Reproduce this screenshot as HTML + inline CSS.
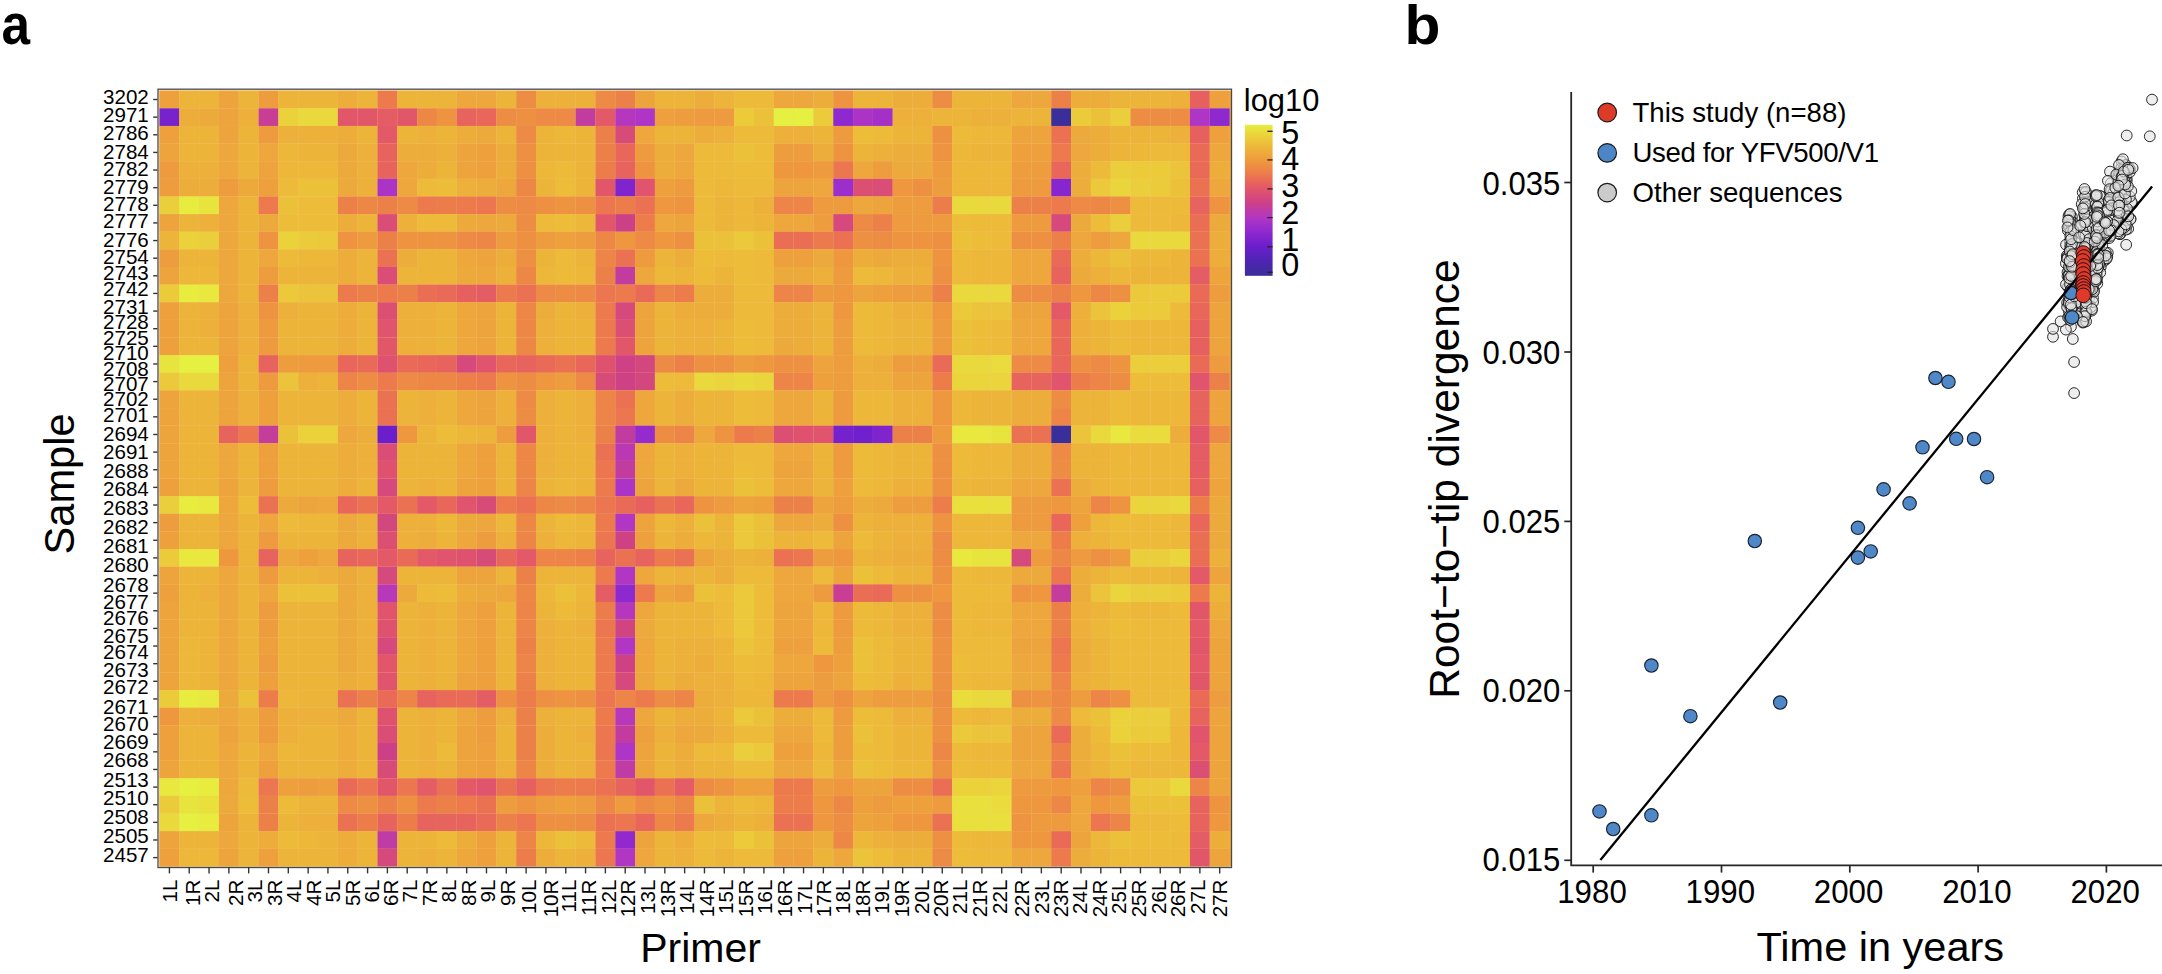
<!DOCTYPE html>
<html lang="en"><head><meta charset="utf-8"><title>Figure</title>
<style>html,body{margin:0;padding:0;background:#fff}svg{display:block}text{font-family:"Liberation Sans", sans-serif;fill:#000}</style></head><body>
<svg width="2162" height="974" viewBox="0 0 2162 974">
<rect width="2162" height="974" fill="#fff"/>
<rect x="159.50" y="90.70" width="1071.72" height="775.72" fill="#eda63c"/>
<rect x="159.50" y="90.70" width="1069.82" height="775.72" fill="#f3d088"/>
<g id="heat">
<rect x="159.50" y="90.70" width="19.82" height="17.63" fill="#eea03d"/>
<rect x="179.32" y="90.70" width="19.82" height="17.63" fill="#edb43a"/>
<rect x="199.13" y="90.70" width="19.82" height="17.63" fill="#edb43a"/>
<rect x="218.95" y="90.70" width="19.82" height="17.63" fill="#eea43c"/>
<rect x="238.77" y="90.70" width="19.82" height="17.63" fill="#edb43a"/>
<rect x="258.59" y="90.70" width="19.82" height="17.63" fill="#ee9d3e"/>
<rect x="278.40" y="90.70" width="19.82" height="17.63" fill="#edb43a"/>
<rect x="298.22" y="90.70" width="19.82" height="17.63" fill="#edb43a"/>
<rect x="318.04" y="90.70" width="19.82" height="17.63" fill="#edb43a"/>
<rect x="337.85" y="90.70" width="19.82" height="17.63" fill="#edad3b"/>
<rect x="357.67" y="90.70" width="19.82" height="17.63" fill="#edb43a"/>
<rect x="377.49" y="90.70" width="19.82" height="17.63" fill="#ec7a4c"/>
<rect x="397.30" y="90.70" width="19.82" height="17.63" fill="#edb43a"/>
<rect x="417.12" y="90.70" width="19.82" height="17.63" fill="#edb43a"/>
<rect x="436.94" y="90.70" width="19.82" height="17.63" fill="#edb43a"/>
<rect x="456.75" y="90.70" width="19.82" height="17.63" fill="#eea73c"/>
<rect x="476.57" y="90.70" width="19.82" height="17.63" fill="#eea73c"/>
<rect x="496.39" y="90.70" width="19.82" height="17.63" fill="#edb43a"/>
<rect x="516.21" y="90.70" width="19.82" height="17.63" fill="#ed8d44"/>
<rect x="536.02" y="90.70" width="19.82" height="17.63" fill="#edb13b"/>
<rect x="555.84" y="90.70" width="19.82" height="17.63" fill="#edb13b"/>
<rect x="575.66" y="90.70" width="19.82" height="17.63" fill="#edb13b"/>
<rect x="595.47" y="90.70" width="19.82" height="17.63" fill="#ed8a45"/>
<rect x="615.29" y="90.70" width="19.82" height="17.63" fill="#ec8049"/>
<rect x="635.11" y="90.70" width="19.82" height="17.63" fill="#eea43c"/>
<rect x="654.92" y="90.70" width="19.82" height="17.63" fill="#edb43a"/>
<rect x="674.74" y="90.70" width="19.82" height="17.63" fill="#edb43a"/>
<rect x="694.56" y="90.70" width="19.82" height="17.63" fill="#edad3b"/>
<rect x="714.38" y="90.70" width="19.82" height="17.63" fill="#edb43a"/>
<rect x="734.19" y="90.70" width="19.82" height="17.63" fill="#edba3a"/>
<rect x="754.01" y="90.70" width="19.82" height="17.63" fill="#edba3a"/>
<rect x="773.83" y="90.70" width="19.82" height="17.63" fill="#eea73c"/>
<rect x="793.64" y="90.70" width="19.82" height="17.63" fill="#eea73c"/>
<rect x="813.46" y="90.70" width="19.82" height="17.63" fill="#edad3b"/>
<rect x="833.28" y="90.70" width="19.82" height="17.63" fill="#ee9441"/>
<rect x="853.10" y="90.70" width="19.82" height="17.63" fill="#edb43a"/>
<rect x="872.91" y="90.70" width="19.82" height="17.63" fill="#edb43a"/>
<rect x="892.73" y="90.70" width="19.82" height="17.63" fill="#edad3b"/>
<rect x="912.55" y="90.70" width="19.82" height="17.63" fill="#edad3b"/>
<rect x="932.36" y="90.70" width="19.82" height="17.63" fill="#ed8d44"/>
<rect x="952.18" y="90.70" width="19.82" height="17.63" fill="#edb43a"/>
<rect x="972.00" y="90.70" width="19.82" height="17.63" fill="#edb43a"/>
<rect x="991.81" y="90.70" width="19.82" height="17.63" fill="#edb43a"/>
<rect x="1011.63" y="90.70" width="19.82" height="17.63" fill="#eea73c"/>
<rect x="1031.45" y="90.70" width="19.82" height="17.63" fill="#eea73c"/>
<rect x="1051.26" y="90.70" width="19.82" height="17.63" fill="#ec8049"/>
<rect x="1071.08" y="90.70" width="19.82" height="17.63" fill="#edad3b"/>
<rect x="1090.90" y="90.70" width="19.82" height="17.63" fill="#edad3b"/>
<rect x="1110.72" y="90.70" width="19.82" height="17.63" fill="#edb43a"/>
<rect x="1130.53" y="90.70" width="19.82" height="17.63" fill="#edb43a"/>
<rect x="1150.35" y="90.70" width="19.82" height="17.63" fill="#edb43a"/>
<rect x="1170.17" y="90.70" width="19.82" height="17.63" fill="#edb13b"/>
<rect x="1189.98" y="90.70" width="19.82" height="17.63" fill="#e66060"/>
<rect x="1209.80" y="90.70" width="19.82" height="17.63" fill="#eea03d"/>
<rect x="159.50" y="108.33" width="19.82" height="17.63" fill="#7822cd"/>
<rect x="179.32" y="108.33" width="19.82" height="17.63" fill="#edad3b"/>
<rect x="199.13" y="108.33" width="19.82" height="17.63" fill="#edaa3c"/>
<rect x="218.95" y="108.33" width="19.82" height="17.63" fill="#eea43c"/>
<rect x="238.77" y="108.33" width="19.82" height="17.63" fill="#edb13b"/>
<rect x="258.59" y="108.33" width="19.82" height="17.63" fill="#c73e94"/>
<rect x="278.40" y="108.33" width="19.82" height="17.63" fill="#ebd23b"/>
<rect x="298.22" y="108.33" width="19.82" height="17.63" fill="#ead93c"/>
<rect x="318.04" y="108.33" width="19.82" height="17.63" fill="#ead93c"/>
<rect x="337.85" y="108.33" width="19.82" height="17.63" fill="#e2566a"/>
<rect x="357.67" y="108.33" width="19.82" height="17.63" fill="#e2566a"/>
<rect x="377.49" y="108.33" width="19.82" height="17.63" fill="#e45c64"/>
<rect x="397.30" y="108.33" width="19.82" height="17.63" fill="#e2566a"/>
<rect x="417.12" y="108.33" width="19.82" height="17.63" fill="#ed8746"/>
<rect x="436.94" y="108.33" width="19.82" height="17.63" fill="#ee9441"/>
<rect x="456.75" y="108.33" width="19.82" height="17.63" fill="#e7635d"/>
<rect x="476.57" y="108.33" width="19.82" height="17.63" fill="#e8665a"/>
<rect x="496.39" y="108.33" width="19.82" height="17.63" fill="#ed8d44"/>
<rect x="516.21" y="108.33" width="19.82" height="17.63" fill="#ed9042"/>
<rect x="536.02" y="108.33" width="19.82" height="17.63" fill="#ed8a45"/>
<rect x="555.84" y="108.33" width="19.82" height="17.63" fill="#ed8a45"/>
<rect x="575.66" y="108.33" width="19.82" height="17.63" fill="#c23ca0"/>
<rect x="595.47" y="108.33" width="19.82" height="17.63" fill="#e35967"/>
<rect x="615.29" y="108.33" width="19.82" height="17.63" fill="#b537be"/>
<rect x="635.11" y="108.33" width="19.82" height="17.63" fill="#ae35c5"/>
<rect x="654.92" y="108.33" width="19.82" height="17.63" fill="#eea03d"/>
<rect x="674.74" y="108.33" width="19.82" height="17.63" fill="#ee9d3e"/>
<rect x="694.56" y="108.33" width="19.82" height="17.63" fill="#ee9a3e"/>
<rect x="714.38" y="108.33" width="19.82" height="17.63" fill="#ee9a3e"/>
<rect x="734.19" y="108.33" width="19.82" height="17.63" fill="#eccb3b"/>
<rect x="754.01" y="108.33" width="19.82" height="17.63" fill="#ecc13a"/>
<rect x="773.83" y="108.33" width="19.82" height="17.63" fill="#e6f040"/>
<rect x="793.64" y="108.33" width="19.82" height="17.63" fill="#e6f040"/>
<rect x="813.46" y="108.33" width="19.82" height="17.63" fill="#eccb3b"/>
<rect x="833.28" y="108.33" width="19.82" height="17.63" fill="#8e28cf"/>
<rect x="853.10" y="108.33" width="19.82" height="17.63" fill="#ab33c6"/>
<rect x="872.91" y="108.33" width="19.82" height="17.63" fill="#a430c8"/>
<rect x="892.73" y="108.33" width="19.82" height="17.63" fill="#edb13b"/>
<rect x="912.55" y="108.33" width="19.82" height="17.63" fill="#edb13b"/>
<rect x="932.36" y="108.33" width="19.82" height="17.63" fill="#edb43a"/>
<rect x="952.18" y="108.33" width="19.82" height="17.63" fill="#edb43a"/>
<rect x="972.00" y="108.33" width="19.82" height="17.63" fill="#edb13b"/>
<rect x="991.81" y="108.33" width="19.82" height="17.63" fill="#edb13b"/>
<rect x="1011.63" y="108.33" width="19.82" height="17.63" fill="#edb43a"/>
<rect x="1031.45" y="108.33" width="19.82" height="17.63" fill="#edb43a"/>
<rect x="1051.26" y="108.33" width="19.82" height="17.63" fill="#3a2e9a"/>
<rect x="1071.08" y="108.33" width="19.82" height="17.63" fill="#eccb3b"/>
<rect x="1090.90" y="108.33" width="19.82" height="17.63" fill="#ecc13a"/>
<rect x="1110.72" y="108.33" width="19.82" height="17.63" fill="#ebce3b"/>
<rect x="1130.53" y="108.33" width="19.82" height="17.63" fill="#ed8d44"/>
<rect x="1150.35" y="108.33" width="19.82" height="17.63" fill="#ed8d44"/>
<rect x="1170.17" y="108.33" width="19.82" height="17.63" fill="#ed8d44"/>
<rect x="1189.98" y="108.33" width="19.82" height="17.63" fill="#ae35c5"/>
<rect x="1209.80" y="108.33" width="19.82" height="17.63" fill="#8e28cf"/>
<rect x="159.50" y="125.96" width="19.82" height="17.63" fill="#eea03d"/>
<rect x="179.32" y="125.96" width="19.82" height="17.63" fill="#edb43a"/>
<rect x="199.13" y="125.96" width="19.82" height="17.63" fill="#edb43a"/>
<rect x="218.95" y="125.96" width="19.82" height="17.63" fill="#eea43c"/>
<rect x="238.77" y="125.96" width="19.82" height="17.63" fill="#edb43a"/>
<rect x="258.59" y="125.96" width="19.82" height="17.63" fill="#ee9a3e"/>
<rect x="278.40" y="125.96" width="19.82" height="17.63" fill="#edb13b"/>
<rect x="298.22" y="125.96" width="19.82" height="17.63" fill="#edb13b"/>
<rect x="318.04" y="125.96" width="19.82" height="17.63" fill="#edb13b"/>
<rect x="337.85" y="125.96" width="19.82" height="17.63" fill="#edad3b"/>
<rect x="357.67" y="125.96" width="19.82" height="17.63" fill="#edb43a"/>
<rect x="377.49" y="125.96" width="19.82" height="17.63" fill="#e35967"/>
<rect x="397.30" y="125.96" width="19.82" height="17.63" fill="#edb43a"/>
<rect x="417.12" y="125.96" width="19.82" height="17.63" fill="#edb13b"/>
<rect x="436.94" y="125.96" width="19.82" height="17.63" fill="#edb43a"/>
<rect x="456.75" y="125.96" width="19.82" height="17.63" fill="#edad3b"/>
<rect x="476.57" y="125.96" width="19.82" height="17.63" fill="#edaa3c"/>
<rect x="496.39" y="125.96" width="19.82" height="17.63" fill="#edb43a"/>
<rect x="516.21" y="125.96" width="19.82" height="17.63" fill="#ed8a45"/>
<rect x="536.02" y="125.96" width="19.82" height="17.63" fill="#edb43a"/>
<rect x="555.84" y="125.96" width="19.82" height="17.63" fill="#edb73a"/>
<rect x="575.66" y="125.96" width="19.82" height="17.63" fill="#edb43a"/>
<rect x="595.47" y="125.96" width="19.82" height="17.63" fill="#ec8049"/>
<rect x="615.29" y="125.96" width="19.82" height="17.63" fill="#d74b79"/>
<rect x="635.11" y="125.96" width="19.82" height="17.63" fill="#eea73c"/>
<rect x="654.92" y="125.96" width="19.82" height="17.63" fill="#edb43a"/>
<rect x="674.74" y="125.96" width="19.82" height="17.63" fill="#edb43a"/>
<rect x="694.56" y="125.96" width="19.82" height="17.63" fill="#edad3b"/>
<rect x="714.38" y="125.96" width="19.82" height="17.63" fill="#edb13b"/>
<rect x="734.19" y="125.96" width="19.82" height="17.63" fill="#edba3a"/>
<rect x="754.01" y="125.96" width="19.82" height="17.63" fill="#edba3a"/>
<rect x="773.83" y="125.96" width="19.82" height="17.63" fill="#edb13b"/>
<rect x="793.64" y="125.96" width="19.82" height="17.63" fill="#edb13b"/>
<rect x="813.46" y="125.96" width="19.82" height="17.63" fill="#edb43a"/>
<rect x="833.28" y="125.96" width="19.82" height="17.63" fill="#ee9a3e"/>
<rect x="853.10" y="125.96" width="19.82" height="17.63" fill="#edbd3a"/>
<rect x="872.91" y="125.96" width="19.82" height="17.63" fill="#edba3a"/>
<rect x="892.73" y="125.96" width="19.82" height="17.63" fill="#edb43a"/>
<rect x="912.55" y="125.96" width="19.82" height="17.63" fill="#edb43a"/>
<rect x="932.36" y="125.96" width="19.82" height="17.63" fill="#ed9042"/>
<rect x="952.18" y="125.96" width="19.82" height="17.63" fill="#edba3a"/>
<rect x="972.00" y="125.96" width="19.82" height="17.63" fill="#edb73a"/>
<rect x="991.81" y="125.96" width="19.82" height="17.63" fill="#edb73a"/>
<rect x="1011.63" y="125.96" width="19.82" height="17.63" fill="#eea43c"/>
<rect x="1031.45" y="125.96" width="19.82" height="17.63" fill="#eea43c"/>
<rect x="1051.26" y="125.96" width="19.82" height="17.63" fill="#ea7252"/>
<rect x="1071.08" y="125.96" width="19.82" height="17.63" fill="#edaa3c"/>
<rect x="1090.90" y="125.96" width="19.82" height="17.63" fill="#edad3b"/>
<rect x="1110.72" y="125.96" width="19.82" height="17.63" fill="#edb43a"/>
<rect x="1130.53" y="125.96" width="19.82" height="17.63" fill="#edb43a"/>
<rect x="1150.35" y="125.96" width="19.82" height="17.63" fill="#edb43a"/>
<rect x="1170.17" y="125.96" width="19.82" height="17.63" fill="#edb13b"/>
<rect x="1189.98" y="125.96" width="19.82" height="17.63" fill="#e66060"/>
<rect x="1209.80" y="125.96" width="19.82" height="17.63" fill="#eea03d"/>
<rect x="159.50" y="143.59" width="19.82" height="17.63" fill="#eea43c"/>
<rect x="179.32" y="143.59" width="19.82" height="17.63" fill="#edb43a"/>
<rect x="199.13" y="143.59" width="19.82" height="17.63" fill="#edb43a"/>
<rect x="218.95" y="143.59" width="19.82" height="17.63" fill="#eea73c"/>
<rect x="238.77" y="143.59" width="19.82" height="17.63" fill="#edb43a"/>
<rect x="258.59" y="143.59" width="19.82" height="17.63" fill="#eea73c"/>
<rect x="278.40" y="143.59" width="19.82" height="17.63" fill="#edb73a"/>
<rect x="298.22" y="143.59" width="19.82" height="17.63" fill="#edb43a"/>
<rect x="318.04" y="143.59" width="19.82" height="17.63" fill="#edb43a"/>
<rect x="337.85" y="143.59" width="19.82" height="17.63" fill="#edaa3c"/>
<rect x="357.67" y="143.59" width="19.82" height="17.63" fill="#edb13b"/>
<rect x="377.49" y="143.59" width="19.82" height="17.63" fill="#e7635d"/>
<rect x="397.30" y="143.59" width="19.82" height="17.63" fill="#edad3b"/>
<rect x="417.12" y="143.59" width="19.82" height="17.63" fill="#edad3b"/>
<rect x="436.94" y="143.59" width="19.82" height="17.63" fill="#edb13b"/>
<rect x="456.75" y="143.59" width="19.82" height="17.63" fill="#eea43c"/>
<rect x="476.57" y="143.59" width="19.82" height="17.63" fill="#eea03d"/>
<rect x="496.39" y="143.59" width="19.82" height="17.63" fill="#edad3b"/>
<rect x="516.21" y="143.59" width="19.82" height="17.63" fill="#ed9042"/>
<rect x="536.02" y="143.59" width="19.82" height="17.63" fill="#edb43a"/>
<rect x="555.84" y="143.59" width="19.82" height="17.63" fill="#edb43a"/>
<rect x="575.66" y="143.59" width="19.82" height="17.63" fill="#edb43a"/>
<rect x="595.47" y="143.59" width="19.82" height="17.63" fill="#ec8049"/>
<rect x="615.29" y="143.59" width="19.82" height="17.63" fill="#e8665a"/>
<rect x="635.11" y="143.59" width="19.82" height="17.63" fill="#ee9a3e"/>
<rect x="654.92" y="143.59" width="19.82" height="17.63" fill="#edad3b"/>
<rect x="674.74" y="143.59" width="19.82" height="17.63" fill="#eea73c"/>
<rect x="694.56" y="143.59" width="19.82" height="17.63" fill="#edba3a"/>
<rect x="714.38" y="143.59" width="19.82" height="17.63" fill="#edba3a"/>
<rect x="734.19" y="143.59" width="19.82" height="17.63" fill="#ecc13a"/>
<rect x="754.01" y="143.59" width="19.82" height="17.63" fill="#edbd3a"/>
<rect x="773.83" y="143.59" width="19.82" height="17.63" fill="#ee9d3e"/>
<rect x="793.64" y="143.59" width="19.82" height="17.63" fill="#ee9d3e"/>
<rect x="813.46" y="143.59" width="19.82" height="17.63" fill="#edad3b"/>
<rect x="833.28" y="143.59" width="19.82" height="17.63" fill="#ee9441"/>
<rect x="853.10" y="143.59" width="19.82" height="17.63" fill="#edb43a"/>
<rect x="872.91" y="143.59" width="19.82" height="17.63" fill="#edb13b"/>
<rect x="892.73" y="143.59" width="19.82" height="17.63" fill="#edad3b"/>
<rect x="912.55" y="143.59" width="19.82" height="17.63" fill="#edad3b"/>
<rect x="932.36" y="143.59" width="19.82" height="17.63" fill="#ee9441"/>
<rect x="952.18" y="143.59" width="19.82" height="17.63" fill="#edb73a"/>
<rect x="972.00" y="143.59" width="19.82" height="17.63" fill="#edb43a"/>
<rect x="991.81" y="143.59" width="19.82" height="17.63" fill="#edb43a"/>
<rect x="1011.63" y="143.59" width="19.82" height="17.63" fill="#eea03d"/>
<rect x="1031.45" y="143.59" width="19.82" height="17.63" fill="#eea03d"/>
<rect x="1051.26" y="143.59" width="19.82" height="17.63" fill="#ec7a4c"/>
<rect x="1071.08" y="143.59" width="19.82" height="17.63" fill="#eea73c"/>
<rect x="1090.90" y="143.59" width="19.82" height="17.63" fill="#edad3b"/>
<rect x="1110.72" y="143.59" width="19.82" height="17.63" fill="#edb43a"/>
<rect x="1130.53" y="143.59" width="19.82" height="17.63" fill="#edb73a"/>
<rect x="1150.35" y="143.59" width="19.82" height="17.63" fill="#edba3a"/>
<rect x="1170.17" y="143.59" width="19.82" height="17.63" fill="#edba3a"/>
<rect x="1189.98" y="143.59" width="19.82" height="17.63" fill="#e96a57"/>
<rect x="1209.80" y="143.59" width="19.82" height="17.63" fill="#eea73c"/>
<rect x="159.50" y="161.22" width="19.82" height="17.63" fill="#ee9a3e"/>
<rect x="179.32" y="161.22" width="19.82" height="17.63" fill="#edb13b"/>
<rect x="199.13" y="161.22" width="19.82" height="17.63" fill="#edb13b"/>
<rect x="218.95" y="161.22" width="19.82" height="17.63" fill="#eea73c"/>
<rect x="238.77" y="161.22" width="19.82" height="17.63" fill="#edb43a"/>
<rect x="258.59" y="161.22" width="19.82" height="17.63" fill="#eea43c"/>
<rect x="278.40" y="161.22" width="19.82" height="17.63" fill="#edb73a"/>
<rect x="298.22" y="161.22" width="19.82" height="17.63" fill="#edb73a"/>
<rect x="318.04" y="161.22" width="19.82" height="17.63" fill="#edb73a"/>
<rect x="337.85" y="161.22" width="19.82" height="17.63" fill="#edaa3c"/>
<rect x="357.67" y="161.22" width="19.82" height="17.63" fill="#edb13b"/>
<rect x="377.49" y="161.22" width="19.82" height="17.63" fill="#e7635d"/>
<rect x="397.30" y="161.22" width="19.82" height="17.63" fill="#eea73c"/>
<rect x="417.12" y="161.22" width="19.82" height="17.63" fill="#edad3b"/>
<rect x="436.94" y="161.22" width="19.82" height="17.63" fill="#edb43a"/>
<rect x="456.75" y="161.22" width="19.82" height="17.63" fill="#eea43c"/>
<rect x="476.57" y="161.22" width="19.82" height="17.63" fill="#eea03d"/>
<rect x="496.39" y="161.22" width="19.82" height="17.63" fill="#edad3b"/>
<rect x="516.21" y="161.22" width="19.82" height="17.63" fill="#ed9042"/>
<rect x="536.02" y="161.22" width="19.82" height="17.63" fill="#edb73a"/>
<rect x="555.84" y="161.22" width="19.82" height="17.63" fill="#edba3a"/>
<rect x="575.66" y="161.22" width="19.82" height="17.63" fill="#edb43a"/>
<rect x="595.47" y="161.22" width="19.82" height="17.63" fill="#ec7d4b"/>
<rect x="615.29" y="161.22" width="19.82" height="17.63" fill="#e7635d"/>
<rect x="635.11" y="161.22" width="19.82" height="17.63" fill="#ee9441"/>
<rect x="654.92" y="161.22" width="19.82" height="17.63" fill="#edad3b"/>
<rect x="674.74" y="161.22" width="19.82" height="17.63" fill="#eea73c"/>
<rect x="694.56" y="161.22" width="19.82" height="17.63" fill="#edba3a"/>
<rect x="714.38" y="161.22" width="19.82" height="17.63" fill="#edba3a"/>
<rect x="734.19" y="161.22" width="19.82" height="17.63" fill="#edbd3a"/>
<rect x="754.01" y="161.22" width="19.82" height="17.63" fill="#edbd3a"/>
<rect x="773.83" y="161.22" width="19.82" height="17.63" fill="#ee973f"/>
<rect x="793.64" y="161.22" width="19.82" height="17.63" fill="#ee973f"/>
<rect x="813.46" y="161.22" width="19.82" height="17.63" fill="#ee9a3e"/>
<rect x="833.28" y="161.22" width="19.82" height="17.63" fill="#eb764f"/>
<rect x="853.10" y="161.22" width="19.82" height="17.63" fill="#eea73c"/>
<rect x="872.91" y="161.22" width="19.82" height="17.63" fill="#ee9d3e"/>
<rect x="892.73" y="161.22" width="19.82" height="17.63" fill="#edaa3c"/>
<rect x="912.55" y="161.22" width="19.82" height="17.63" fill="#edaa3c"/>
<rect x="932.36" y="161.22" width="19.82" height="17.63" fill="#ee9a3e"/>
<rect x="952.18" y="161.22" width="19.82" height="17.63" fill="#edb73a"/>
<rect x="972.00" y="161.22" width="19.82" height="17.63" fill="#edb73a"/>
<rect x="991.81" y="161.22" width="19.82" height="17.63" fill="#edb73a"/>
<rect x="1011.63" y="161.22" width="19.82" height="17.63" fill="#ee9d3e"/>
<rect x="1031.45" y="161.22" width="19.82" height="17.63" fill="#ee9d3e"/>
<rect x="1051.26" y="161.22" width="19.82" height="17.63" fill="#e8665a"/>
<rect x="1071.08" y="161.22" width="19.82" height="17.63" fill="#edad3b"/>
<rect x="1090.90" y="161.22" width="19.82" height="17.63" fill="#edba3a"/>
<rect x="1110.72" y="161.22" width="19.82" height="17.63" fill="#ebce3b"/>
<rect x="1130.53" y="161.22" width="19.82" height="17.63" fill="#eccb3b"/>
<rect x="1150.35" y="161.22" width="19.82" height="17.63" fill="#eccb3b"/>
<rect x="1170.17" y="161.22" width="19.82" height="17.63" fill="#ecc43b"/>
<rect x="1189.98" y="161.22" width="19.82" height="17.63" fill="#e96a57"/>
<rect x="1209.80" y="161.22" width="19.82" height="17.63" fill="#edad3b"/>
<rect x="159.50" y="178.85" width="19.82" height="17.63" fill="#ee9d3e"/>
<rect x="179.32" y="178.85" width="19.82" height="17.63" fill="#edad3b"/>
<rect x="199.13" y="178.85" width="19.82" height="17.63" fill="#edad3b"/>
<rect x="218.95" y="178.85" width="19.82" height="17.63" fill="#ee9d3e"/>
<rect x="238.77" y="178.85" width="19.82" height="17.63" fill="#edaa3c"/>
<rect x="258.59" y="178.85" width="19.82" height="17.63" fill="#eea03d"/>
<rect x="278.40" y="178.85" width="19.82" height="17.63" fill="#edba3a"/>
<rect x="298.22" y="178.85" width="19.82" height="17.63" fill="#ecc13a"/>
<rect x="318.04" y="178.85" width="19.82" height="17.63" fill="#ecc13a"/>
<rect x="337.85" y="178.85" width="19.82" height="17.63" fill="#edaa3c"/>
<rect x="357.67" y="178.85" width="19.82" height="17.63" fill="#edb13b"/>
<rect x="377.49" y="178.85" width="19.82" height="17.63" fill="#ab33c6"/>
<rect x="397.30" y="178.85" width="19.82" height="17.63" fill="#eea73c"/>
<rect x="417.12" y="178.85" width="19.82" height="17.63" fill="#edba3a"/>
<rect x="436.94" y="178.85" width="19.82" height="17.63" fill="#edbd3a"/>
<rect x="456.75" y="178.85" width="19.82" height="17.63" fill="#edb13b"/>
<rect x="476.57" y="178.85" width="19.82" height="17.63" fill="#edad3b"/>
<rect x="496.39" y="178.85" width="19.82" height="17.63" fill="#eea73c"/>
<rect x="516.21" y="178.85" width="19.82" height="17.63" fill="#ed8746"/>
<rect x="536.02" y="178.85" width="19.82" height="17.63" fill="#edb43a"/>
<rect x="555.84" y="178.85" width="19.82" height="17.63" fill="#edbd3a"/>
<rect x="575.66" y="178.85" width="19.82" height="17.63" fill="#edb43a"/>
<rect x="595.47" y="178.85" width="19.82" height="17.63" fill="#e2566a"/>
<rect x="615.29" y="178.85" width="19.82" height="17.63" fill="#8024ce"/>
<rect x="635.11" y="178.85" width="19.82" height="17.63" fill="#e0546d"/>
<rect x="654.92" y="178.85" width="19.82" height="17.63" fill="#eea03d"/>
<rect x="674.74" y="178.85" width="19.82" height="17.63" fill="#ee9a3e"/>
<rect x="694.56" y="178.85" width="19.82" height="17.63" fill="#edba3a"/>
<rect x="714.38" y="178.85" width="19.82" height="17.63" fill="#edb73a"/>
<rect x="734.19" y="178.85" width="19.82" height="17.63" fill="#edba3a"/>
<rect x="754.01" y="178.85" width="19.82" height="17.63" fill="#edba3a"/>
<rect x="773.83" y="178.85" width="19.82" height="17.63" fill="#eea43c"/>
<rect x="793.64" y="178.85" width="19.82" height="17.63" fill="#eea43c"/>
<rect x="813.46" y="178.85" width="19.82" height="17.63" fill="#eea73c"/>
<rect x="833.28" y="178.85" width="19.82" height="17.63" fill="#9c2ecb"/>
<rect x="853.10" y="178.85" width="19.82" height="17.63" fill="#db4f73"/>
<rect x="872.91" y="178.85" width="19.82" height="17.63" fill="#d94d76"/>
<rect x="892.73" y="178.85" width="19.82" height="17.63" fill="#ee973f"/>
<rect x="912.55" y="178.85" width="19.82" height="17.63" fill="#ed9042"/>
<rect x="932.36" y="178.85" width="19.82" height="17.63" fill="#ee9d3e"/>
<rect x="952.18" y="178.85" width="19.82" height="17.63" fill="#edb73a"/>
<rect x="972.00" y="178.85" width="19.82" height="17.63" fill="#edb73a"/>
<rect x="991.81" y="178.85" width="19.82" height="17.63" fill="#edb73a"/>
<rect x="1011.63" y="178.85" width="19.82" height="17.63" fill="#ee9a3e"/>
<rect x="1031.45" y="178.85" width="19.82" height="17.63" fill="#ee9a3e"/>
<rect x="1051.26" y="178.85" width="19.82" height="17.63" fill="#8726ce"/>
<rect x="1071.08" y="178.85" width="19.82" height="17.63" fill="#edad3b"/>
<rect x="1090.90" y="178.85" width="19.82" height="17.63" fill="#ecc83b"/>
<rect x="1110.72" y="178.85" width="19.82" height="17.63" fill="#ebd53c"/>
<rect x="1130.53" y="178.85" width="19.82" height="17.63" fill="#ebce3b"/>
<rect x="1150.35" y="178.85" width="19.82" height="17.63" fill="#eccb3b"/>
<rect x="1170.17" y="178.85" width="19.82" height="17.63" fill="#ecc13a"/>
<rect x="1189.98" y="178.85" width="19.82" height="17.63" fill="#ea7252"/>
<rect x="1209.80" y="178.85" width="19.82" height="17.63" fill="#eea73c"/>
<rect x="159.50" y="196.48" width="19.82" height="17.63" fill="#ebce3b"/>
<rect x="179.32" y="196.48" width="19.82" height="17.63" fill="#e7ec3f"/>
<rect x="199.13" y="196.48" width="19.82" height="17.63" fill="#e8e43e"/>
<rect x="218.95" y="196.48" width="19.82" height="17.63" fill="#eea73c"/>
<rect x="238.77" y="196.48" width="19.82" height="17.63" fill="#edb43a"/>
<rect x="258.59" y="196.48" width="19.82" height="17.63" fill="#ec7a4c"/>
<rect x="278.40" y="196.48" width="19.82" height="17.63" fill="#ecc13a"/>
<rect x="298.22" y="196.48" width="19.82" height="17.63" fill="#edbd3a"/>
<rect x="318.04" y="196.48" width="19.82" height="17.63" fill="#edbd3a"/>
<rect x="337.85" y="196.48" width="19.82" height="17.63" fill="#ec8049"/>
<rect x="357.67" y="196.48" width="19.82" height="17.63" fill="#ed8746"/>
<rect x="377.49" y="196.48" width="19.82" height="17.63" fill="#ec8049"/>
<rect x="397.30" y="196.48" width="19.82" height="17.63" fill="#ed8a45"/>
<rect x="417.12" y="196.48" width="19.82" height="17.63" fill="#ec7a4c"/>
<rect x="436.94" y="196.48" width="19.82" height="17.63" fill="#ec7d4b"/>
<rect x="456.75" y="196.48" width="19.82" height="17.63" fill="#ec7a4c"/>
<rect x="476.57" y="196.48" width="19.82" height="17.63" fill="#eb764f"/>
<rect x="496.39" y="196.48" width="19.82" height="17.63" fill="#ed8d44"/>
<rect x="516.21" y="196.48" width="19.82" height="17.63" fill="#ed8a45"/>
<rect x="536.02" y="196.48" width="19.82" height="17.63" fill="#ed9042"/>
<rect x="555.84" y="196.48" width="19.82" height="17.63" fill="#ee9441"/>
<rect x="575.66" y="196.48" width="19.82" height="17.63" fill="#ed9042"/>
<rect x="595.47" y="196.48" width="19.82" height="17.63" fill="#eb764f"/>
<rect x="615.29" y="196.48" width="19.82" height="17.63" fill="#ec7d4b"/>
<rect x="635.11" y="196.48" width="19.82" height="17.63" fill="#ea7252"/>
<rect x="654.92" y="196.48" width="19.82" height="17.63" fill="#ee973f"/>
<rect x="674.74" y="196.48" width="19.82" height="17.63" fill="#ee9441"/>
<rect x="694.56" y="196.48" width="19.82" height="17.63" fill="#edba3a"/>
<rect x="714.38" y="196.48" width="19.82" height="17.63" fill="#edb43a"/>
<rect x="734.19" y="196.48" width="19.82" height="17.63" fill="#edb73a"/>
<rect x="754.01" y="196.48" width="19.82" height="17.63" fill="#edb13b"/>
<rect x="773.83" y="196.48" width="19.82" height="17.63" fill="#ed8448"/>
<rect x="793.64" y="196.48" width="19.82" height="17.63" fill="#ed8448"/>
<rect x="813.46" y="196.48" width="19.82" height="17.63" fill="#ee9a3e"/>
<rect x="833.28" y="196.48" width="19.82" height="17.63" fill="#ee9a3e"/>
<rect x="853.10" y="196.48" width="19.82" height="17.63" fill="#eea73c"/>
<rect x="872.91" y="196.48" width="19.82" height="17.63" fill="#eea43c"/>
<rect x="892.73" y="196.48" width="19.82" height="17.63" fill="#ee9d3e"/>
<rect x="912.55" y="196.48" width="19.82" height="17.63" fill="#ee9d3e"/>
<rect x="932.36" y="196.48" width="19.82" height="17.63" fill="#ec7d4b"/>
<rect x="952.18" y="196.48" width="19.82" height="17.63" fill="#ead93c"/>
<rect x="972.00" y="196.48" width="19.82" height="17.63" fill="#ead93c"/>
<rect x="991.81" y="196.48" width="19.82" height="17.63" fill="#ead93c"/>
<rect x="1011.63" y="196.48" width="19.82" height="17.63" fill="#ec8049"/>
<rect x="1031.45" y="196.48" width="19.82" height="17.63" fill="#ec8049"/>
<rect x="1051.26" y="196.48" width="19.82" height="17.63" fill="#ec7a4c"/>
<rect x="1071.08" y="196.48" width="19.82" height="17.63" fill="#ed8a45"/>
<rect x="1090.90" y="196.48" width="19.82" height="17.63" fill="#ed8746"/>
<rect x="1110.72" y="196.48" width="19.82" height="17.63" fill="#ed9042"/>
<rect x="1130.53" y="196.48" width="19.82" height="17.63" fill="#edba3a"/>
<rect x="1150.35" y="196.48" width="19.82" height="17.63" fill="#edba3a"/>
<rect x="1170.17" y="196.48" width="19.82" height="17.63" fill="#edba3a"/>
<rect x="1189.98" y="196.48" width="19.82" height="17.63" fill="#e7635d"/>
<rect x="1209.80" y="196.48" width="19.82" height="17.63" fill="#ee9441"/>
<rect x="159.50" y="214.11" width="19.82" height="17.63" fill="#eea43c"/>
<rect x="179.32" y="214.11" width="19.82" height="17.63" fill="#edb43a"/>
<rect x="199.13" y="214.11" width="19.82" height="17.63" fill="#edb13b"/>
<rect x="218.95" y="214.11" width="19.82" height="17.63" fill="#eea73c"/>
<rect x="238.77" y="214.11" width="19.82" height="17.63" fill="#edb43a"/>
<rect x="258.59" y="214.11" width="19.82" height="17.63" fill="#edaa3c"/>
<rect x="278.40" y="214.11" width="19.82" height="17.63" fill="#edbd3a"/>
<rect x="298.22" y="214.11" width="19.82" height="17.63" fill="#edbd3a"/>
<rect x="318.04" y="214.11" width="19.82" height="17.63" fill="#edbd3a"/>
<rect x="337.85" y="214.11" width="19.82" height="17.63" fill="#edad3b"/>
<rect x="357.67" y="214.11" width="19.82" height="17.63" fill="#edb43a"/>
<rect x="377.49" y="214.11" width="19.82" height="17.63" fill="#d94d76"/>
<rect x="397.30" y="214.11" width="19.82" height="17.63" fill="#edb13b"/>
<rect x="417.12" y="214.11" width="19.82" height="17.63" fill="#edba3a"/>
<rect x="436.94" y="214.11" width="19.82" height="17.63" fill="#edba3a"/>
<rect x="456.75" y="214.11" width="19.82" height="17.63" fill="#edaa3c"/>
<rect x="476.57" y="214.11" width="19.82" height="17.63" fill="#eea73c"/>
<rect x="496.39" y="214.11" width="19.82" height="17.63" fill="#edaa3c"/>
<rect x="516.21" y="214.11" width="19.82" height="17.63" fill="#ed8d44"/>
<rect x="536.02" y="214.11" width="19.82" height="17.63" fill="#edba3a"/>
<rect x="555.84" y="214.11" width="19.82" height="17.63" fill="#edbd3a"/>
<rect x="575.66" y="214.11" width="19.82" height="17.63" fill="#edb73a"/>
<rect x="595.47" y="214.11" width="19.82" height="17.63" fill="#e2566a"/>
<rect x="615.29" y="214.11" width="19.82" height="17.63" fill="#cc4088"/>
<rect x="635.11" y="214.11" width="19.82" height="17.63" fill="#ec7d4b"/>
<rect x="654.92" y="214.11" width="19.82" height="17.63" fill="#eea73c"/>
<rect x="674.74" y="214.11" width="19.82" height="17.63" fill="#eea43c"/>
<rect x="694.56" y="214.11" width="19.82" height="17.63" fill="#edba3a"/>
<rect x="714.38" y="214.11" width="19.82" height="17.63" fill="#edb43a"/>
<rect x="734.19" y="214.11" width="19.82" height="17.63" fill="#edb73a"/>
<rect x="754.01" y="214.11" width="19.82" height="17.63" fill="#edb43a"/>
<rect x="773.83" y="214.11" width="19.82" height="17.63" fill="#eea73c"/>
<rect x="793.64" y="214.11" width="19.82" height="17.63" fill="#eea73c"/>
<rect x="813.46" y="214.11" width="19.82" height="17.63" fill="#ee9d3e"/>
<rect x="833.28" y="214.11" width="19.82" height="17.63" fill="#d5497c"/>
<rect x="853.10" y="214.11" width="19.82" height="17.63" fill="#ed8a45"/>
<rect x="872.91" y="214.11" width="19.82" height="17.63" fill="#ec8049"/>
<rect x="892.73" y="214.11" width="19.82" height="17.63" fill="#ee9a3e"/>
<rect x="912.55" y="214.11" width="19.82" height="17.63" fill="#ee9a3e"/>
<rect x="932.36" y="214.11" width="19.82" height="17.63" fill="#ee9a3e"/>
<rect x="952.18" y="214.11" width="19.82" height="17.63" fill="#edbd3a"/>
<rect x="972.00" y="214.11" width="19.82" height="17.63" fill="#edba3a"/>
<rect x="991.81" y="214.11" width="19.82" height="17.63" fill="#edba3a"/>
<rect x="1011.63" y="214.11" width="19.82" height="17.63" fill="#ee9a3e"/>
<rect x="1031.45" y="214.11" width="19.82" height="17.63" fill="#ee9a3e"/>
<rect x="1051.26" y="214.11" width="19.82" height="17.63" fill="#d5497c"/>
<rect x="1071.08" y="214.11" width="19.82" height="17.63" fill="#edaa3c"/>
<rect x="1090.90" y="214.11" width="19.82" height="17.63" fill="#edbd3a"/>
<rect x="1110.72" y="214.11" width="19.82" height="17.63" fill="#ebce3b"/>
<rect x="1130.53" y="214.11" width="19.82" height="17.63" fill="#edba3a"/>
<rect x="1150.35" y="214.11" width="19.82" height="17.63" fill="#edba3a"/>
<rect x="1170.17" y="214.11" width="19.82" height="17.63" fill="#edb73a"/>
<rect x="1189.98" y="214.11" width="19.82" height="17.63" fill="#ea6e54"/>
<rect x="1209.80" y="214.11" width="19.82" height="17.63" fill="#edaa3c"/>
<rect x="159.50" y="231.74" width="19.82" height="17.63" fill="#edb43a"/>
<rect x="179.32" y="231.74" width="19.82" height="17.63" fill="#ebd23b"/>
<rect x="199.13" y="231.74" width="19.82" height="17.63" fill="#ebce3b"/>
<rect x="218.95" y="231.74" width="19.82" height="17.63" fill="#eea73c"/>
<rect x="238.77" y="231.74" width="19.82" height="17.63" fill="#edb43a"/>
<rect x="258.59" y="231.74" width="19.82" height="17.63" fill="#ee9441"/>
<rect x="278.40" y="231.74" width="19.82" height="17.63" fill="#ebd23b"/>
<rect x="298.22" y="231.74" width="19.82" height="17.63" fill="#eccb3b"/>
<rect x="318.04" y="231.74" width="19.82" height="17.63" fill="#ecc83b"/>
<rect x="337.85" y="231.74" width="19.82" height="17.63" fill="#ee9441"/>
<rect x="357.67" y="231.74" width="19.82" height="17.63" fill="#ee9a3e"/>
<rect x="377.49" y="231.74" width="19.82" height="17.63" fill="#ec8049"/>
<rect x="397.30" y="231.74" width="19.82" height="17.63" fill="#ee9441"/>
<rect x="417.12" y="231.74" width="19.82" height="17.63" fill="#ee9441"/>
<rect x="436.94" y="231.74" width="19.82" height="17.63" fill="#ee9441"/>
<rect x="456.75" y="231.74" width="19.82" height="17.63" fill="#ed8a45"/>
<rect x="476.57" y="231.74" width="19.82" height="17.63" fill="#ed8746"/>
<rect x="496.39" y="231.74" width="19.82" height="17.63" fill="#ee9a3e"/>
<rect x="516.21" y="231.74" width="19.82" height="17.63" fill="#ed9042"/>
<rect x="536.02" y="231.74" width="19.82" height="17.63" fill="#ee9d3e"/>
<rect x="555.84" y="231.74" width="19.82" height="17.63" fill="#eea03d"/>
<rect x="575.66" y="231.74" width="19.82" height="17.63" fill="#ee9d3e"/>
<rect x="595.47" y="231.74" width="19.82" height="17.63" fill="#ed8746"/>
<rect x="615.29" y="231.74" width="19.82" height="17.63" fill="#ee973f"/>
<rect x="635.11" y="231.74" width="19.82" height="17.63" fill="#ed8a45"/>
<rect x="654.92" y="231.74" width="19.82" height="17.63" fill="#ee973f"/>
<rect x="674.74" y="231.74" width="19.82" height="17.63" fill="#ed9042"/>
<rect x="694.56" y="231.74" width="19.82" height="17.63" fill="#ecc13a"/>
<rect x="714.38" y="231.74" width="19.82" height="17.63" fill="#ecc13a"/>
<rect x="734.19" y="231.74" width="19.82" height="17.63" fill="#ecc83b"/>
<rect x="754.01" y="231.74" width="19.82" height="17.63" fill="#ecc13a"/>
<rect x="773.83" y="231.74" width="19.82" height="17.63" fill="#ea6e54"/>
<rect x="793.64" y="231.74" width="19.82" height="17.63" fill="#ea6e54"/>
<rect x="813.46" y="231.74" width="19.82" height="17.63" fill="#ec7a4c"/>
<rect x="833.28" y="231.74" width="19.82" height="17.63" fill="#ea7252"/>
<rect x="853.10" y="231.74" width="19.82" height="17.63" fill="#ed9042"/>
<rect x="872.91" y="231.74" width="19.82" height="17.63" fill="#ed8d44"/>
<rect x="892.73" y="231.74" width="19.82" height="17.63" fill="#ee9441"/>
<rect x="912.55" y="231.74" width="19.82" height="17.63" fill="#ee9441"/>
<rect x="932.36" y="231.74" width="19.82" height="17.63" fill="#ed9042"/>
<rect x="952.18" y="231.74" width="19.82" height="17.63" fill="#ecc13a"/>
<rect x="972.00" y="231.74" width="19.82" height="17.63" fill="#edbd3a"/>
<rect x="991.81" y="231.74" width="19.82" height="17.63" fill="#edba3a"/>
<rect x="1011.63" y="231.74" width="19.82" height="17.63" fill="#ed9042"/>
<rect x="1031.45" y="231.74" width="19.82" height="17.63" fill="#ed9042"/>
<rect x="1051.26" y="231.74" width="19.82" height="17.63" fill="#ec8049"/>
<rect x="1071.08" y="231.74" width="19.82" height="17.63" fill="#eea73c"/>
<rect x="1090.90" y="231.74" width="19.82" height="17.63" fill="#ee9d3e"/>
<rect x="1110.72" y="231.74" width="19.82" height="17.63" fill="#eea73c"/>
<rect x="1130.53" y="231.74" width="19.82" height="17.63" fill="#ead93c"/>
<rect x="1150.35" y="231.74" width="19.82" height="17.63" fill="#ead93c"/>
<rect x="1170.17" y="231.74" width="19.82" height="17.63" fill="#ead93c"/>
<rect x="1189.98" y="231.74" width="19.82" height="17.63" fill="#ea7252"/>
<rect x="1209.80" y="231.74" width="19.82" height="17.63" fill="#edad3b"/>
<rect x="159.50" y="249.37" width="19.82" height="17.63" fill="#ee9d3e"/>
<rect x="179.32" y="249.37" width="19.82" height="17.63" fill="#edb43a"/>
<rect x="199.13" y="249.37" width="19.82" height="17.63" fill="#edb43a"/>
<rect x="218.95" y="249.37" width="19.82" height="17.63" fill="#eea73c"/>
<rect x="238.77" y="249.37" width="19.82" height="17.63" fill="#edb43a"/>
<rect x="258.59" y="249.37" width="19.82" height="17.63" fill="#eea73c"/>
<rect x="278.40" y="249.37" width="19.82" height="17.63" fill="#edba3a"/>
<rect x="298.22" y="249.37" width="19.82" height="17.63" fill="#edb73a"/>
<rect x="318.04" y="249.37" width="19.82" height="17.63" fill="#edb73a"/>
<rect x="337.85" y="249.37" width="19.82" height="17.63" fill="#edad3b"/>
<rect x="357.67" y="249.37" width="19.82" height="17.63" fill="#edb43a"/>
<rect x="377.49" y="249.37" width="19.82" height="17.63" fill="#ea7252"/>
<rect x="397.30" y="249.37" width="19.82" height="17.63" fill="#edad3b"/>
<rect x="417.12" y="249.37" width="19.82" height="17.63" fill="#edb43a"/>
<rect x="436.94" y="249.37" width="19.82" height="17.63" fill="#edb43a"/>
<rect x="456.75" y="249.37" width="19.82" height="17.63" fill="#eea73c"/>
<rect x="476.57" y="249.37" width="19.82" height="17.63" fill="#eea43c"/>
<rect x="496.39" y="249.37" width="19.82" height="17.63" fill="#edad3b"/>
<rect x="516.21" y="249.37" width="19.82" height="17.63" fill="#ed9042"/>
<rect x="536.02" y="249.37" width="19.82" height="17.63" fill="#edb43a"/>
<rect x="555.84" y="249.37" width="19.82" height="17.63" fill="#edba3a"/>
<rect x="575.66" y="249.37" width="19.82" height="17.63" fill="#edb43a"/>
<rect x="595.47" y="249.37" width="19.82" height="17.63" fill="#ed8448"/>
<rect x="615.29" y="249.37" width="19.82" height="17.63" fill="#ea7252"/>
<rect x="635.11" y="249.37" width="19.82" height="17.63" fill="#ee9a3e"/>
<rect x="654.92" y="249.37" width="19.82" height="17.63" fill="#edb43a"/>
<rect x="674.74" y="249.37" width="19.82" height="17.63" fill="#edad3b"/>
<rect x="694.56" y="249.37" width="19.82" height="17.63" fill="#edbd3a"/>
<rect x="714.38" y="249.37" width="19.82" height="17.63" fill="#edba3a"/>
<rect x="734.19" y="249.37" width="19.82" height="17.63" fill="#edbd3a"/>
<rect x="754.01" y="249.37" width="19.82" height="17.63" fill="#edba3a"/>
<rect x="773.83" y="249.37" width="19.82" height="17.63" fill="#eea03d"/>
<rect x="793.64" y="249.37" width="19.82" height="17.63" fill="#eea03d"/>
<rect x="813.46" y="249.37" width="19.82" height="17.63" fill="#edaa3c"/>
<rect x="833.28" y="249.37" width="19.82" height="17.63" fill="#ee973f"/>
<rect x="853.10" y="249.37" width="19.82" height="17.63" fill="#edad3b"/>
<rect x="872.91" y="249.37" width="19.82" height="17.63" fill="#edaa3c"/>
<rect x="892.73" y="249.37" width="19.82" height="17.63" fill="#edad3b"/>
<rect x="912.55" y="249.37" width="19.82" height="17.63" fill="#edad3b"/>
<rect x="932.36" y="249.37" width="19.82" height="17.63" fill="#ee9441"/>
<rect x="952.18" y="249.37" width="19.82" height="17.63" fill="#edba3a"/>
<rect x="972.00" y="249.37" width="19.82" height="17.63" fill="#edb73a"/>
<rect x="991.81" y="249.37" width="19.82" height="17.63" fill="#edb73a"/>
<rect x="1011.63" y="249.37" width="19.82" height="17.63" fill="#eea73c"/>
<rect x="1031.45" y="249.37" width="19.82" height="17.63" fill="#eea73c"/>
<rect x="1051.26" y="249.37" width="19.82" height="17.63" fill="#e96a57"/>
<rect x="1071.08" y="249.37" width="19.82" height="17.63" fill="#edad3b"/>
<rect x="1090.90" y="249.37" width="19.82" height="17.63" fill="#edb73a"/>
<rect x="1110.72" y="249.37" width="19.82" height="17.63" fill="#ecc13a"/>
<rect x="1130.53" y="249.37" width="19.82" height="17.63" fill="#edb73a"/>
<rect x="1150.35" y="249.37" width="19.82" height="17.63" fill="#edb73a"/>
<rect x="1170.17" y="249.37" width="19.82" height="17.63" fill="#edb43a"/>
<rect x="1189.98" y="249.37" width="19.82" height="17.63" fill="#ea7252"/>
<rect x="1209.80" y="249.37" width="19.82" height="17.63" fill="#edad3b"/>
<rect x="159.50" y="267.00" width="19.82" height="17.63" fill="#eea43c"/>
<rect x="179.32" y="267.00" width="19.82" height="17.63" fill="#edb73a"/>
<rect x="199.13" y="267.00" width="19.82" height="17.63" fill="#edb73a"/>
<rect x="218.95" y="267.00" width="19.82" height="17.63" fill="#eea73c"/>
<rect x="238.77" y="267.00" width="19.82" height="17.63" fill="#edb43a"/>
<rect x="258.59" y="267.00" width="19.82" height="17.63" fill="#ee9d3e"/>
<rect x="278.40" y="267.00" width="19.82" height="17.63" fill="#edb43a"/>
<rect x="298.22" y="267.00" width="19.82" height="17.63" fill="#edb43a"/>
<rect x="318.04" y="267.00" width="19.82" height="17.63" fill="#edb43a"/>
<rect x="337.85" y="267.00" width="19.82" height="17.63" fill="#edad3b"/>
<rect x="357.67" y="267.00" width="19.82" height="17.63" fill="#edb43a"/>
<rect x="377.49" y="267.00" width="19.82" height="17.63" fill="#d94d76"/>
<rect x="397.30" y="267.00" width="19.82" height="17.63" fill="#edb43a"/>
<rect x="417.12" y="267.00" width="19.82" height="17.63" fill="#edb43a"/>
<rect x="436.94" y="267.00" width="19.82" height="17.63" fill="#edb43a"/>
<rect x="456.75" y="267.00" width="19.82" height="17.63" fill="#edaa3c"/>
<rect x="476.57" y="267.00" width="19.82" height="17.63" fill="#eea73c"/>
<rect x="496.39" y="267.00" width="19.82" height="17.63" fill="#edb13b"/>
<rect x="516.21" y="267.00" width="19.82" height="17.63" fill="#ed8746"/>
<rect x="536.02" y="267.00" width="19.82" height="17.63" fill="#edb73a"/>
<rect x="555.84" y="267.00" width="19.82" height="17.63" fill="#edba3a"/>
<rect x="575.66" y="267.00" width="19.82" height="17.63" fill="#edb73a"/>
<rect x="595.47" y="267.00" width="19.82" height="17.63" fill="#ec8049"/>
<rect x="615.29" y="267.00" width="19.82" height="17.63" fill="#c23ca0"/>
<rect x="635.11" y="267.00" width="19.82" height="17.63" fill="#eea73c"/>
<rect x="654.92" y="267.00" width="19.82" height="17.63" fill="#edb73a"/>
<rect x="674.74" y="267.00" width="19.82" height="17.63" fill="#edb43a"/>
<rect x="694.56" y="267.00" width="19.82" height="17.63" fill="#edba3a"/>
<rect x="714.38" y="267.00" width="19.82" height="17.63" fill="#edb43a"/>
<rect x="734.19" y="267.00" width="19.82" height="17.63" fill="#edbd3a"/>
<rect x="754.01" y="267.00" width="19.82" height="17.63" fill="#edba3a"/>
<rect x="773.83" y="267.00" width="19.82" height="17.63" fill="#edaa3c"/>
<rect x="793.64" y="267.00" width="19.82" height="17.63" fill="#edaa3c"/>
<rect x="813.46" y="267.00" width="19.82" height="17.63" fill="#edb13b"/>
<rect x="833.28" y="267.00" width="19.82" height="17.63" fill="#ee9a3e"/>
<rect x="853.10" y="267.00" width="19.82" height="17.63" fill="#edba3a"/>
<rect x="872.91" y="267.00" width="19.82" height="17.63" fill="#edb73a"/>
<rect x="892.73" y="267.00" width="19.82" height="17.63" fill="#edb13b"/>
<rect x="912.55" y="267.00" width="19.82" height="17.63" fill="#edb13b"/>
<rect x="932.36" y="267.00" width="19.82" height="17.63" fill="#ed9042"/>
<rect x="952.18" y="267.00" width="19.82" height="17.63" fill="#edba3a"/>
<rect x="972.00" y="267.00" width="19.82" height="17.63" fill="#edb73a"/>
<rect x="991.81" y="267.00" width="19.82" height="17.63" fill="#edb73a"/>
<rect x="1011.63" y="267.00" width="19.82" height="17.63" fill="#eea73c"/>
<rect x="1031.45" y="267.00" width="19.82" height="17.63" fill="#eea73c"/>
<rect x="1051.26" y="267.00" width="19.82" height="17.63" fill="#e7635d"/>
<rect x="1071.08" y="267.00" width="19.82" height="17.63" fill="#edaa3c"/>
<rect x="1090.90" y="267.00" width="19.82" height="17.63" fill="#edb13b"/>
<rect x="1110.72" y="267.00" width="19.82" height="17.63" fill="#edb73a"/>
<rect x="1130.53" y="267.00" width="19.82" height="17.63" fill="#edb43a"/>
<rect x="1150.35" y="267.00" width="19.82" height="17.63" fill="#edb43a"/>
<rect x="1170.17" y="267.00" width="19.82" height="17.63" fill="#edb43a"/>
<rect x="1189.98" y="267.00" width="19.82" height="17.63" fill="#e45c64"/>
<rect x="1209.80" y="267.00" width="19.82" height="17.63" fill="#eea43c"/>
<rect x="159.50" y="284.63" width="19.82" height="17.63" fill="#eccb3b"/>
<rect x="179.32" y="284.63" width="19.82" height="17.63" fill="#e7ec3f"/>
<rect x="199.13" y="284.63" width="19.82" height="17.63" fill="#e8e83e"/>
<rect x="218.95" y="284.63" width="19.82" height="17.63" fill="#eea73c"/>
<rect x="238.77" y="284.63" width="19.82" height="17.63" fill="#edb43a"/>
<rect x="258.59" y="284.63" width="19.82" height="17.63" fill="#ec8049"/>
<rect x="278.40" y="284.63" width="19.82" height="17.63" fill="#ecc83b"/>
<rect x="298.22" y="284.63" width="19.82" height="17.63" fill="#ecc43b"/>
<rect x="318.04" y="284.63" width="19.82" height="17.63" fill="#ecc43b"/>
<rect x="337.85" y="284.63" width="19.82" height="17.63" fill="#ec7a4c"/>
<rect x="357.67" y="284.63" width="19.82" height="17.63" fill="#ec8049"/>
<rect x="377.49" y="284.63" width="19.82" height="17.63" fill="#ec7a4c"/>
<rect x="397.30" y="284.63" width="19.82" height="17.63" fill="#ec8049"/>
<rect x="417.12" y="284.63" width="19.82" height="17.63" fill="#ea6e54"/>
<rect x="436.94" y="284.63" width="19.82" height="17.63" fill="#e96a57"/>
<rect x="456.75" y="284.63" width="19.82" height="17.63" fill="#e66060"/>
<rect x="476.57" y="284.63" width="19.82" height="17.63" fill="#e45c64"/>
<rect x="496.39" y="284.63" width="19.82" height="17.63" fill="#ec7a4c"/>
<rect x="516.21" y="284.63" width="19.82" height="17.63" fill="#ea7252"/>
<rect x="536.02" y="284.63" width="19.82" height="17.63" fill="#ed8a45"/>
<rect x="555.84" y="284.63" width="19.82" height="17.63" fill="#ed8d44"/>
<rect x="575.66" y="284.63" width="19.82" height="17.63" fill="#ed8a45"/>
<rect x="595.47" y="284.63" width="19.82" height="17.63" fill="#eb764f"/>
<rect x="615.29" y="284.63" width="19.82" height="17.63" fill="#ec7a4c"/>
<rect x="635.11" y="284.63" width="19.82" height="17.63" fill="#e96a57"/>
<rect x="654.92" y="284.63" width="19.82" height="17.63" fill="#ed8448"/>
<rect x="674.74" y="284.63" width="19.82" height="17.63" fill="#ec7d4b"/>
<rect x="694.56" y="284.63" width="19.82" height="17.63" fill="#edad3b"/>
<rect x="714.38" y="284.63" width="19.82" height="17.63" fill="#edad3b"/>
<rect x="734.19" y="284.63" width="19.82" height="17.63" fill="#edba3a"/>
<rect x="754.01" y="284.63" width="19.82" height="17.63" fill="#edba3a"/>
<rect x="773.83" y="284.63" width="19.82" height="17.63" fill="#ed8448"/>
<rect x="793.64" y="284.63" width="19.82" height="17.63" fill="#ed8448"/>
<rect x="813.46" y="284.63" width="19.82" height="17.63" fill="#ee9a3e"/>
<rect x="833.28" y="284.63" width="19.82" height="17.63" fill="#ee973f"/>
<rect x="853.10" y="284.63" width="19.82" height="17.63" fill="#eea43c"/>
<rect x="872.91" y="284.63" width="19.82" height="17.63" fill="#eea03d"/>
<rect x="892.73" y="284.63" width="19.82" height="17.63" fill="#ee9d3e"/>
<rect x="912.55" y="284.63" width="19.82" height="17.63" fill="#ee9d3e"/>
<rect x="932.36" y="284.63" width="19.82" height="17.63" fill="#ec8049"/>
<rect x="952.18" y="284.63" width="19.82" height="17.63" fill="#ead93c"/>
<rect x="972.00" y="284.63" width="19.82" height="17.63" fill="#ead93c"/>
<rect x="991.81" y="284.63" width="19.82" height="17.63" fill="#ead93c"/>
<rect x="1011.63" y="284.63" width="19.82" height="17.63" fill="#ed8d44"/>
<rect x="1031.45" y="284.63" width="19.82" height="17.63" fill="#ed8d44"/>
<rect x="1051.26" y="284.63" width="19.82" height="17.63" fill="#ec8049"/>
<rect x="1071.08" y="284.63" width="19.82" height="17.63" fill="#ee973f"/>
<rect x="1090.90" y="284.63" width="19.82" height="17.63" fill="#ed8746"/>
<rect x="1110.72" y="284.63" width="19.82" height="17.63" fill="#ed9042"/>
<rect x="1130.53" y="284.63" width="19.82" height="17.63" fill="#ecc83b"/>
<rect x="1150.35" y="284.63" width="19.82" height="17.63" fill="#eccb3b"/>
<rect x="1170.17" y="284.63" width="19.82" height="17.63" fill="#eccb3b"/>
<rect x="1189.98" y="284.63" width="19.82" height="17.63" fill="#e96a57"/>
<rect x="1209.80" y="284.63" width="19.82" height="17.63" fill="#ee9d3e"/>
<rect x="159.50" y="302.26" width="19.82" height="17.63" fill="#eea03d"/>
<rect x="179.32" y="302.26" width="19.82" height="17.63" fill="#edb43a"/>
<rect x="199.13" y="302.26" width="19.82" height="17.63" fill="#edb13b"/>
<rect x="218.95" y="302.26" width="19.82" height="17.63" fill="#eea43c"/>
<rect x="238.77" y="302.26" width="19.82" height="17.63" fill="#edb13b"/>
<rect x="258.59" y="302.26" width="19.82" height="17.63" fill="#ee9441"/>
<rect x="278.40" y="302.26" width="19.82" height="17.63" fill="#edb13b"/>
<rect x="298.22" y="302.26" width="19.82" height="17.63" fill="#edb43a"/>
<rect x="318.04" y="302.26" width="19.82" height="17.63" fill="#edb43a"/>
<rect x="337.85" y="302.26" width="19.82" height="17.63" fill="#edad3b"/>
<rect x="357.67" y="302.26" width="19.82" height="17.63" fill="#edb43a"/>
<rect x="377.49" y="302.26" width="19.82" height="17.63" fill="#db4f73"/>
<rect x="397.30" y="302.26" width="19.82" height="17.63" fill="#edb13b"/>
<rect x="417.12" y="302.26" width="19.82" height="17.63" fill="#edb13b"/>
<rect x="436.94" y="302.26" width="19.82" height="17.63" fill="#edb43a"/>
<rect x="456.75" y="302.26" width="19.82" height="17.63" fill="#eea73c"/>
<rect x="476.57" y="302.26" width="19.82" height="17.63" fill="#eea43c"/>
<rect x="496.39" y="302.26" width="19.82" height="17.63" fill="#edb43a"/>
<rect x="516.21" y="302.26" width="19.82" height="17.63" fill="#ed8746"/>
<rect x="536.02" y="302.26" width="19.82" height="17.63" fill="#edad3b"/>
<rect x="555.84" y="302.26" width="19.82" height="17.63" fill="#edb43a"/>
<rect x="575.66" y="302.26" width="19.82" height="17.63" fill="#edb13b"/>
<rect x="595.47" y="302.26" width="19.82" height="17.63" fill="#ec7a4c"/>
<rect x="615.29" y="302.26" width="19.82" height="17.63" fill="#d5497c"/>
<rect x="635.11" y="302.26" width="19.82" height="17.63" fill="#eea43c"/>
<rect x="654.92" y="302.26" width="19.82" height="17.63" fill="#edb43a"/>
<rect x="674.74" y="302.26" width="19.82" height="17.63" fill="#edad3b"/>
<rect x="694.56" y="302.26" width="19.82" height="17.63" fill="#edad3b"/>
<rect x="714.38" y="302.26" width="19.82" height="17.63" fill="#edad3b"/>
<rect x="734.19" y="302.26" width="19.82" height="17.63" fill="#edba3a"/>
<rect x="754.01" y="302.26" width="19.82" height="17.63" fill="#edba3a"/>
<rect x="773.83" y="302.26" width="19.82" height="17.63" fill="#edad3b"/>
<rect x="793.64" y="302.26" width="19.82" height="17.63" fill="#edad3b"/>
<rect x="813.46" y="302.26" width="19.82" height="17.63" fill="#edb43a"/>
<rect x="833.28" y="302.26" width="19.82" height="17.63" fill="#ee973f"/>
<rect x="853.10" y="302.26" width="19.82" height="17.63" fill="#edba3a"/>
<rect x="872.91" y="302.26" width="19.82" height="17.63" fill="#edb73a"/>
<rect x="892.73" y="302.26" width="19.82" height="17.63" fill="#edb13b"/>
<rect x="912.55" y="302.26" width="19.82" height="17.63" fill="#edb13b"/>
<rect x="932.36" y="302.26" width="19.82" height="17.63" fill="#ee973f"/>
<rect x="952.18" y="302.26" width="19.82" height="17.63" fill="#ecc83b"/>
<rect x="972.00" y="302.26" width="19.82" height="17.63" fill="#ecc43b"/>
<rect x="991.81" y="302.26" width="19.82" height="17.63" fill="#ecc43b"/>
<rect x="1011.63" y="302.26" width="19.82" height="17.63" fill="#eea43c"/>
<rect x="1031.45" y="302.26" width="19.82" height="17.63" fill="#eea43c"/>
<rect x="1051.26" y="302.26" width="19.82" height="17.63" fill="#e35967"/>
<rect x="1071.08" y="302.26" width="19.82" height="17.63" fill="#edb13b"/>
<rect x="1090.90" y="302.26" width="19.82" height="17.63" fill="#ecc43b"/>
<rect x="1110.72" y="302.26" width="19.82" height="17.63" fill="#ebd23b"/>
<rect x="1130.53" y="302.26" width="19.82" height="17.63" fill="#eccb3b"/>
<rect x="1150.35" y="302.26" width="19.82" height="17.63" fill="#eccb3b"/>
<rect x="1170.17" y="302.26" width="19.82" height="17.63" fill="#edba3a"/>
<rect x="1189.98" y="302.26" width="19.82" height="17.63" fill="#e8665a"/>
<rect x="1209.80" y="302.26" width="19.82" height="17.63" fill="#eea43c"/>
<rect x="159.50" y="319.89" width="19.82" height="17.63" fill="#eea03d"/>
<rect x="179.32" y="319.89" width="19.82" height="17.63" fill="#edb43a"/>
<rect x="199.13" y="319.89" width="19.82" height="17.63" fill="#edb13b"/>
<rect x="218.95" y="319.89" width="19.82" height="17.63" fill="#eea43c"/>
<rect x="238.77" y="319.89" width="19.82" height="17.63" fill="#edb13b"/>
<rect x="258.59" y="319.89" width="19.82" height="17.63" fill="#ee9a3e"/>
<rect x="278.40" y="319.89" width="19.82" height="17.63" fill="#edb43a"/>
<rect x="298.22" y="319.89" width="19.82" height="17.63" fill="#edb43a"/>
<rect x="318.04" y="319.89" width="19.82" height="17.63" fill="#edb43a"/>
<rect x="337.85" y="319.89" width="19.82" height="17.63" fill="#edad3b"/>
<rect x="357.67" y="319.89" width="19.82" height="17.63" fill="#edb43a"/>
<rect x="377.49" y="319.89" width="19.82" height="17.63" fill="#e0546d"/>
<rect x="397.30" y="319.89" width="19.82" height="17.63" fill="#edb13b"/>
<rect x="417.12" y="319.89" width="19.82" height="17.63" fill="#edb13b"/>
<rect x="436.94" y="319.89" width="19.82" height="17.63" fill="#edb43a"/>
<rect x="456.75" y="319.89" width="19.82" height="17.63" fill="#eea73c"/>
<rect x="476.57" y="319.89" width="19.82" height="17.63" fill="#eea43c"/>
<rect x="496.39" y="319.89" width="19.82" height="17.63" fill="#edb43a"/>
<rect x="516.21" y="319.89" width="19.82" height="17.63" fill="#ed8746"/>
<rect x="536.02" y="319.89" width="19.82" height="17.63" fill="#edb13b"/>
<rect x="555.84" y="319.89" width="19.82" height="17.63" fill="#edb43a"/>
<rect x="575.66" y="319.89" width="19.82" height="17.63" fill="#edb43a"/>
<rect x="595.47" y="319.89" width="19.82" height="17.63" fill="#ec7a4c"/>
<rect x="615.29" y="319.89" width="19.82" height="17.63" fill="#db4f73"/>
<rect x="635.11" y="319.89" width="19.82" height="17.63" fill="#eea43c"/>
<rect x="654.92" y="319.89" width="19.82" height="17.63" fill="#edb43a"/>
<rect x="674.74" y="319.89" width="19.82" height="17.63" fill="#edb13b"/>
<rect x="694.56" y="319.89" width="19.82" height="17.63" fill="#edb13b"/>
<rect x="714.38" y="319.89" width="19.82" height="17.63" fill="#edb43a"/>
<rect x="734.19" y="319.89" width="19.82" height="17.63" fill="#edbd3a"/>
<rect x="754.01" y="319.89" width="19.82" height="17.63" fill="#edba3a"/>
<rect x="773.83" y="319.89" width="19.82" height="17.63" fill="#edad3b"/>
<rect x="793.64" y="319.89" width="19.82" height="17.63" fill="#edad3b"/>
<rect x="813.46" y="319.89" width="19.82" height="17.63" fill="#edb43a"/>
<rect x="833.28" y="319.89" width="19.82" height="17.63" fill="#ee9d3e"/>
<rect x="853.10" y="319.89" width="19.82" height="17.63" fill="#edba3a"/>
<rect x="872.91" y="319.89" width="19.82" height="17.63" fill="#edb73a"/>
<rect x="892.73" y="319.89" width="19.82" height="17.63" fill="#edb43a"/>
<rect x="912.55" y="319.89" width="19.82" height="17.63" fill="#edb43a"/>
<rect x="932.36" y="319.89" width="19.82" height="17.63" fill="#ee9a3e"/>
<rect x="952.18" y="319.89" width="19.82" height="17.63" fill="#ecc13a"/>
<rect x="972.00" y="319.89" width="19.82" height="17.63" fill="#edbd3a"/>
<rect x="991.81" y="319.89" width="19.82" height="17.63" fill="#edba3a"/>
<rect x="1011.63" y="319.89" width="19.82" height="17.63" fill="#eea73c"/>
<rect x="1031.45" y="319.89" width="19.82" height="17.63" fill="#eea73c"/>
<rect x="1051.26" y="319.89" width="19.82" height="17.63" fill="#e8665a"/>
<rect x="1071.08" y="319.89" width="19.82" height="17.63" fill="#edb13b"/>
<rect x="1090.90" y="319.89" width="19.82" height="17.63" fill="#edb43a"/>
<rect x="1110.72" y="319.89" width="19.82" height="17.63" fill="#edba3a"/>
<rect x="1130.53" y="319.89" width="19.82" height="17.63" fill="#edb73a"/>
<rect x="1150.35" y="319.89" width="19.82" height="17.63" fill="#edb73a"/>
<rect x="1170.17" y="319.89" width="19.82" height="17.63" fill="#edb73a"/>
<rect x="1189.98" y="319.89" width="19.82" height="17.63" fill="#e66060"/>
<rect x="1209.80" y="319.89" width="19.82" height="17.63" fill="#eea43c"/>
<rect x="159.50" y="337.52" width="19.82" height="17.63" fill="#eea03d"/>
<rect x="179.32" y="337.52" width="19.82" height="17.63" fill="#edb43a"/>
<rect x="199.13" y="337.52" width="19.82" height="17.63" fill="#edb43a"/>
<rect x="218.95" y="337.52" width="19.82" height="17.63" fill="#eea43c"/>
<rect x="238.77" y="337.52" width="19.82" height="17.63" fill="#edb13b"/>
<rect x="258.59" y="337.52" width="19.82" height="17.63" fill="#ee9a3e"/>
<rect x="278.40" y="337.52" width="19.82" height="17.63" fill="#edb43a"/>
<rect x="298.22" y="337.52" width="19.82" height="17.63" fill="#edb43a"/>
<rect x="318.04" y="337.52" width="19.82" height="17.63" fill="#edb43a"/>
<rect x="337.85" y="337.52" width="19.82" height="17.63" fill="#edad3b"/>
<rect x="357.67" y="337.52" width="19.82" height="17.63" fill="#edb43a"/>
<rect x="377.49" y="337.52" width="19.82" height="17.63" fill="#e2566a"/>
<rect x="397.30" y="337.52" width="19.82" height="17.63" fill="#edb13b"/>
<rect x="417.12" y="337.52" width="19.82" height="17.63" fill="#edb13b"/>
<rect x="436.94" y="337.52" width="19.82" height="17.63" fill="#edb43a"/>
<rect x="456.75" y="337.52" width="19.82" height="17.63" fill="#eea73c"/>
<rect x="476.57" y="337.52" width="19.82" height="17.63" fill="#eea43c"/>
<rect x="496.39" y="337.52" width="19.82" height="17.63" fill="#edb43a"/>
<rect x="516.21" y="337.52" width="19.82" height="17.63" fill="#ed8746"/>
<rect x="536.02" y="337.52" width="19.82" height="17.63" fill="#edb13b"/>
<rect x="555.84" y="337.52" width="19.82" height="17.63" fill="#edb43a"/>
<rect x="575.66" y="337.52" width="19.82" height="17.63" fill="#edb43a"/>
<rect x="595.47" y="337.52" width="19.82" height="17.63" fill="#ec7a4c"/>
<rect x="615.29" y="337.52" width="19.82" height="17.63" fill="#e2566a"/>
<rect x="635.11" y="337.52" width="19.82" height="17.63" fill="#eea43c"/>
<rect x="654.92" y="337.52" width="19.82" height="17.63" fill="#edb43a"/>
<rect x="674.74" y="337.52" width="19.82" height="17.63" fill="#edb13b"/>
<rect x="694.56" y="337.52" width="19.82" height="17.63" fill="#edb13b"/>
<rect x="714.38" y="337.52" width="19.82" height="17.63" fill="#edb43a"/>
<rect x="734.19" y="337.52" width="19.82" height="17.63" fill="#edbd3a"/>
<rect x="754.01" y="337.52" width="19.82" height="17.63" fill="#edba3a"/>
<rect x="773.83" y="337.52" width="19.82" height="17.63" fill="#edaa3c"/>
<rect x="793.64" y="337.52" width="19.82" height="17.63" fill="#edad3b"/>
<rect x="813.46" y="337.52" width="19.82" height="17.63" fill="#edb43a"/>
<rect x="833.28" y="337.52" width="19.82" height="17.63" fill="#ee9d3e"/>
<rect x="853.10" y="337.52" width="19.82" height="17.63" fill="#edba3a"/>
<rect x="872.91" y="337.52" width="19.82" height="17.63" fill="#edb73a"/>
<rect x="892.73" y="337.52" width="19.82" height="17.63" fill="#edb43a"/>
<rect x="912.55" y="337.52" width="19.82" height="17.63" fill="#edb43a"/>
<rect x="932.36" y="337.52" width="19.82" height="17.63" fill="#ee9a3e"/>
<rect x="952.18" y="337.52" width="19.82" height="17.63" fill="#ecc13a"/>
<rect x="972.00" y="337.52" width="19.82" height="17.63" fill="#edbd3a"/>
<rect x="991.81" y="337.52" width="19.82" height="17.63" fill="#edba3a"/>
<rect x="1011.63" y="337.52" width="19.82" height="17.63" fill="#eea73c"/>
<rect x="1031.45" y="337.52" width="19.82" height="17.63" fill="#eea73c"/>
<rect x="1051.26" y="337.52" width="19.82" height="17.63" fill="#e8665a"/>
<rect x="1071.08" y="337.52" width="19.82" height="17.63" fill="#edb13b"/>
<rect x="1090.90" y="337.52" width="19.82" height="17.63" fill="#edb43a"/>
<rect x="1110.72" y="337.52" width="19.82" height="17.63" fill="#edba3a"/>
<rect x="1130.53" y="337.52" width="19.82" height="17.63" fill="#edb73a"/>
<rect x="1150.35" y="337.52" width="19.82" height="17.63" fill="#edb73a"/>
<rect x="1170.17" y="337.52" width="19.82" height="17.63" fill="#edb73a"/>
<rect x="1189.98" y="337.52" width="19.82" height="17.63" fill="#e66060"/>
<rect x="1209.80" y="337.52" width="19.82" height="17.63" fill="#eea43c"/>
<rect x="159.50" y="355.15" width="19.82" height="17.63" fill="#e8e43e"/>
<rect x="179.32" y="355.15" width="19.82" height="17.63" fill="#e6f040"/>
<rect x="199.13" y="355.15" width="19.82" height="17.63" fill="#e6f040"/>
<rect x="218.95" y="355.15" width="19.82" height="17.63" fill="#eea03d"/>
<rect x="238.77" y="355.15" width="19.82" height="17.63" fill="#edb43a"/>
<rect x="258.59" y="355.15" width="19.82" height="17.63" fill="#e7635d"/>
<rect x="278.40" y="355.15" width="19.82" height="17.63" fill="#ee9d3e"/>
<rect x="298.22" y="355.15" width="19.82" height="17.63" fill="#ee9a3e"/>
<rect x="318.04" y="355.15" width="19.82" height="17.63" fill="#ee9a3e"/>
<rect x="337.85" y="355.15" width="19.82" height="17.63" fill="#e8665a"/>
<rect x="357.67" y="355.15" width="19.82" height="17.63" fill="#e96a57"/>
<rect x="377.49" y="355.15" width="19.82" height="17.63" fill="#de5270"/>
<rect x="397.30" y="355.15" width="19.82" height="17.63" fill="#e96a57"/>
<rect x="417.12" y="355.15" width="19.82" height="17.63" fill="#e8665a"/>
<rect x="436.94" y="355.15" width="19.82" height="17.63" fill="#e7635d"/>
<rect x="456.75" y="355.15" width="19.82" height="17.63" fill="#d5497c"/>
<rect x="476.57" y="355.15" width="19.82" height="17.63" fill="#e0546d"/>
<rect x="496.39" y="355.15" width="19.82" height="17.63" fill="#e8665a"/>
<rect x="516.21" y="355.15" width="19.82" height="17.63" fill="#e7635d"/>
<rect x="536.02" y="355.15" width="19.82" height="17.63" fill="#e96a57"/>
<rect x="555.84" y="355.15" width="19.82" height="17.63" fill="#ea7252"/>
<rect x="575.66" y="355.15" width="19.82" height="17.63" fill="#e8665a"/>
<rect x="595.47" y="355.15" width="19.82" height="17.63" fill="#de5270"/>
<rect x="615.29" y="355.15" width="19.82" height="17.63" fill="#ce4285"/>
<rect x="635.11" y="355.15" width="19.82" height="17.63" fill="#d3477f"/>
<rect x="654.92" y="355.15" width="19.82" height="17.63" fill="#ed8a45"/>
<rect x="674.74" y="355.15" width="19.82" height="17.63" fill="#ec8049"/>
<rect x="694.56" y="355.15" width="19.82" height="17.63" fill="#ed9042"/>
<rect x="714.38" y="355.15" width="19.82" height="17.63" fill="#ed9042"/>
<rect x="734.19" y="355.15" width="19.82" height="17.63" fill="#ee9d3e"/>
<rect x="754.01" y="355.15" width="19.82" height="17.63" fill="#ee973f"/>
<rect x="773.83" y="355.15" width="19.82" height="17.63" fill="#ed9042"/>
<rect x="793.64" y="355.15" width="19.82" height="17.63" fill="#ed9042"/>
<rect x="813.46" y="355.15" width="19.82" height="17.63" fill="#eea43c"/>
<rect x="833.28" y="355.15" width="19.82" height="17.63" fill="#ee9d3e"/>
<rect x="853.10" y="355.15" width="19.82" height="17.63" fill="#edb13b"/>
<rect x="872.91" y="355.15" width="19.82" height="17.63" fill="#edad3b"/>
<rect x="892.73" y="355.15" width="19.82" height="17.63" fill="#ee9d3e"/>
<rect x="912.55" y="355.15" width="19.82" height="17.63" fill="#ee9d3e"/>
<rect x="932.36" y="355.15" width="19.82" height="17.63" fill="#e96a57"/>
<rect x="952.18" y="355.15" width="19.82" height="17.63" fill="#ead93c"/>
<rect x="972.00" y="355.15" width="19.82" height="17.63" fill="#ead93c"/>
<rect x="991.81" y="355.15" width="19.82" height="17.63" fill="#eadc3c"/>
<rect x="1011.63" y="355.15" width="19.82" height="17.63" fill="#ed8a45"/>
<rect x="1031.45" y="355.15" width="19.82" height="17.63" fill="#ed8a45"/>
<rect x="1051.26" y="355.15" width="19.82" height="17.63" fill="#e8665a"/>
<rect x="1071.08" y="355.15" width="19.82" height="17.63" fill="#ed9042"/>
<rect x="1090.90" y="355.15" width="19.82" height="17.63" fill="#ed8a45"/>
<rect x="1110.72" y="355.15" width="19.82" height="17.63" fill="#ee9441"/>
<rect x="1130.53" y="355.15" width="19.82" height="17.63" fill="#ebce3b"/>
<rect x="1150.35" y="355.15" width="19.82" height="17.63" fill="#ebce3b"/>
<rect x="1170.17" y="355.15" width="19.82" height="17.63" fill="#ebce3b"/>
<rect x="1189.98" y="355.15" width="19.82" height="17.63" fill="#e96a57"/>
<rect x="1209.80" y="355.15" width="19.82" height="17.63" fill="#ee9a3e"/>
<rect x="159.50" y="372.78" width="19.82" height="17.63" fill="#ecc83b"/>
<rect x="179.32" y="372.78" width="19.82" height="17.63" fill="#ead93c"/>
<rect x="199.13" y="372.78" width="19.82" height="17.63" fill="#ead93c"/>
<rect x="218.95" y="372.78" width="19.82" height="17.63" fill="#eea43c"/>
<rect x="238.77" y="372.78" width="19.82" height="17.63" fill="#edb43a"/>
<rect x="258.59" y="372.78" width="19.82" height="17.63" fill="#ee9a3e"/>
<rect x="278.40" y="372.78" width="19.82" height="17.63" fill="#ecc43b"/>
<rect x="298.22" y="372.78" width="19.82" height="17.63" fill="#edb13b"/>
<rect x="318.04" y="372.78" width="19.82" height="17.63" fill="#edb43a"/>
<rect x="337.85" y="372.78" width="19.82" height="17.63" fill="#ed8448"/>
<rect x="357.67" y="372.78" width="19.82" height="17.63" fill="#ed8d44"/>
<rect x="377.49" y="372.78" width="19.82" height="17.63" fill="#ec7a4c"/>
<rect x="397.30" y="372.78" width="19.82" height="17.63" fill="#ed8a45"/>
<rect x="417.12" y="372.78" width="19.82" height="17.63" fill="#ed8746"/>
<rect x="436.94" y="372.78" width="19.82" height="17.63" fill="#ed8746"/>
<rect x="456.75" y="372.78" width="19.82" height="17.63" fill="#ec8049"/>
<rect x="476.57" y="372.78" width="19.82" height="17.63" fill="#ec7a4c"/>
<rect x="496.39" y="372.78" width="19.82" height="17.63" fill="#ee9441"/>
<rect x="516.21" y="372.78" width="19.82" height="17.63" fill="#ed8d44"/>
<rect x="536.02" y="372.78" width="19.82" height="17.63" fill="#ee973f"/>
<rect x="555.84" y="372.78" width="19.82" height="17.63" fill="#ee9d3e"/>
<rect x="575.66" y="372.78" width="19.82" height="17.63" fill="#ed8a45"/>
<rect x="595.47" y="372.78" width="19.82" height="17.63" fill="#d74b79"/>
<rect x="615.29" y="372.78" width="19.82" height="17.63" fill="#ce4285"/>
<rect x="635.11" y="372.78" width="19.82" height="17.63" fill="#d3477f"/>
<rect x="654.92" y="372.78" width="19.82" height="17.63" fill="#edbd3a"/>
<rect x="674.74" y="372.78" width="19.82" height="17.63" fill="#edba3a"/>
<rect x="694.56" y="372.78" width="19.82" height="17.63" fill="#ead93c"/>
<rect x="714.38" y="372.78" width="19.82" height="17.63" fill="#ebd53c"/>
<rect x="734.19" y="372.78" width="19.82" height="17.63" fill="#ead93c"/>
<rect x="754.01" y="372.78" width="19.82" height="17.63" fill="#ebd53c"/>
<rect x="773.83" y="372.78" width="19.82" height="17.63" fill="#ed8448"/>
<rect x="793.64" y="372.78" width="19.82" height="17.63" fill="#ed8448"/>
<rect x="813.46" y="372.78" width="19.82" height="17.63" fill="#eea03d"/>
<rect x="833.28" y="372.78" width="19.82" height="17.63" fill="#ee9d3e"/>
<rect x="853.10" y="372.78" width="19.82" height="17.63" fill="#edb13b"/>
<rect x="872.91" y="372.78" width="19.82" height="17.63" fill="#edb13b"/>
<rect x="892.73" y="372.78" width="19.82" height="17.63" fill="#eea43c"/>
<rect x="912.55" y="372.78" width="19.82" height="17.63" fill="#eea43c"/>
<rect x="932.36" y="372.78" width="19.82" height="17.63" fill="#ec7d4b"/>
<rect x="952.18" y="372.78" width="19.82" height="17.63" fill="#ebd53c"/>
<rect x="972.00" y="372.78" width="19.82" height="17.63" fill="#ebd53c"/>
<rect x="991.81" y="372.78" width="19.82" height="17.63" fill="#ebd53c"/>
<rect x="1011.63" y="372.78" width="19.82" height="17.63" fill="#e7635d"/>
<rect x="1031.45" y="372.78" width="19.82" height="17.63" fill="#e7635d"/>
<rect x="1051.26" y="372.78" width="19.82" height="17.63" fill="#e0546d"/>
<rect x="1071.08" y="372.78" width="19.82" height="17.63" fill="#ec7d4b"/>
<rect x="1090.90" y="372.78" width="19.82" height="17.63" fill="#ed8448"/>
<rect x="1110.72" y="372.78" width="19.82" height="17.63" fill="#ed8d44"/>
<rect x="1130.53" y="372.78" width="19.82" height="17.63" fill="#edbd3a"/>
<rect x="1150.35" y="372.78" width="19.82" height="17.63" fill="#edbd3a"/>
<rect x="1170.17" y="372.78" width="19.82" height="17.63" fill="#edbd3a"/>
<rect x="1189.98" y="372.78" width="19.82" height="17.63" fill="#e0546d"/>
<rect x="1209.80" y="372.78" width="19.82" height="17.63" fill="#ec8049"/>
<rect x="159.50" y="390.41" width="19.82" height="17.63" fill="#eea43c"/>
<rect x="179.32" y="390.41" width="19.82" height="17.63" fill="#edb43a"/>
<rect x="199.13" y="390.41" width="19.82" height="17.63" fill="#edb43a"/>
<rect x="218.95" y="390.41" width="19.82" height="17.63" fill="#eea43c"/>
<rect x="238.77" y="390.41" width="19.82" height="17.63" fill="#edb13b"/>
<rect x="258.59" y="390.41" width="19.82" height="17.63" fill="#eea03d"/>
<rect x="278.40" y="390.41" width="19.82" height="17.63" fill="#edb43a"/>
<rect x="298.22" y="390.41" width="19.82" height="17.63" fill="#edb43a"/>
<rect x="318.04" y="390.41" width="19.82" height="17.63" fill="#edb43a"/>
<rect x="337.85" y="390.41" width="19.82" height="17.63" fill="#edad3b"/>
<rect x="357.67" y="390.41" width="19.82" height="17.63" fill="#edb43a"/>
<rect x="377.49" y="390.41" width="19.82" height="17.63" fill="#ea7252"/>
<rect x="397.30" y="390.41" width="19.82" height="17.63" fill="#edb43a"/>
<rect x="417.12" y="390.41" width="19.82" height="17.63" fill="#edb13b"/>
<rect x="436.94" y="390.41" width="19.82" height="17.63" fill="#edb43a"/>
<rect x="456.75" y="390.41" width="19.82" height="17.63" fill="#eea73c"/>
<rect x="476.57" y="390.41" width="19.82" height="17.63" fill="#eea43c"/>
<rect x="496.39" y="390.41" width="19.82" height="17.63" fill="#edb13b"/>
<rect x="516.21" y="390.41" width="19.82" height="17.63" fill="#ed8a45"/>
<rect x="536.02" y="390.41" width="19.82" height="17.63" fill="#edb13b"/>
<rect x="555.84" y="390.41" width="19.82" height="17.63" fill="#edb43a"/>
<rect x="575.66" y="390.41" width="19.82" height="17.63" fill="#edb13b"/>
<rect x="595.47" y="390.41" width="19.82" height="17.63" fill="#ed8448"/>
<rect x="615.29" y="390.41" width="19.82" height="17.63" fill="#ea7252"/>
<rect x="635.11" y="390.41" width="19.82" height="17.63" fill="#eea73c"/>
<rect x="654.92" y="390.41" width="19.82" height="17.63" fill="#edb43a"/>
<rect x="674.74" y="390.41" width="19.82" height="17.63" fill="#edad3b"/>
<rect x="694.56" y="390.41" width="19.82" height="17.63" fill="#edb43a"/>
<rect x="714.38" y="390.41" width="19.82" height="17.63" fill="#edb43a"/>
<rect x="734.19" y="390.41" width="19.82" height="17.63" fill="#edbd3a"/>
<rect x="754.01" y="390.41" width="19.82" height="17.63" fill="#edba3a"/>
<rect x="773.83" y="390.41" width="19.82" height="17.63" fill="#eea73c"/>
<rect x="793.64" y="390.41" width="19.82" height="17.63" fill="#eea73c"/>
<rect x="813.46" y="390.41" width="19.82" height="17.63" fill="#edb43a"/>
<rect x="833.28" y="390.41" width="19.82" height="17.63" fill="#ee9a3e"/>
<rect x="853.10" y="390.41" width="19.82" height="17.63" fill="#edb73a"/>
<rect x="872.91" y="390.41" width="19.82" height="17.63" fill="#edb73a"/>
<rect x="892.73" y="390.41" width="19.82" height="17.63" fill="#edb13b"/>
<rect x="912.55" y="390.41" width="19.82" height="17.63" fill="#edb13b"/>
<rect x="932.36" y="390.41" width="19.82" height="17.63" fill="#ee973f"/>
<rect x="952.18" y="390.41" width="19.82" height="17.63" fill="#edb73a"/>
<rect x="972.00" y="390.41" width="19.82" height="17.63" fill="#edb43a"/>
<rect x="991.81" y="390.41" width="19.82" height="17.63" fill="#edb43a"/>
<rect x="1011.63" y="390.41" width="19.82" height="17.63" fill="#edad3b"/>
<rect x="1031.45" y="390.41" width="19.82" height="17.63" fill="#edad3b"/>
<rect x="1051.26" y="390.41" width="19.82" height="17.63" fill="#ed8d44"/>
<rect x="1071.08" y="390.41" width="19.82" height="17.63" fill="#edb43a"/>
<rect x="1090.90" y="390.41" width="19.82" height="17.63" fill="#edb43a"/>
<rect x="1110.72" y="390.41" width="19.82" height="17.63" fill="#edba3a"/>
<rect x="1130.53" y="390.41" width="19.82" height="17.63" fill="#edb73a"/>
<rect x="1150.35" y="390.41" width="19.82" height="17.63" fill="#edb73a"/>
<rect x="1170.17" y="390.41" width="19.82" height="17.63" fill="#edb73a"/>
<rect x="1189.98" y="390.41" width="19.82" height="17.63" fill="#e7635d"/>
<rect x="1209.80" y="390.41" width="19.82" height="17.63" fill="#eea43c"/>
<rect x="159.50" y="408.04" width="19.82" height="17.63" fill="#eea43c"/>
<rect x="179.32" y="408.04" width="19.82" height="17.63" fill="#edb43a"/>
<rect x="199.13" y="408.04" width="19.82" height="17.63" fill="#edb43a"/>
<rect x="218.95" y="408.04" width="19.82" height="17.63" fill="#eea43c"/>
<rect x="238.77" y="408.04" width="19.82" height="17.63" fill="#edb13b"/>
<rect x="258.59" y="408.04" width="19.82" height="17.63" fill="#eea03d"/>
<rect x="278.40" y="408.04" width="19.82" height="17.63" fill="#edb43a"/>
<rect x="298.22" y="408.04" width="19.82" height="17.63" fill="#edb43a"/>
<rect x="318.04" y="408.04" width="19.82" height="17.63" fill="#edb43a"/>
<rect x="337.85" y="408.04" width="19.82" height="17.63" fill="#edad3b"/>
<rect x="357.67" y="408.04" width="19.82" height="17.63" fill="#edb43a"/>
<rect x="377.49" y="408.04" width="19.82" height="17.63" fill="#ea7252"/>
<rect x="397.30" y="408.04" width="19.82" height="17.63" fill="#edb43a"/>
<rect x="417.12" y="408.04" width="19.82" height="17.63" fill="#edb13b"/>
<rect x="436.94" y="408.04" width="19.82" height="17.63" fill="#edb43a"/>
<rect x="456.75" y="408.04" width="19.82" height="17.63" fill="#eea73c"/>
<rect x="476.57" y="408.04" width="19.82" height="17.63" fill="#eea43c"/>
<rect x="496.39" y="408.04" width="19.82" height="17.63" fill="#edb13b"/>
<rect x="516.21" y="408.04" width="19.82" height="17.63" fill="#ed8d44"/>
<rect x="536.02" y="408.04" width="19.82" height="17.63" fill="#edb13b"/>
<rect x="555.84" y="408.04" width="19.82" height="17.63" fill="#edb43a"/>
<rect x="575.66" y="408.04" width="19.82" height="17.63" fill="#edb13b"/>
<rect x="595.47" y="408.04" width="19.82" height="17.63" fill="#ed8448"/>
<rect x="615.29" y="408.04" width="19.82" height="17.63" fill="#eb764f"/>
<rect x="635.11" y="408.04" width="19.82" height="17.63" fill="#eea73c"/>
<rect x="654.92" y="408.04" width="19.82" height="17.63" fill="#edb43a"/>
<rect x="674.74" y="408.04" width="19.82" height="17.63" fill="#edad3b"/>
<rect x="694.56" y="408.04" width="19.82" height="17.63" fill="#edb43a"/>
<rect x="714.38" y="408.04" width="19.82" height="17.63" fill="#edb43a"/>
<rect x="734.19" y="408.04" width="19.82" height="17.63" fill="#edbd3a"/>
<rect x="754.01" y="408.04" width="19.82" height="17.63" fill="#edba3a"/>
<rect x="773.83" y="408.04" width="19.82" height="17.63" fill="#eea73c"/>
<rect x="793.64" y="408.04" width="19.82" height="17.63" fill="#eea73c"/>
<rect x="813.46" y="408.04" width="19.82" height="17.63" fill="#edb43a"/>
<rect x="833.28" y="408.04" width="19.82" height="17.63" fill="#ee9a3e"/>
<rect x="853.10" y="408.04" width="19.82" height="17.63" fill="#edb73a"/>
<rect x="872.91" y="408.04" width="19.82" height="17.63" fill="#edb73a"/>
<rect x="892.73" y="408.04" width="19.82" height="17.63" fill="#edb13b"/>
<rect x="912.55" y="408.04" width="19.82" height="17.63" fill="#edb13b"/>
<rect x="932.36" y="408.04" width="19.82" height="17.63" fill="#ee973f"/>
<rect x="952.18" y="408.04" width="19.82" height="17.63" fill="#edb73a"/>
<rect x="972.00" y="408.04" width="19.82" height="17.63" fill="#edb43a"/>
<rect x="991.81" y="408.04" width="19.82" height="17.63" fill="#edb43a"/>
<rect x="1011.63" y="408.04" width="19.82" height="17.63" fill="#edad3b"/>
<rect x="1031.45" y="408.04" width="19.82" height="17.63" fill="#edad3b"/>
<rect x="1051.26" y="408.04" width="19.82" height="17.63" fill="#ed8448"/>
<rect x="1071.08" y="408.04" width="19.82" height="17.63" fill="#edb43a"/>
<rect x="1090.90" y="408.04" width="19.82" height="17.63" fill="#edb43a"/>
<rect x="1110.72" y="408.04" width="19.82" height="17.63" fill="#edba3a"/>
<rect x="1130.53" y="408.04" width="19.82" height="17.63" fill="#edb73a"/>
<rect x="1150.35" y="408.04" width="19.82" height="17.63" fill="#edb73a"/>
<rect x="1170.17" y="408.04" width="19.82" height="17.63" fill="#edb73a"/>
<rect x="1189.98" y="408.04" width="19.82" height="17.63" fill="#e7635d"/>
<rect x="1209.80" y="408.04" width="19.82" height="17.63" fill="#eea43c"/>
<rect x="159.50" y="425.67" width="19.82" height="17.63" fill="#eea43c"/>
<rect x="179.32" y="425.67" width="19.82" height="17.63" fill="#edb43a"/>
<rect x="199.13" y="425.67" width="19.82" height="17.63" fill="#edb43a"/>
<rect x="218.95" y="425.67" width="19.82" height="17.63" fill="#e7635d"/>
<rect x="238.77" y="425.67" width="19.82" height="17.63" fill="#eb764f"/>
<rect x="258.59" y="425.67" width="19.82" height="17.63" fill="#c43d9a"/>
<rect x="278.40" y="425.67" width="19.82" height="17.63" fill="#ecc13a"/>
<rect x="298.22" y="425.67" width="19.82" height="17.63" fill="#ebd23b"/>
<rect x="318.04" y="425.67" width="19.82" height="17.63" fill="#ebd23b"/>
<rect x="337.85" y="425.67" width="19.82" height="17.63" fill="#eea73c"/>
<rect x="357.67" y="425.67" width="19.82" height="17.63" fill="#edad3b"/>
<rect x="377.49" y="425.67" width="19.82" height="17.63" fill="#6a1ecc"/>
<rect x="397.30" y="425.67" width="19.82" height="17.63" fill="#ee973f"/>
<rect x="417.12" y="425.67" width="19.82" height="17.63" fill="#edb43a"/>
<rect x="436.94" y="425.67" width="19.82" height="17.63" fill="#edbd3a"/>
<rect x="456.75" y="425.67" width="19.82" height="17.63" fill="#edb73a"/>
<rect x="476.57" y="425.67" width="19.82" height="17.63" fill="#edb43a"/>
<rect x="496.39" y="425.67" width="19.82" height="17.63" fill="#ee9d3e"/>
<rect x="516.21" y="425.67" width="19.82" height="17.63" fill="#e2566a"/>
<rect x="536.02" y="425.67" width="19.82" height="17.63" fill="#edb13b"/>
<rect x="555.84" y="425.67" width="19.82" height="17.63" fill="#edb43a"/>
<rect x="575.66" y="425.67" width="19.82" height="17.63" fill="#edb13b"/>
<rect x="595.47" y="425.67" width="19.82" height="17.63" fill="#ec8049"/>
<rect x="615.29" y="425.67" width="19.82" height="17.63" fill="#c23ca0"/>
<rect x="635.11" y="425.67" width="19.82" height="17.63" fill="#952bcd"/>
<rect x="654.92" y="425.67" width="19.82" height="17.63" fill="#ed8d44"/>
<rect x="674.74" y="425.67" width="19.82" height="17.63" fill="#ed8448"/>
<rect x="694.56" y="425.67" width="19.82" height="17.63" fill="#eea73c"/>
<rect x="714.38" y="425.67" width="19.82" height="17.63" fill="#ee9441"/>
<rect x="734.19" y="425.67" width="19.82" height="17.63" fill="#ec7a4c"/>
<rect x="754.01" y="425.67" width="19.82" height="17.63" fill="#ec8049"/>
<rect x="773.83" y="425.67" width="19.82" height="17.63" fill="#db4f73"/>
<rect x="793.64" y="425.67" width="19.82" height="17.63" fill="#de5270"/>
<rect x="813.46" y="425.67" width="19.82" height="17.63" fill="#e0546d"/>
<rect x="833.28" y="425.67" width="19.82" height="17.63" fill="#7521cd"/>
<rect x="853.10" y="425.67" width="19.82" height="17.63" fill="#7120cd"/>
<rect x="872.91" y="425.67" width="19.82" height="17.63" fill="#8024ce"/>
<rect x="892.73" y="425.67" width="19.82" height="17.63" fill="#ec8049"/>
<rect x="912.55" y="425.67" width="19.82" height="17.63" fill="#ec8049"/>
<rect x="932.36" y="425.67" width="19.82" height="17.63" fill="#ee9a3e"/>
<rect x="952.18" y="425.67" width="19.82" height="17.63" fill="#e8e83e"/>
<rect x="972.00" y="425.67" width="19.82" height="17.63" fill="#e8e83e"/>
<rect x="991.81" y="425.67" width="19.82" height="17.63" fill="#e8e43e"/>
<rect x="1011.63" y="425.67" width="19.82" height="17.63" fill="#ea7252"/>
<rect x="1031.45" y="425.67" width="19.82" height="17.63" fill="#ea7252"/>
<rect x="1051.26" y="425.67" width="19.82" height="17.63" fill="#3a2e9a"/>
<rect x="1071.08" y="425.67" width="19.82" height="17.63" fill="#ecc43b"/>
<rect x="1090.90" y="425.67" width="19.82" height="17.63" fill="#ead93c"/>
<rect x="1110.72" y="425.67" width="19.82" height="17.63" fill="#e8e83e"/>
<rect x="1130.53" y="425.67" width="19.82" height="17.63" fill="#eadc3c"/>
<rect x="1150.35" y="425.67" width="19.82" height="17.63" fill="#eadc3c"/>
<rect x="1170.17" y="425.67" width="19.82" height="17.63" fill="#edad3b"/>
<rect x="1189.98" y="425.67" width="19.82" height="17.63" fill="#e2566a"/>
<rect x="1209.80" y="425.67" width="19.82" height="17.63" fill="#ed8a45"/>
<rect x="159.50" y="443.30" width="19.82" height="17.63" fill="#eea43c"/>
<rect x="179.32" y="443.30" width="19.82" height="17.63" fill="#edb43a"/>
<rect x="199.13" y="443.30" width="19.82" height="17.63" fill="#edb43a"/>
<rect x="218.95" y="443.30" width="19.82" height="17.63" fill="#eea73c"/>
<rect x="238.77" y="443.30" width="19.82" height="17.63" fill="#edb43a"/>
<rect x="258.59" y="443.30" width="19.82" height="17.63" fill="#eea03d"/>
<rect x="278.40" y="443.30" width="19.82" height="17.63" fill="#edb43a"/>
<rect x="298.22" y="443.30" width="19.82" height="17.63" fill="#edb43a"/>
<rect x="318.04" y="443.30" width="19.82" height="17.63" fill="#edb43a"/>
<rect x="337.85" y="443.30" width="19.82" height="17.63" fill="#edad3b"/>
<rect x="357.67" y="443.30" width="19.82" height="17.63" fill="#edb13b"/>
<rect x="377.49" y="443.30" width="19.82" height="17.63" fill="#d94d76"/>
<rect x="397.30" y="443.30" width="19.82" height="17.63" fill="#edb43a"/>
<rect x="417.12" y="443.30" width="19.82" height="17.63" fill="#edb43a"/>
<rect x="436.94" y="443.30" width="19.82" height="17.63" fill="#edb43a"/>
<rect x="456.75" y="443.30" width="19.82" height="17.63" fill="#eea73c"/>
<rect x="476.57" y="443.30" width="19.82" height="17.63" fill="#eea03d"/>
<rect x="496.39" y="443.30" width="19.82" height="17.63" fill="#edb43a"/>
<rect x="516.21" y="443.30" width="19.82" height="17.63" fill="#ed8746"/>
<rect x="536.02" y="443.30" width="19.82" height="17.63" fill="#edb13b"/>
<rect x="555.84" y="443.30" width="19.82" height="17.63" fill="#edb43a"/>
<rect x="575.66" y="443.30" width="19.82" height="17.63" fill="#edb43a"/>
<rect x="595.47" y="443.30" width="19.82" height="17.63" fill="#ea7252"/>
<rect x="615.29" y="443.30" width="19.82" height="17.63" fill="#ba39b2"/>
<rect x="635.11" y="443.30" width="19.82" height="17.63" fill="#eea73c"/>
<rect x="654.92" y="443.30" width="19.82" height="17.63" fill="#edb43a"/>
<rect x="674.74" y="443.30" width="19.82" height="17.63" fill="#edb13b"/>
<rect x="694.56" y="443.30" width="19.82" height="17.63" fill="#edb43a"/>
<rect x="714.38" y="443.30" width="19.82" height="17.63" fill="#edb43a"/>
<rect x="734.19" y="443.30" width="19.82" height="17.63" fill="#edba3a"/>
<rect x="754.01" y="443.30" width="19.82" height="17.63" fill="#edba3a"/>
<rect x="773.83" y="443.30" width="19.82" height="17.63" fill="#eea73c"/>
<rect x="793.64" y="443.30" width="19.82" height="17.63" fill="#eea73c"/>
<rect x="813.46" y="443.30" width="19.82" height="17.63" fill="#edb43a"/>
<rect x="833.28" y="443.30" width="19.82" height="17.63" fill="#ee9a3e"/>
<rect x="853.10" y="443.30" width="19.82" height="17.63" fill="#edba3a"/>
<rect x="872.91" y="443.30" width="19.82" height="17.63" fill="#edb73a"/>
<rect x="892.73" y="443.30" width="19.82" height="17.63" fill="#edb43a"/>
<rect x="912.55" y="443.30" width="19.82" height="17.63" fill="#edb43a"/>
<rect x="932.36" y="443.30" width="19.82" height="17.63" fill="#ed9042"/>
<rect x="952.18" y="443.30" width="19.82" height="17.63" fill="#edba3a"/>
<rect x="972.00" y="443.30" width="19.82" height="17.63" fill="#edb73a"/>
<rect x="991.81" y="443.30" width="19.82" height="17.63" fill="#edb73a"/>
<rect x="1011.63" y="443.30" width="19.82" height="17.63" fill="#edad3b"/>
<rect x="1031.45" y="443.30" width="19.82" height="17.63" fill="#edad3b"/>
<rect x="1051.26" y="443.30" width="19.82" height="17.63" fill="#ed8a45"/>
<rect x="1071.08" y="443.30" width="19.82" height="17.63" fill="#edb43a"/>
<rect x="1090.90" y="443.30" width="19.82" height="17.63" fill="#edb43a"/>
<rect x="1110.72" y="443.30" width="19.82" height="17.63" fill="#edb73a"/>
<rect x="1130.53" y="443.30" width="19.82" height="17.63" fill="#edb73a"/>
<rect x="1150.35" y="443.30" width="19.82" height="17.63" fill="#edb73a"/>
<rect x="1170.17" y="443.30" width="19.82" height="17.63" fill="#edb73a"/>
<rect x="1189.98" y="443.30" width="19.82" height="17.63" fill="#e45c64"/>
<rect x="1209.80" y="443.30" width="19.82" height="17.63" fill="#eea73c"/>
<rect x="159.50" y="460.93" width="19.82" height="17.63" fill="#eea43c"/>
<rect x="179.32" y="460.93" width="19.82" height="17.63" fill="#edb43a"/>
<rect x="199.13" y="460.93" width="19.82" height="17.63" fill="#edb43a"/>
<rect x="218.95" y="460.93" width="19.82" height="17.63" fill="#eea73c"/>
<rect x="238.77" y="460.93" width="19.82" height="17.63" fill="#edb43a"/>
<rect x="258.59" y="460.93" width="19.82" height="17.63" fill="#eea03d"/>
<rect x="278.40" y="460.93" width="19.82" height="17.63" fill="#edb43a"/>
<rect x="298.22" y="460.93" width="19.82" height="17.63" fill="#edb43a"/>
<rect x="318.04" y="460.93" width="19.82" height="17.63" fill="#edb43a"/>
<rect x="337.85" y="460.93" width="19.82" height="17.63" fill="#edad3b"/>
<rect x="357.67" y="460.93" width="19.82" height="17.63" fill="#edb13b"/>
<rect x="377.49" y="460.93" width="19.82" height="17.63" fill="#de5270"/>
<rect x="397.30" y="460.93" width="19.82" height="17.63" fill="#edb43a"/>
<rect x="417.12" y="460.93" width="19.82" height="17.63" fill="#edb43a"/>
<rect x="436.94" y="460.93" width="19.82" height="17.63" fill="#edb43a"/>
<rect x="456.75" y="460.93" width="19.82" height="17.63" fill="#eea73c"/>
<rect x="476.57" y="460.93" width="19.82" height="17.63" fill="#eea03d"/>
<rect x="496.39" y="460.93" width="19.82" height="17.63" fill="#edb43a"/>
<rect x="516.21" y="460.93" width="19.82" height="17.63" fill="#ed8746"/>
<rect x="536.02" y="460.93" width="19.82" height="17.63" fill="#edb13b"/>
<rect x="555.84" y="460.93" width="19.82" height="17.63" fill="#edb43a"/>
<rect x="575.66" y="460.93" width="19.82" height="17.63" fill="#edb43a"/>
<rect x="595.47" y="460.93" width="19.82" height="17.63" fill="#eb764f"/>
<rect x="615.29" y="460.93" width="19.82" height="17.63" fill="#c23ca0"/>
<rect x="635.11" y="460.93" width="19.82" height="17.63" fill="#eea73c"/>
<rect x="654.92" y="460.93" width="19.82" height="17.63" fill="#edb43a"/>
<rect x="674.74" y="460.93" width="19.82" height="17.63" fill="#edb13b"/>
<rect x="694.56" y="460.93" width="19.82" height="17.63" fill="#edb43a"/>
<rect x="714.38" y="460.93" width="19.82" height="17.63" fill="#edb43a"/>
<rect x="734.19" y="460.93" width="19.82" height="17.63" fill="#edbd3a"/>
<rect x="754.01" y="460.93" width="19.82" height="17.63" fill="#edba3a"/>
<rect x="773.83" y="460.93" width="19.82" height="17.63" fill="#eea43c"/>
<rect x="793.64" y="460.93" width="19.82" height="17.63" fill="#eea43c"/>
<rect x="813.46" y="460.93" width="19.82" height="17.63" fill="#edb43a"/>
<rect x="833.28" y="460.93" width="19.82" height="17.63" fill="#ee9a3e"/>
<rect x="853.10" y="460.93" width="19.82" height="17.63" fill="#edba3a"/>
<rect x="872.91" y="460.93" width="19.82" height="17.63" fill="#edb73a"/>
<rect x="892.73" y="460.93" width="19.82" height="17.63" fill="#edb43a"/>
<rect x="912.55" y="460.93" width="19.82" height="17.63" fill="#edb43a"/>
<rect x="932.36" y="460.93" width="19.82" height="17.63" fill="#ed9042"/>
<rect x="952.18" y="460.93" width="19.82" height="17.63" fill="#edba3a"/>
<rect x="972.00" y="460.93" width="19.82" height="17.63" fill="#edb73a"/>
<rect x="991.81" y="460.93" width="19.82" height="17.63" fill="#edb73a"/>
<rect x="1011.63" y="460.93" width="19.82" height="17.63" fill="#edad3b"/>
<rect x="1031.45" y="460.93" width="19.82" height="17.63" fill="#edad3b"/>
<rect x="1051.26" y="460.93" width="19.82" height="17.63" fill="#ed8d44"/>
<rect x="1071.08" y="460.93" width="19.82" height="17.63" fill="#edb43a"/>
<rect x="1090.90" y="460.93" width="19.82" height="17.63" fill="#edb43a"/>
<rect x="1110.72" y="460.93" width="19.82" height="17.63" fill="#edb73a"/>
<rect x="1130.53" y="460.93" width="19.82" height="17.63" fill="#edb73a"/>
<rect x="1150.35" y="460.93" width="19.82" height="17.63" fill="#edb73a"/>
<rect x="1170.17" y="460.93" width="19.82" height="17.63" fill="#edb73a"/>
<rect x="1189.98" y="460.93" width="19.82" height="17.63" fill="#e45c64"/>
<rect x="1209.80" y="460.93" width="19.82" height="17.63" fill="#eea73c"/>
<rect x="159.50" y="478.56" width="19.82" height="17.63" fill="#eea03d"/>
<rect x="179.32" y="478.56" width="19.82" height="17.63" fill="#edb43a"/>
<rect x="199.13" y="478.56" width="19.82" height="17.63" fill="#edb43a"/>
<rect x="218.95" y="478.56" width="19.82" height="17.63" fill="#eea43c"/>
<rect x="238.77" y="478.56" width="19.82" height="17.63" fill="#edb43a"/>
<rect x="258.59" y="478.56" width="19.82" height="17.63" fill="#ee9d3e"/>
<rect x="278.40" y="478.56" width="19.82" height="17.63" fill="#edb43a"/>
<rect x="298.22" y="478.56" width="19.82" height="17.63" fill="#edb43a"/>
<rect x="318.04" y="478.56" width="19.82" height="17.63" fill="#edb43a"/>
<rect x="337.85" y="478.56" width="19.82" height="17.63" fill="#edad3b"/>
<rect x="357.67" y="478.56" width="19.82" height="17.63" fill="#edb43a"/>
<rect x="377.49" y="478.56" width="19.82" height="17.63" fill="#d5497c"/>
<rect x="397.30" y="478.56" width="19.82" height="17.63" fill="#edb43a"/>
<rect x="417.12" y="478.56" width="19.82" height="17.63" fill="#edb13b"/>
<rect x="436.94" y="478.56" width="19.82" height="17.63" fill="#edb43a"/>
<rect x="456.75" y="478.56" width="19.82" height="17.63" fill="#eea43c"/>
<rect x="476.57" y="478.56" width="19.82" height="17.63" fill="#eea03d"/>
<rect x="496.39" y="478.56" width="19.82" height="17.63" fill="#edb43a"/>
<rect x="516.21" y="478.56" width="19.82" height="17.63" fill="#ed8448"/>
<rect x="536.02" y="478.56" width="19.82" height="17.63" fill="#edb43a"/>
<rect x="555.84" y="478.56" width="19.82" height="17.63" fill="#edb73a"/>
<rect x="575.66" y="478.56" width="19.82" height="17.63" fill="#edb43a"/>
<rect x="595.47" y="478.56" width="19.82" height="17.63" fill="#ec7a4c"/>
<rect x="615.29" y="478.56" width="19.82" height="17.63" fill="#ab33c6"/>
<rect x="635.11" y="478.56" width="19.82" height="17.63" fill="#eea43c"/>
<rect x="654.92" y="478.56" width="19.82" height="17.63" fill="#edb43a"/>
<rect x="674.74" y="478.56" width="19.82" height="17.63" fill="#edaa3c"/>
<rect x="694.56" y="478.56" width="19.82" height="17.63" fill="#edb43a"/>
<rect x="714.38" y="478.56" width="19.82" height="17.63" fill="#edb43a"/>
<rect x="734.19" y="478.56" width="19.82" height="17.63" fill="#ecc13a"/>
<rect x="754.01" y="478.56" width="19.82" height="17.63" fill="#edbd3a"/>
<rect x="773.83" y="478.56" width="19.82" height="17.63" fill="#eea73c"/>
<rect x="793.64" y="478.56" width="19.82" height="17.63" fill="#eea73c"/>
<rect x="813.46" y="478.56" width="19.82" height="17.63" fill="#edb43a"/>
<rect x="833.28" y="478.56" width="19.82" height="17.63" fill="#eea03d"/>
<rect x="853.10" y="478.56" width="19.82" height="17.63" fill="#edba3a"/>
<rect x="872.91" y="478.56" width="19.82" height="17.63" fill="#edb73a"/>
<rect x="892.73" y="478.56" width="19.82" height="17.63" fill="#edb13b"/>
<rect x="912.55" y="478.56" width="19.82" height="17.63" fill="#edb13b"/>
<rect x="932.36" y="478.56" width="19.82" height="17.63" fill="#ed9042"/>
<rect x="952.18" y="478.56" width="19.82" height="17.63" fill="#edb73a"/>
<rect x="972.00" y="478.56" width="19.82" height="17.63" fill="#edb43a"/>
<rect x="991.81" y="478.56" width="19.82" height="17.63" fill="#edb43a"/>
<rect x="1011.63" y="478.56" width="19.82" height="17.63" fill="#eea73c"/>
<rect x="1031.45" y="478.56" width="19.82" height="17.63" fill="#eea73c"/>
<rect x="1051.26" y="478.56" width="19.82" height="17.63" fill="#ea7252"/>
<rect x="1071.08" y="478.56" width="19.82" height="17.63" fill="#edad3b"/>
<rect x="1090.90" y="478.56" width="19.82" height="17.63" fill="#edb43a"/>
<rect x="1110.72" y="478.56" width="19.82" height="17.63" fill="#edb73a"/>
<rect x="1130.53" y="478.56" width="19.82" height="17.63" fill="#edb73a"/>
<rect x="1150.35" y="478.56" width="19.82" height="17.63" fill="#edb73a"/>
<rect x="1170.17" y="478.56" width="19.82" height="17.63" fill="#edb73a"/>
<rect x="1189.98" y="478.56" width="19.82" height="17.63" fill="#e66060"/>
<rect x="1209.80" y="478.56" width="19.82" height="17.63" fill="#eea43c"/>
<rect x="159.50" y="496.19" width="19.82" height="17.63" fill="#ebce3b"/>
<rect x="179.32" y="496.19" width="19.82" height="17.63" fill="#e7ec3f"/>
<rect x="199.13" y="496.19" width="19.82" height="17.63" fill="#e8e83e"/>
<rect x="218.95" y="496.19" width="19.82" height="17.63" fill="#eea73c"/>
<rect x="238.77" y="496.19" width="19.82" height="17.63" fill="#edbd3a"/>
<rect x="258.59" y="496.19" width="19.82" height="17.63" fill="#ea7252"/>
<rect x="278.40" y="496.19" width="19.82" height="17.63" fill="#edaa3c"/>
<rect x="298.22" y="496.19" width="19.82" height="17.63" fill="#eea43c"/>
<rect x="318.04" y="496.19" width="19.82" height="17.63" fill="#eea73c"/>
<rect x="337.85" y="496.19" width="19.82" height="17.63" fill="#e8665a"/>
<rect x="357.67" y="496.19" width="19.82" height="17.63" fill="#ea7252"/>
<rect x="377.49" y="496.19" width="19.82" height="17.63" fill="#e35967"/>
<rect x="397.30" y="496.19" width="19.82" height="17.63" fill="#ea7252"/>
<rect x="417.12" y="496.19" width="19.82" height="17.63" fill="#e35967"/>
<rect x="436.94" y="496.19" width="19.82" height="17.63" fill="#e8665a"/>
<rect x="456.75" y="496.19" width="19.82" height="17.63" fill="#e0546d"/>
<rect x="476.57" y="496.19" width="19.82" height="17.63" fill="#d74b79"/>
<rect x="496.39" y="496.19" width="19.82" height="17.63" fill="#ec7a4c"/>
<rect x="516.21" y="496.19" width="19.82" height="17.63" fill="#ea7252"/>
<rect x="536.02" y="496.19" width="19.82" height="17.63" fill="#ed8746"/>
<rect x="555.84" y="496.19" width="19.82" height="17.63" fill="#ed8a45"/>
<rect x="575.66" y="496.19" width="19.82" height="17.63" fill="#ed8448"/>
<rect x="595.47" y="496.19" width="19.82" height="17.63" fill="#eb764f"/>
<rect x="615.29" y="496.19" width="19.82" height="17.63" fill="#e96a57"/>
<rect x="635.11" y="496.19" width="19.82" height="17.63" fill="#e66060"/>
<rect x="654.92" y="496.19" width="19.82" height="17.63" fill="#ea7252"/>
<rect x="674.74" y="496.19" width="19.82" height="17.63" fill="#e8665a"/>
<rect x="694.56" y="496.19" width="19.82" height="17.63" fill="#ee9441"/>
<rect x="714.38" y="496.19" width="19.82" height="17.63" fill="#ee9a3e"/>
<rect x="734.19" y="496.19" width="19.82" height="17.63" fill="#eea43c"/>
<rect x="754.01" y="496.19" width="19.82" height="17.63" fill="#eea03d"/>
<rect x="773.83" y="496.19" width="19.82" height="17.63" fill="#ec8049"/>
<rect x="793.64" y="496.19" width="19.82" height="17.63" fill="#ec8049"/>
<rect x="813.46" y="496.19" width="19.82" height="17.63" fill="#eea43c"/>
<rect x="833.28" y="496.19" width="19.82" height="17.63" fill="#ee9d3e"/>
<rect x="853.10" y="496.19" width="19.82" height="17.63" fill="#edad3b"/>
<rect x="872.91" y="496.19" width="19.82" height="17.63" fill="#edaa3c"/>
<rect x="892.73" y="496.19" width="19.82" height="17.63" fill="#ee9d3e"/>
<rect x="912.55" y="496.19" width="19.82" height="17.63" fill="#ee9d3e"/>
<rect x="932.36" y="496.19" width="19.82" height="17.63" fill="#ec7d4b"/>
<rect x="952.18" y="496.19" width="19.82" height="17.63" fill="#e9e03d"/>
<rect x="972.00" y="496.19" width="19.82" height="17.63" fill="#e9e03d"/>
<rect x="991.81" y="496.19" width="19.82" height="17.63" fill="#e9e03d"/>
<rect x="1011.63" y="496.19" width="19.82" height="17.63" fill="#ee9a3e"/>
<rect x="1031.45" y="496.19" width="19.82" height="17.63" fill="#ee9a3e"/>
<rect x="1051.26" y="496.19" width="19.82" height="17.63" fill="#ee973f"/>
<rect x="1071.08" y="496.19" width="19.82" height="17.63" fill="#eea43c"/>
<rect x="1090.90" y="496.19" width="19.82" height="17.63" fill="#ed8448"/>
<rect x="1110.72" y="496.19" width="19.82" height="17.63" fill="#ee9441"/>
<rect x="1130.53" y="496.19" width="19.82" height="17.63" fill="#ebd53c"/>
<rect x="1150.35" y="496.19" width="19.82" height="17.63" fill="#ebd53c"/>
<rect x="1170.17" y="496.19" width="19.82" height="17.63" fill="#ead93c"/>
<rect x="1189.98" y="496.19" width="19.82" height="17.63" fill="#ec7d4b"/>
<rect x="1209.80" y="496.19" width="19.82" height="17.63" fill="#edaa3c"/>
<rect x="159.50" y="513.82" width="19.82" height="17.63" fill="#ee9d3e"/>
<rect x="179.32" y="513.82" width="19.82" height="17.63" fill="#edb43a"/>
<rect x="199.13" y="513.82" width="19.82" height="17.63" fill="#edb43a"/>
<rect x="218.95" y="513.82" width="19.82" height="17.63" fill="#eea73c"/>
<rect x="238.77" y="513.82" width="19.82" height="17.63" fill="#edb43a"/>
<rect x="258.59" y="513.82" width="19.82" height="17.63" fill="#eea73c"/>
<rect x="278.40" y="513.82" width="19.82" height="17.63" fill="#edba3a"/>
<rect x="298.22" y="513.82" width="19.82" height="17.63" fill="#edb73a"/>
<rect x="318.04" y="513.82" width="19.82" height="17.63" fill="#edb73a"/>
<rect x="337.85" y="513.82" width="19.82" height="17.63" fill="#edaa3c"/>
<rect x="357.67" y="513.82" width="19.82" height="17.63" fill="#edb13b"/>
<rect x="377.49" y="513.82" width="19.82" height="17.63" fill="#d3477f"/>
<rect x="397.30" y="513.82" width="19.82" height="17.63" fill="#edb13b"/>
<rect x="417.12" y="513.82" width="19.82" height="17.63" fill="#edb13b"/>
<rect x="436.94" y="513.82" width="19.82" height="17.63" fill="#edb73a"/>
<rect x="456.75" y="513.82" width="19.82" height="17.63" fill="#edaa3c"/>
<rect x="476.57" y="513.82" width="19.82" height="17.63" fill="#eea73c"/>
<rect x="496.39" y="513.82" width="19.82" height="17.63" fill="#edb73a"/>
<rect x="516.21" y="513.82" width="19.82" height="17.63" fill="#ed8746"/>
<rect x="536.02" y="513.82" width="19.82" height="17.63" fill="#edb43a"/>
<rect x="555.84" y="513.82" width="19.82" height="17.63" fill="#edba3a"/>
<rect x="575.66" y="513.82" width="19.82" height="17.63" fill="#edb73a"/>
<rect x="595.47" y="513.82" width="19.82" height="17.63" fill="#ec7a4c"/>
<rect x="615.29" y="513.82" width="19.82" height="17.63" fill="#b236c4"/>
<rect x="635.11" y="513.82" width="19.82" height="17.63" fill="#eea43c"/>
<rect x="654.92" y="513.82" width="19.82" height="17.63" fill="#edb73a"/>
<rect x="674.74" y="513.82" width="19.82" height="17.63" fill="#edb13b"/>
<rect x="694.56" y="513.82" width="19.82" height="17.63" fill="#ecc13a"/>
<rect x="714.38" y="513.82" width="19.82" height="17.63" fill="#edb43a"/>
<rect x="734.19" y="513.82" width="19.82" height="17.63" fill="#ecc83b"/>
<rect x="754.01" y="513.82" width="19.82" height="17.63" fill="#ecc13a"/>
<rect x="773.83" y="513.82" width="19.82" height="17.63" fill="#eea73c"/>
<rect x="793.64" y="513.82" width="19.82" height="17.63" fill="#eea73c"/>
<rect x="813.46" y="513.82" width="19.82" height="17.63" fill="#edad3b"/>
<rect x="833.28" y="513.82" width="19.82" height="17.63" fill="#ed9042"/>
<rect x="853.10" y="513.82" width="19.82" height="17.63" fill="#edb43a"/>
<rect x="872.91" y="513.82" width="19.82" height="17.63" fill="#edb13b"/>
<rect x="892.73" y="513.82" width="19.82" height="17.63" fill="#edb13b"/>
<rect x="912.55" y="513.82" width="19.82" height="17.63" fill="#edb13b"/>
<rect x="932.36" y="513.82" width="19.82" height="17.63" fill="#ee9441"/>
<rect x="952.18" y="513.82" width="19.82" height="17.63" fill="#edb73a"/>
<rect x="972.00" y="513.82" width="19.82" height="17.63" fill="#edb73a"/>
<rect x="991.81" y="513.82" width="19.82" height="17.63" fill="#edb73a"/>
<rect x="1011.63" y="513.82" width="19.82" height="17.63" fill="#ee9a3e"/>
<rect x="1031.45" y="513.82" width="19.82" height="17.63" fill="#ee9a3e"/>
<rect x="1051.26" y="513.82" width="19.82" height="17.63" fill="#e8665a"/>
<rect x="1071.08" y="513.82" width="19.82" height="17.63" fill="#eea03d"/>
<rect x="1090.90" y="513.82" width="19.82" height="17.63" fill="#edb73a"/>
<rect x="1110.72" y="513.82" width="19.82" height="17.63" fill="#edbd3a"/>
<rect x="1130.53" y="513.82" width="19.82" height="17.63" fill="#edba3a"/>
<rect x="1150.35" y="513.82" width="19.82" height="17.63" fill="#edba3a"/>
<rect x="1170.17" y="513.82" width="19.82" height="17.63" fill="#edb73a"/>
<rect x="1189.98" y="513.82" width="19.82" height="17.63" fill="#e8665a"/>
<rect x="1209.80" y="513.82" width="19.82" height="17.63" fill="#edaa3c"/>
<rect x="159.50" y="531.45" width="19.82" height="17.63" fill="#eea03d"/>
<rect x="179.32" y="531.45" width="19.82" height="17.63" fill="#edb43a"/>
<rect x="199.13" y="531.45" width="19.82" height="17.63" fill="#edb43a"/>
<rect x="218.95" y="531.45" width="19.82" height="17.63" fill="#eea73c"/>
<rect x="238.77" y="531.45" width="19.82" height="17.63" fill="#edb43a"/>
<rect x="258.59" y="531.45" width="19.82" height="17.63" fill="#ee9a3e"/>
<rect x="278.40" y="531.45" width="19.82" height="17.63" fill="#edb43a"/>
<rect x="298.22" y="531.45" width="19.82" height="17.63" fill="#edb43a"/>
<rect x="318.04" y="531.45" width="19.82" height="17.63" fill="#edb43a"/>
<rect x="337.85" y="531.45" width="19.82" height="17.63" fill="#edaa3c"/>
<rect x="357.67" y="531.45" width="19.82" height="17.63" fill="#edb13b"/>
<rect x="377.49" y="531.45" width="19.82" height="17.63" fill="#db4f73"/>
<rect x="397.30" y="531.45" width="19.82" height="17.63" fill="#edb13b"/>
<rect x="417.12" y="531.45" width="19.82" height="17.63" fill="#edad3b"/>
<rect x="436.94" y="531.45" width="19.82" height="17.63" fill="#edb43a"/>
<rect x="456.75" y="531.45" width="19.82" height="17.63" fill="#eea73c"/>
<rect x="476.57" y="531.45" width="19.82" height="17.63" fill="#ee9d3e"/>
<rect x="496.39" y="531.45" width="19.82" height="17.63" fill="#edb13b"/>
<rect x="516.21" y="531.45" width="19.82" height="17.63" fill="#ed8448"/>
<rect x="536.02" y="531.45" width="19.82" height="17.63" fill="#edb13b"/>
<rect x="555.84" y="531.45" width="19.82" height="17.63" fill="#edb73a"/>
<rect x="575.66" y="531.45" width="19.82" height="17.63" fill="#edb43a"/>
<rect x="595.47" y="531.45" width="19.82" height="17.63" fill="#eb764f"/>
<rect x="615.29" y="531.45" width="19.82" height="17.63" fill="#ce4285"/>
<rect x="635.11" y="531.45" width="19.82" height="17.63" fill="#eea03d"/>
<rect x="654.92" y="531.45" width="19.82" height="17.63" fill="#edb43a"/>
<rect x="674.74" y="531.45" width="19.82" height="17.63" fill="#edad3b"/>
<rect x="694.56" y="531.45" width="19.82" height="17.63" fill="#edb73a"/>
<rect x="714.38" y="531.45" width="19.82" height="17.63" fill="#edb43a"/>
<rect x="734.19" y="531.45" width="19.82" height="17.63" fill="#ecc83b"/>
<rect x="754.01" y="531.45" width="19.82" height="17.63" fill="#ecc13a"/>
<rect x="773.83" y="531.45" width="19.82" height="17.63" fill="#edb43a"/>
<rect x="793.64" y="531.45" width="19.82" height="17.63" fill="#edb43a"/>
<rect x="813.46" y="531.45" width="19.82" height="17.63" fill="#edba3a"/>
<rect x="833.28" y="531.45" width="19.82" height="17.63" fill="#eea43c"/>
<rect x="853.10" y="531.45" width="19.82" height="17.63" fill="#edba3a"/>
<rect x="872.91" y="531.45" width="19.82" height="17.63" fill="#edb43a"/>
<rect x="892.73" y="531.45" width="19.82" height="17.63" fill="#edb13b"/>
<rect x="912.55" y="531.45" width="19.82" height="17.63" fill="#edb13b"/>
<rect x="932.36" y="531.45" width="19.82" height="17.63" fill="#ed8a45"/>
<rect x="952.18" y="531.45" width="19.82" height="17.63" fill="#edb73a"/>
<rect x="972.00" y="531.45" width="19.82" height="17.63" fill="#edb73a"/>
<rect x="991.81" y="531.45" width="19.82" height="17.63" fill="#edb73a"/>
<rect x="1011.63" y="531.45" width="19.82" height="17.63" fill="#eea73c"/>
<rect x="1031.45" y="531.45" width="19.82" height="17.63" fill="#eea73c"/>
<rect x="1051.26" y="531.45" width="19.82" height="17.63" fill="#ec7d4b"/>
<rect x="1071.08" y="531.45" width="19.82" height="17.63" fill="#edb13b"/>
<rect x="1090.90" y="531.45" width="19.82" height="17.63" fill="#edb43a"/>
<rect x="1110.72" y="531.45" width="19.82" height="17.63" fill="#edba3a"/>
<rect x="1130.53" y="531.45" width="19.82" height="17.63" fill="#edba3a"/>
<rect x="1150.35" y="531.45" width="19.82" height="17.63" fill="#edba3a"/>
<rect x="1170.17" y="531.45" width="19.82" height="17.63" fill="#edb73a"/>
<rect x="1189.98" y="531.45" width="19.82" height="17.63" fill="#ea6e54"/>
<rect x="1209.80" y="531.45" width="19.82" height="17.63" fill="#edaa3c"/>
<rect x="159.50" y="549.08" width="19.82" height="17.63" fill="#eccb3b"/>
<rect x="179.32" y="549.08" width="19.82" height="17.63" fill="#e8e83e"/>
<rect x="199.13" y="549.08" width="19.82" height="17.63" fill="#e8e83e"/>
<rect x="218.95" y="549.08" width="19.82" height="17.63" fill="#ee973f"/>
<rect x="238.77" y="549.08" width="19.82" height="17.63" fill="#edb43a"/>
<rect x="258.59" y="549.08" width="19.82" height="17.63" fill="#e7635d"/>
<rect x="278.40" y="549.08" width="19.82" height="17.63" fill="#eea73c"/>
<rect x="298.22" y="549.08" width="19.82" height="17.63" fill="#eea03d"/>
<rect x="318.04" y="549.08" width="19.82" height="17.63" fill="#eea73c"/>
<rect x="337.85" y="549.08" width="19.82" height="17.63" fill="#e7635d"/>
<rect x="357.67" y="549.08" width="19.82" height="17.63" fill="#e8665a"/>
<rect x="377.49" y="549.08" width="19.82" height="17.63" fill="#e35967"/>
<rect x="397.30" y="549.08" width="19.82" height="17.63" fill="#e96a57"/>
<rect x="417.12" y="549.08" width="19.82" height="17.63" fill="#e35967"/>
<rect x="436.94" y="549.08" width="19.82" height="17.63" fill="#e0546d"/>
<rect x="456.75" y="549.08" width="19.82" height="17.63" fill="#de5270"/>
<rect x="476.57" y="549.08" width="19.82" height="17.63" fill="#d74b79"/>
<rect x="496.39" y="549.08" width="19.82" height="17.63" fill="#e8665a"/>
<rect x="516.21" y="549.08" width="19.82" height="17.63" fill="#e35967"/>
<rect x="536.02" y="549.08" width="19.82" height="17.63" fill="#ed8448"/>
<rect x="555.84" y="549.08" width="19.82" height="17.63" fill="#ed8448"/>
<rect x="575.66" y="549.08" width="19.82" height="17.63" fill="#ec8049"/>
<rect x="595.47" y="549.08" width="19.82" height="17.63" fill="#e7635d"/>
<rect x="615.29" y="549.08" width="19.82" height="17.63" fill="#ea7252"/>
<rect x="635.11" y="549.08" width="19.82" height="17.63" fill="#e7635d"/>
<rect x="654.92" y="549.08" width="19.82" height="17.63" fill="#ec7a4c"/>
<rect x="674.74" y="549.08" width="19.82" height="17.63" fill="#ea7252"/>
<rect x="694.56" y="549.08" width="19.82" height="17.63" fill="#eea43c"/>
<rect x="714.38" y="549.08" width="19.82" height="17.63" fill="#edad3b"/>
<rect x="734.19" y="549.08" width="19.82" height="17.63" fill="#edb43a"/>
<rect x="754.01" y="549.08" width="19.82" height="17.63" fill="#edb13b"/>
<rect x="773.83" y="549.08" width="19.82" height="17.63" fill="#ea7252"/>
<rect x="793.64" y="549.08" width="19.82" height="17.63" fill="#eb764f"/>
<rect x="813.46" y="549.08" width="19.82" height="17.63" fill="#ee9d3e"/>
<rect x="833.28" y="549.08" width="19.82" height="17.63" fill="#ee973f"/>
<rect x="853.10" y="549.08" width="19.82" height="17.63" fill="#edb43a"/>
<rect x="872.91" y="549.08" width="19.82" height="17.63" fill="#edb13b"/>
<rect x="892.73" y="549.08" width="19.82" height="17.63" fill="#edad3b"/>
<rect x="912.55" y="549.08" width="19.82" height="17.63" fill="#edad3b"/>
<rect x="932.36" y="549.08" width="19.82" height="17.63" fill="#ed8d44"/>
<rect x="952.18" y="549.08" width="19.82" height="17.63" fill="#e8e83e"/>
<rect x="972.00" y="549.08" width="19.82" height="17.63" fill="#e8e43e"/>
<rect x="991.81" y="549.08" width="19.82" height="17.63" fill="#e8e43e"/>
<rect x="1011.63" y="549.08" width="19.82" height="17.63" fill="#d5497c"/>
<rect x="1031.45" y="549.08" width="19.82" height="17.63" fill="#ee9a3e"/>
<rect x="1051.26" y="549.08" width="19.82" height="17.63" fill="#ed8746"/>
<rect x="1071.08" y="549.08" width="19.82" height="17.63" fill="#ee9a3e"/>
<rect x="1090.90" y="549.08" width="19.82" height="17.63" fill="#ed9042"/>
<rect x="1110.72" y="549.08" width="19.82" height="17.63" fill="#ee9a3e"/>
<rect x="1130.53" y="549.08" width="19.82" height="17.63" fill="#ebce3b"/>
<rect x="1150.35" y="549.08" width="19.82" height="17.63" fill="#ebce3b"/>
<rect x="1170.17" y="549.08" width="19.82" height="17.63" fill="#ebd53c"/>
<rect x="1189.98" y="549.08" width="19.82" height="17.63" fill="#ea6e54"/>
<rect x="1209.80" y="549.08" width="19.82" height="17.63" fill="#edb13b"/>
<rect x="159.50" y="566.71" width="19.82" height="17.63" fill="#eea43c"/>
<rect x="179.32" y="566.71" width="19.82" height="17.63" fill="#edb43a"/>
<rect x="199.13" y="566.71" width="19.82" height="17.63" fill="#edb43a"/>
<rect x="218.95" y="566.71" width="19.82" height="17.63" fill="#eea73c"/>
<rect x="238.77" y="566.71" width="19.82" height="17.63" fill="#edb43a"/>
<rect x="258.59" y="566.71" width="19.82" height="17.63" fill="#ee9a3e"/>
<rect x="278.40" y="566.71" width="19.82" height="17.63" fill="#edb43a"/>
<rect x="298.22" y="566.71" width="19.82" height="17.63" fill="#edb43a"/>
<rect x="318.04" y="566.71" width="19.82" height="17.63" fill="#edb13b"/>
<rect x="337.85" y="566.71" width="19.82" height="17.63" fill="#edaa3c"/>
<rect x="357.67" y="566.71" width="19.82" height="17.63" fill="#edb13b"/>
<rect x="377.49" y="566.71" width="19.82" height="17.63" fill="#d5497c"/>
<rect x="397.30" y="566.71" width="19.82" height="17.63" fill="#edb43a"/>
<rect x="417.12" y="566.71" width="19.82" height="17.63" fill="#edb43a"/>
<rect x="436.94" y="566.71" width="19.82" height="17.63" fill="#edb43a"/>
<rect x="456.75" y="566.71" width="19.82" height="17.63" fill="#eea43c"/>
<rect x="476.57" y="566.71" width="19.82" height="17.63" fill="#eea43c"/>
<rect x="496.39" y="566.71" width="19.82" height="17.63" fill="#edb43a"/>
<rect x="516.21" y="566.71" width="19.82" height="17.63" fill="#ec8049"/>
<rect x="536.02" y="566.71" width="19.82" height="17.63" fill="#edb43a"/>
<rect x="555.84" y="566.71" width="19.82" height="17.63" fill="#edb43a"/>
<rect x="575.66" y="566.71" width="19.82" height="17.63" fill="#edb43a"/>
<rect x="595.47" y="566.71" width="19.82" height="17.63" fill="#ec7a4c"/>
<rect x="615.29" y="566.71" width="19.82" height="17.63" fill="#b236c4"/>
<rect x="635.11" y="566.71" width="19.82" height="17.63" fill="#eea73c"/>
<rect x="654.92" y="566.71" width="19.82" height="17.63" fill="#edb43a"/>
<rect x="674.74" y="566.71" width="19.82" height="17.63" fill="#edb13b"/>
<rect x="694.56" y="566.71" width="19.82" height="17.63" fill="#edb43a"/>
<rect x="714.38" y="566.71" width="19.82" height="17.63" fill="#edad3b"/>
<rect x="734.19" y="566.71" width="19.82" height="17.63" fill="#edba3a"/>
<rect x="754.01" y="566.71" width="19.82" height="17.63" fill="#edba3a"/>
<rect x="773.83" y="566.71" width="19.82" height="17.63" fill="#eea73c"/>
<rect x="793.64" y="566.71" width="19.82" height="17.63" fill="#eea73c"/>
<rect x="813.46" y="566.71" width="19.82" height="17.63" fill="#edba3a"/>
<rect x="833.28" y="566.71" width="19.82" height="17.63" fill="#eea43c"/>
<rect x="853.10" y="566.71" width="19.82" height="17.63" fill="#ecc13a"/>
<rect x="872.91" y="566.71" width="19.82" height="17.63" fill="#edba3a"/>
<rect x="892.73" y="566.71" width="19.82" height="17.63" fill="#edb43a"/>
<rect x="912.55" y="566.71" width="19.82" height="17.63" fill="#edb43a"/>
<rect x="932.36" y="566.71" width="19.82" height="17.63" fill="#ed9042"/>
<rect x="952.18" y="566.71" width="19.82" height="17.63" fill="#edba3a"/>
<rect x="972.00" y="566.71" width="19.82" height="17.63" fill="#edb73a"/>
<rect x="991.81" y="566.71" width="19.82" height="17.63" fill="#edb73a"/>
<rect x="1011.63" y="566.71" width="19.82" height="17.63" fill="#edaa3c"/>
<rect x="1031.45" y="566.71" width="19.82" height="17.63" fill="#edaa3c"/>
<rect x="1051.26" y="566.71" width="19.82" height="17.63" fill="#eb764f"/>
<rect x="1071.08" y="566.71" width="19.82" height="17.63" fill="#edad3b"/>
<rect x="1090.90" y="566.71" width="19.82" height="17.63" fill="#edb43a"/>
<rect x="1110.72" y="566.71" width="19.82" height="17.63" fill="#edba3a"/>
<rect x="1130.53" y="566.71" width="19.82" height="17.63" fill="#edb73a"/>
<rect x="1150.35" y="566.71" width="19.82" height="17.63" fill="#edb73a"/>
<rect x="1170.17" y="566.71" width="19.82" height="17.63" fill="#edb43a"/>
<rect x="1189.98" y="566.71" width="19.82" height="17.63" fill="#e35967"/>
<rect x="1209.80" y="566.71" width="19.82" height="17.63" fill="#eea43c"/>
<rect x="159.50" y="584.34" width="19.82" height="17.63" fill="#eea03d"/>
<rect x="179.32" y="584.34" width="19.82" height="17.63" fill="#edb43a"/>
<rect x="199.13" y="584.34" width="19.82" height="17.63" fill="#edb13b"/>
<rect x="218.95" y="584.34" width="19.82" height="17.63" fill="#eea73c"/>
<rect x="238.77" y="584.34" width="19.82" height="17.63" fill="#edb43a"/>
<rect x="258.59" y="584.34" width="19.82" height="17.63" fill="#eea73c"/>
<rect x="278.40" y="584.34" width="19.82" height="17.63" fill="#ecc13a"/>
<rect x="298.22" y="584.34" width="19.82" height="17.63" fill="#ecc13a"/>
<rect x="318.04" y="584.34" width="19.82" height="17.63" fill="#ecc13a"/>
<rect x="337.85" y="584.34" width="19.82" height="17.63" fill="#edaa3c"/>
<rect x="357.67" y="584.34" width="19.82" height="17.63" fill="#edb13b"/>
<rect x="377.49" y="584.34" width="19.82" height="17.63" fill="#b738b8"/>
<rect x="397.30" y="584.34" width="19.82" height="17.63" fill="#edaa3c"/>
<rect x="417.12" y="584.34" width="19.82" height="17.63" fill="#edba3a"/>
<rect x="436.94" y="584.34" width="19.82" height="17.63" fill="#edbd3a"/>
<rect x="456.75" y="584.34" width="19.82" height="17.63" fill="#edad3b"/>
<rect x="476.57" y="584.34" width="19.82" height="17.63" fill="#edaa3c"/>
<rect x="496.39" y="584.34" width="19.82" height="17.63" fill="#eea73c"/>
<rect x="516.21" y="584.34" width="19.82" height="17.63" fill="#ed8746"/>
<rect x="536.02" y="584.34" width="19.82" height="17.63" fill="#edb73a"/>
<rect x="555.84" y="584.34" width="19.82" height="17.63" fill="#ecc13a"/>
<rect x="575.66" y="584.34" width="19.82" height="17.63" fill="#edb73a"/>
<rect x="595.47" y="584.34" width="19.82" height="17.63" fill="#e45c64"/>
<rect x="615.29" y="584.34" width="19.82" height="17.63" fill="#8e28cf"/>
<rect x="635.11" y="584.34" width="19.82" height="17.63" fill="#ec7a4c"/>
<rect x="654.92" y="584.34" width="19.82" height="17.63" fill="#eea43c"/>
<rect x="674.74" y="584.34" width="19.82" height="17.63" fill="#ee9d3e"/>
<rect x="694.56" y="584.34" width="19.82" height="17.63" fill="#ecc13a"/>
<rect x="714.38" y="584.34" width="19.82" height="17.63" fill="#edbd3a"/>
<rect x="734.19" y="584.34" width="19.82" height="17.63" fill="#ecc83b"/>
<rect x="754.01" y="584.34" width="19.82" height="17.63" fill="#edbd3a"/>
<rect x="773.83" y="584.34" width="19.82" height="17.63" fill="#eea73c"/>
<rect x="793.64" y="584.34" width="19.82" height="17.63" fill="#eea73c"/>
<rect x="813.46" y="584.34" width="19.82" height="17.63" fill="#ee9a3e"/>
<rect x="833.28" y="584.34" width="19.82" height="17.63" fill="#c73e94"/>
<rect x="853.10" y="584.34" width="19.82" height="17.63" fill="#ea6e54"/>
<rect x="872.91" y="584.34" width="19.82" height="17.63" fill="#e96a57"/>
<rect x="892.73" y="584.34" width="19.82" height="17.63" fill="#ed9042"/>
<rect x="912.55" y="584.34" width="19.82" height="17.63" fill="#ed9042"/>
<rect x="932.36" y="584.34" width="19.82" height="17.63" fill="#ee973f"/>
<rect x="952.18" y="584.34" width="19.82" height="17.63" fill="#edba3a"/>
<rect x="972.00" y="584.34" width="19.82" height="17.63" fill="#edba3a"/>
<rect x="991.81" y="584.34" width="19.82" height="17.63" fill="#edba3a"/>
<rect x="1011.63" y="584.34" width="19.82" height="17.63" fill="#ee9441"/>
<rect x="1031.45" y="584.34" width="19.82" height="17.63" fill="#ee973f"/>
<rect x="1051.26" y="584.34" width="19.82" height="17.63" fill="#c43d9a"/>
<rect x="1071.08" y="584.34" width="19.82" height="17.63" fill="#edad3b"/>
<rect x="1090.90" y="584.34" width="19.82" height="17.63" fill="#ecc43b"/>
<rect x="1110.72" y="584.34" width="19.82" height="17.63" fill="#ebd53c"/>
<rect x="1130.53" y="584.34" width="19.82" height="17.63" fill="#ebce3b"/>
<rect x="1150.35" y="584.34" width="19.82" height="17.63" fill="#ebce3b"/>
<rect x="1170.17" y="584.34" width="19.82" height="17.63" fill="#eccb3b"/>
<rect x="1189.98" y="584.34" width="19.82" height="17.63" fill="#ec7a4c"/>
<rect x="1209.80" y="584.34" width="19.82" height="17.63" fill="#edb43a"/>
<rect x="159.50" y="601.97" width="19.82" height="17.63" fill="#eea43c"/>
<rect x="179.32" y="601.97" width="19.82" height="17.63" fill="#edb43a"/>
<rect x="199.13" y="601.97" width="19.82" height="17.63" fill="#edb43a"/>
<rect x="218.95" y="601.97" width="19.82" height="17.63" fill="#eea73c"/>
<rect x="238.77" y="601.97" width="19.82" height="17.63" fill="#edb43a"/>
<rect x="258.59" y="601.97" width="19.82" height="17.63" fill="#ee9d3e"/>
<rect x="278.40" y="601.97" width="19.82" height="17.63" fill="#edb43a"/>
<rect x="298.22" y="601.97" width="19.82" height="17.63" fill="#edb43a"/>
<rect x="318.04" y="601.97" width="19.82" height="17.63" fill="#edb43a"/>
<rect x="337.85" y="601.97" width="19.82" height="17.63" fill="#edaa3c"/>
<rect x="357.67" y="601.97" width="19.82" height="17.63" fill="#edb13b"/>
<rect x="377.49" y="601.97" width="19.82" height="17.63" fill="#e0546d"/>
<rect x="397.30" y="601.97" width="19.82" height="17.63" fill="#edb43a"/>
<rect x="417.12" y="601.97" width="19.82" height="17.63" fill="#edb13b"/>
<rect x="436.94" y="601.97" width="19.82" height="17.63" fill="#edb43a"/>
<rect x="456.75" y="601.97" width="19.82" height="17.63" fill="#eea73c"/>
<rect x="476.57" y="601.97" width="19.82" height="17.63" fill="#eea03d"/>
<rect x="496.39" y="601.97" width="19.82" height="17.63" fill="#edb43a"/>
<rect x="516.21" y="601.97" width="19.82" height="17.63" fill="#ed8448"/>
<rect x="536.02" y="601.97" width="19.82" height="17.63" fill="#edb43a"/>
<rect x="555.84" y="601.97" width="19.82" height="17.63" fill="#edba3a"/>
<rect x="575.66" y="601.97" width="19.82" height="17.63" fill="#edb43a"/>
<rect x="595.47" y="601.97" width="19.82" height="17.63" fill="#ec7d4b"/>
<rect x="615.29" y="601.97" width="19.82" height="17.63" fill="#b537be"/>
<rect x="635.11" y="601.97" width="19.82" height="17.63" fill="#eea73c"/>
<rect x="654.92" y="601.97" width="19.82" height="17.63" fill="#edb43a"/>
<rect x="674.74" y="601.97" width="19.82" height="17.63" fill="#edb43a"/>
<rect x="694.56" y="601.97" width="19.82" height="17.63" fill="#edb43a"/>
<rect x="714.38" y="601.97" width="19.82" height="17.63" fill="#edba3a"/>
<rect x="734.19" y="601.97" width="19.82" height="17.63" fill="#ecc83b"/>
<rect x="754.01" y="601.97" width="19.82" height="17.63" fill="#edbd3a"/>
<rect x="773.83" y="601.97" width="19.82" height="17.63" fill="#eea43c"/>
<rect x="793.64" y="601.97" width="19.82" height="17.63" fill="#eea43c"/>
<rect x="813.46" y="601.97" width="19.82" height="17.63" fill="#edb73a"/>
<rect x="833.28" y="601.97" width="19.82" height="17.63" fill="#ee9a3e"/>
<rect x="853.10" y="601.97" width="19.82" height="17.63" fill="#edba3a"/>
<rect x="872.91" y="601.97" width="19.82" height="17.63" fill="#edb73a"/>
<rect x="892.73" y="601.97" width="19.82" height="17.63" fill="#edb13b"/>
<rect x="912.55" y="601.97" width="19.82" height="17.63" fill="#edb13b"/>
<rect x="932.36" y="601.97" width="19.82" height="17.63" fill="#ed8d44"/>
<rect x="952.18" y="601.97" width="19.82" height="17.63" fill="#edba3a"/>
<rect x="972.00" y="601.97" width="19.82" height="17.63" fill="#edb73a"/>
<rect x="991.81" y="601.97" width="19.82" height="17.63" fill="#edb73a"/>
<rect x="1011.63" y="601.97" width="19.82" height="17.63" fill="#eea73c"/>
<rect x="1031.45" y="601.97" width="19.82" height="17.63" fill="#eea73c"/>
<rect x="1051.26" y="601.97" width="19.82" height="17.63" fill="#ec8049"/>
<rect x="1071.08" y="601.97" width="19.82" height="17.63" fill="#edb13b"/>
<rect x="1090.90" y="601.97" width="19.82" height="17.63" fill="#edb43a"/>
<rect x="1110.72" y="601.97" width="19.82" height="17.63" fill="#edba3a"/>
<rect x="1130.53" y="601.97" width="19.82" height="17.63" fill="#edb73a"/>
<rect x="1150.35" y="601.97" width="19.82" height="17.63" fill="#edb73a"/>
<rect x="1170.17" y="601.97" width="19.82" height="17.63" fill="#edba3a"/>
<rect x="1189.98" y="601.97" width="19.82" height="17.63" fill="#e2566a"/>
<rect x="1209.80" y="601.97" width="19.82" height="17.63" fill="#edad3b"/>
<rect x="159.50" y="619.60" width="19.82" height="17.63" fill="#eea43c"/>
<rect x="179.32" y="619.60" width="19.82" height="17.63" fill="#edb43a"/>
<rect x="199.13" y="619.60" width="19.82" height="17.63" fill="#edb43a"/>
<rect x="218.95" y="619.60" width="19.82" height="17.63" fill="#eea73c"/>
<rect x="238.77" y="619.60" width="19.82" height="17.63" fill="#edb43a"/>
<rect x="258.59" y="619.60" width="19.82" height="17.63" fill="#ee9d3e"/>
<rect x="278.40" y="619.60" width="19.82" height="17.63" fill="#edb43a"/>
<rect x="298.22" y="619.60" width="19.82" height="17.63" fill="#edb43a"/>
<rect x="318.04" y="619.60" width="19.82" height="17.63" fill="#edb43a"/>
<rect x="337.85" y="619.60" width="19.82" height="17.63" fill="#edaa3c"/>
<rect x="357.67" y="619.60" width="19.82" height="17.63" fill="#edb13b"/>
<rect x="377.49" y="619.60" width="19.82" height="17.63" fill="#de5270"/>
<rect x="397.30" y="619.60" width="19.82" height="17.63" fill="#edb43a"/>
<rect x="417.12" y="619.60" width="19.82" height="17.63" fill="#edb13b"/>
<rect x="436.94" y="619.60" width="19.82" height="17.63" fill="#edb43a"/>
<rect x="456.75" y="619.60" width="19.82" height="17.63" fill="#eea73c"/>
<rect x="476.57" y="619.60" width="19.82" height="17.63" fill="#eea03d"/>
<rect x="496.39" y="619.60" width="19.82" height="17.63" fill="#edb43a"/>
<rect x="516.21" y="619.60" width="19.82" height="17.63" fill="#ed8448"/>
<rect x="536.02" y="619.60" width="19.82" height="17.63" fill="#edb13b"/>
<rect x="555.84" y="619.60" width="19.82" height="17.63" fill="#edb43a"/>
<rect x="575.66" y="619.60" width="19.82" height="17.63" fill="#edb13b"/>
<rect x="595.47" y="619.60" width="19.82" height="17.63" fill="#eb764f"/>
<rect x="615.29" y="619.60" width="19.82" height="17.63" fill="#d04482"/>
<rect x="635.11" y="619.60" width="19.82" height="17.63" fill="#edaa3c"/>
<rect x="654.92" y="619.60" width="19.82" height="17.63" fill="#edb43a"/>
<rect x="674.74" y="619.60" width="19.82" height="17.63" fill="#edb43a"/>
<rect x="694.56" y="619.60" width="19.82" height="17.63" fill="#edb43a"/>
<rect x="714.38" y="619.60" width="19.82" height="17.63" fill="#edba3a"/>
<rect x="734.19" y="619.60" width="19.82" height="17.63" fill="#ecc83b"/>
<rect x="754.01" y="619.60" width="19.82" height="17.63" fill="#edbd3a"/>
<rect x="773.83" y="619.60" width="19.82" height="17.63" fill="#eea43c"/>
<rect x="793.64" y="619.60" width="19.82" height="17.63" fill="#eea43c"/>
<rect x="813.46" y="619.60" width="19.82" height="17.63" fill="#edb73a"/>
<rect x="833.28" y="619.60" width="19.82" height="17.63" fill="#ee9a3e"/>
<rect x="853.10" y="619.60" width="19.82" height="17.63" fill="#edba3a"/>
<rect x="872.91" y="619.60" width="19.82" height="17.63" fill="#edb73a"/>
<rect x="892.73" y="619.60" width="19.82" height="17.63" fill="#edb13b"/>
<rect x="912.55" y="619.60" width="19.82" height="17.63" fill="#edb13b"/>
<rect x="932.36" y="619.60" width="19.82" height="17.63" fill="#ed8d44"/>
<rect x="952.18" y="619.60" width="19.82" height="17.63" fill="#edba3a"/>
<rect x="972.00" y="619.60" width="19.82" height="17.63" fill="#edb73a"/>
<rect x="991.81" y="619.60" width="19.82" height="17.63" fill="#edb73a"/>
<rect x="1011.63" y="619.60" width="19.82" height="17.63" fill="#eea73c"/>
<rect x="1031.45" y="619.60" width="19.82" height="17.63" fill="#eea73c"/>
<rect x="1051.26" y="619.60" width="19.82" height="17.63" fill="#ec8049"/>
<rect x="1071.08" y="619.60" width="19.82" height="17.63" fill="#edb13b"/>
<rect x="1090.90" y="619.60" width="19.82" height="17.63" fill="#edb73a"/>
<rect x="1110.72" y="619.60" width="19.82" height="17.63" fill="#edbd3a"/>
<rect x="1130.53" y="619.60" width="19.82" height="17.63" fill="#edba3a"/>
<rect x="1150.35" y="619.60" width="19.82" height="17.63" fill="#edba3a"/>
<rect x="1170.17" y="619.60" width="19.82" height="17.63" fill="#edba3a"/>
<rect x="1189.98" y="619.60" width="19.82" height="17.63" fill="#e35967"/>
<rect x="1209.80" y="619.60" width="19.82" height="17.63" fill="#eea73c"/>
<rect x="159.50" y="637.23" width="19.82" height="17.63" fill="#eea43c"/>
<rect x="179.32" y="637.23" width="19.82" height="17.63" fill="#edb73a"/>
<rect x="199.13" y="637.23" width="19.82" height="17.63" fill="#edb43a"/>
<rect x="218.95" y="637.23" width="19.82" height="17.63" fill="#eea73c"/>
<rect x="238.77" y="637.23" width="19.82" height="17.63" fill="#edb43a"/>
<rect x="258.59" y="637.23" width="19.82" height="17.63" fill="#eea03d"/>
<rect x="278.40" y="637.23" width="19.82" height="17.63" fill="#edb43a"/>
<rect x="298.22" y="637.23" width="19.82" height="17.63" fill="#edb43a"/>
<rect x="318.04" y="637.23" width="19.82" height="17.63" fill="#edb43a"/>
<rect x="337.85" y="637.23" width="19.82" height="17.63" fill="#edaa3c"/>
<rect x="357.67" y="637.23" width="19.82" height="17.63" fill="#edb13b"/>
<rect x="377.49" y="637.23" width="19.82" height="17.63" fill="#d5497c"/>
<rect x="397.30" y="637.23" width="19.82" height="17.63" fill="#edb43a"/>
<rect x="417.12" y="637.23" width="19.82" height="17.63" fill="#edb13b"/>
<rect x="436.94" y="637.23" width="19.82" height="17.63" fill="#edb43a"/>
<rect x="456.75" y="637.23" width="19.82" height="17.63" fill="#eea73c"/>
<rect x="476.57" y="637.23" width="19.82" height="17.63" fill="#eea03d"/>
<rect x="496.39" y="637.23" width="19.82" height="17.63" fill="#edb43a"/>
<rect x="516.21" y="637.23" width="19.82" height="17.63" fill="#ec8049"/>
<rect x="536.02" y="637.23" width="19.82" height="17.63" fill="#edb13b"/>
<rect x="555.84" y="637.23" width="19.82" height="17.63" fill="#edb43a"/>
<rect x="575.66" y="637.23" width="19.82" height="17.63" fill="#edb43a"/>
<rect x="595.47" y="637.23" width="19.82" height="17.63" fill="#ec7a4c"/>
<rect x="615.29" y="637.23" width="19.82" height="17.63" fill="#b236c4"/>
<rect x="635.11" y="637.23" width="19.82" height="17.63" fill="#eea73c"/>
<rect x="654.92" y="637.23" width="19.82" height="17.63" fill="#edb43a"/>
<rect x="674.74" y="637.23" width="19.82" height="17.63" fill="#edb13b"/>
<rect x="694.56" y="637.23" width="19.82" height="17.63" fill="#edb13b"/>
<rect x="714.38" y="637.23" width="19.82" height="17.63" fill="#edb43a"/>
<rect x="734.19" y="637.23" width="19.82" height="17.63" fill="#ecc43b"/>
<rect x="754.01" y="637.23" width="19.82" height="17.63" fill="#edbd3a"/>
<rect x="773.83" y="637.23" width="19.82" height="17.63" fill="#eea03d"/>
<rect x="793.64" y="637.23" width="19.82" height="17.63" fill="#eea03d"/>
<rect x="813.46" y="637.23" width="19.82" height="17.63" fill="#edba3a"/>
<rect x="833.28" y="637.23" width="19.82" height="17.63" fill="#ee9d3e"/>
<rect x="853.10" y="637.23" width="19.82" height="17.63" fill="#ecc13a"/>
<rect x="872.91" y="637.23" width="19.82" height="17.63" fill="#edba3a"/>
<rect x="892.73" y="637.23" width="19.82" height="17.63" fill="#edb43a"/>
<rect x="912.55" y="637.23" width="19.82" height="17.63" fill="#edb43a"/>
<rect x="932.36" y="637.23" width="19.82" height="17.63" fill="#ed9042"/>
<rect x="952.18" y="637.23" width="19.82" height="17.63" fill="#edba3a"/>
<rect x="972.00" y="637.23" width="19.82" height="17.63" fill="#edba3a"/>
<rect x="991.81" y="637.23" width="19.82" height="17.63" fill="#edba3a"/>
<rect x="1011.63" y="637.23" width="19.82" height="17.63" fill="#eea43c"/>
<rect x="1031.45" y="637.23" width="19.82" height="17.63" fill="#eea43c"/>
<rect x="1051.26" y="637.23" width="19.82" height="17.63" fill="#eb764f"/>
<rect x="1071.08" y="637.23" width="19.82" height="17.63" fill="#edad3b"/>
<rect x="1090.90" y="637.23" width="19.82" height="17.63" fill="#edb43a"/>
<rect x="1110.72" y="637.23" width="19.82" height="17.63" fill="#edba3a"/>
<rect x="1130.53" y="637.23" width="19.82" height="17.63" fill="#edba3a"/>
<rect x="1150.35" y="637.23" width="19.82" height="17.63" fill="#edba3a"/>
<rect x="1170.17" y="637.23" width="19.82" height="17.63" fill="#edba3a"/>
<rect x="1189.98" y="637.23" width="19.82" height="17.63" fill="#e2566a"/>
<rect x="1209.80" y="637.23" width="19.82" height="17.63" fill="#eea43c"/>
<rect x="159.50" y="654.86" width="19.82" height="17.63" fill="#eea43c"/>
<rect x="179.32" y="654.86" width="19.82" height="17.63" fill="#edb73a"/>
<rect x="199.13" y="654.86" width="19.82" height="17.63" fill="#edb43a"/>
<rect x="218.95" y="654.86" width="19.82" height="17.63" fill="#eea73c"/>
<rect x="238.77" y="654.86" width="19.82" height="17.63" fill="#edb43a"/>
<rect x="258.59" y="654.86" width="19.82" height="17.63" fill="#ee9d3e"/>
<rect x="278.40" y="654.86" width="19.82" height="17.63" fill="#edb43a"/>
<rect x="298.22" y="654.86" width="19.82" height="17.63" fill="#edb43a"/>
<rect x="318.04" y="654.86" width="19.82" height="17.63" fill="#edb43a"/>
<rect x="337.85" y="654.86" width="19.82" height="17.63" fill="#edaa3c"/>
<rect x="357.67" y="654.86" width="19.82" height="17.63" fill="#edb13b"/>
<rect x="377.49" y="654.86" width="19.82" height="17.63" fill="#e2566a"/>
<rect x="397.30" y="654.86" width="19.82" height="17.63" fill="#edb43a"/>
<rect x="417.12" y="654.86" width="19.82" height="17.63" fill="#edb13b"/>
<rect x="436.94" y="654.86" width="19.82" height="17.63" fill="#edb43a"/>
<rect x="456.75" y="654.86" width="19.82" height="17.63" fill="#eea73c"/>
<rect x="476.57" y="654.86" width="19.82" height="17.63" fill="#eea03d"/>
<rect x="496.39" y="654.86" width="19.82" height="17.63" fill="#edb43a"/>
<rect x="516.21" y="654.86" width="19.82" height="17.63" fill="#ed8448"/>
<rect x="536.02" y="654.86" width="19.82" height="17.63" fill="#edb13b"/>
<rect x="555.84" y="654.86" width="19.82" height="17.63" fill="#edb43a"/>
<rect x="575.66" y="654.86" width="19.82" height="17.63" fill="#edb43a"/>
<rect x="595.47" y="654.86" width="19.82" height="17.63" fill="#ec7a4c"/>
<rect x="615.29" y="654.86" width="19.82" height="17.63" fill="#ce4285"/>
<rect x="635.11" y="654.86" width="19.82" height="17.63" fill="#eea73c"/>
<rect x="654.92" y="654.86" width="19.82" height="17.63" fill="#edb43a"/>
<rect x="674.74" y="654.86" width="19.82" height="17.63" fill="#edb13b"/>
<rect x="694.56" y="654.86" width="19.82" height="17.63" fill="#edad3b"/>
<rect x="714.38" y="654.86" width="19.82" height="17.63" fill="#edb43a"/>
<rect x="734.19" y="654.86" width="19.82" height="17.63" fill="#edbd3a"/>
<rect x="754.01" y="654.86" width="19.82" height="17.63" fill="#edba3a"/>
<rect x="773.83" y="654.86" width="19.82" height="17.63" fill="#eea73c"/>
<rect x="793.64" y="654.86" width="19.82" height="17.63" fill="#eea73c"/>
<rect x="813.46" y="654.86" width="19.82" height="17.63" fill="#ee973f"/>
<rect x="833.28" y="654.86" width="19.82" height="17.63" fill="#eea03d"/>
<rect x="853.10" y="654.86" width="19.82" height="17.63" fill="#ecc13a"/>
<rect x="872.91" y="654.86" width="19.82" height="17.63" fill="#edba3a"/>
<rect x="892.73" y="654.86" width="19.82" height="17.63" fill="#edb43a"/>
<rect x="912.55" y="654.86" width="19.82" height="17.63" fill="#edb43a"/>
<rect x="932.36" y="654.86" width="19.82" height="17.63" fill="#ed9042"/>
<rect x="952.18" y="654.86" width="19.82" height="17.63" fill="#edbd3a"/>
<rect x="972.00" y="654.86" width="19.82" height="17.63" fill="#edba3a"/>
<rect x="991.81" y="654.86" width="19.82" height="17.63" fill="#edba3a"/>
<rect x="1011.63" y="654.86" width="19.82" height="17.63" fill="#eea73c"/>
<rect x="1031.45" y="654.86" width="19.82" height="17.63" fill="#eea73c"/>
<rect x="1051.26" y="654.86" width="19.82" height="17.63" fill="#ec7a4c"/>
<rect x="1071.08" y="654.86" width="19.82" height="17.63" fill="#edad3b"/>
<rect x="1090.90" y="654.86" width="19.82" height="17.63" fill="#edb43a"/>
<rect x="1110.72" y="654.86" width="19.82" height="17.63" fill="#edba3a"/>
<rect x="1130.53" y="654.86" width="19.82" height="17.63" fill="#edba3a"/>
<rect x="1150.35" y="654.86" width="19.82" height="17.63" fill="#edba3a"/>
<rect x="1170.17" y="654.86" width="19.82" height="17.63" fill="#edba3a"/>
<rect x="1189.98" y="654.86" width="19.82" height="17.63" fill="#e35967"/>
<rect x="1209.80" y="654.86" width="19.82" height="17.63" fill="#eea43c"/>
<rect x="159.50" y="672.49" width="19.82" height="17.63" fill="#eea43c"/>
<rect x="179.32" y="672.49" width="19.82" height="17.63" fill="#edb73a"/>
<rect x="199.13" y="672.49" width="19.82" height="17.63" fill="#edb43a"/>
<rect x="218.95" y="672.49" width="19.82" height="17.63" fill="#eea73c"/>
<rect x="238.77" y="672.49" width="19.82" height="17.63" fill="#edb43a"/>
<rect x="258.59" y="672.49" width="19.82" height="17.63" fill="#eea03d"/>
<rect x="278.40" y="672.49" width="19.82" height="17.63" fill="#edb43a"/>
<rect x="298.22" y="672.49" width="19.82" height="17.63" fill="#edb43a"/>
<rect x="318.04" y="672.49" width="19.82" height="17.63" fill="#edb43a"/>
<rect x="337.85" y="672.49" width="19.82" height="17.63" fill="#edad3b"/>
<rect x="357.67" y="672.49" width="19.82" height="17.63" fill="#edb13b"/>
<rect x="377.49" y="672.49" width="19.82" height="17.63" fill="#e0546d"/>
<rect x="397.30" y="672.49" width="19.82" height="17.63" fill="#edb43a"/>
<rect x="417.12" y="672.49" width="19.82" height="17.63" fill="#edb13b"/>
<rect x="436.94" y="672.49" width="19.82" height="17.63" fill="#edb43a"/>
<rect x="456.75" y="672.49" width="19.82" height="17.63" fill="#eea43c"/>
<rect x="476.57" y="672.49" width="19.82" height="17.63" fill="#eea03d"/>
<rect x="496.39" y="672.49" width="19.82" height="17.63" fill="#edb43a"/>
<rect x="516.21" y="672.49" width="19.82" height="17.63" fill="#ec8049"/>
<rect x="536.02" y="672.49" width="19.82" height="17.63" fill="#edb13b"/>
<rect x="555.84" y="672.49" width="19.82" height="17.63" fill="#edb43a"/>
<rect x="575.66" y="672.49" width="19.82" height="17.63" fill="#edb43a"/>
<rect x="595.47" y="672.49" width="19.82" height="17.63" fill="#ec7a4c"/>
<rect x="615.29" y="672.49" width="19.82" height="17.63" fill="#d5497c"/>
<rect x="635.11" y="672.49" width="19.82" height="17.63" fill="#eea73c"/>
<rect x="654.92" y="672.49" width="19.82" height="17.63" fill="#edb43a"/>
<rect x="674.74" y="672.49" width="19.82" height="17.63" fill="#edad3b"/>
<rect x="694.56" y="672.49" width="19.82" height="17.63" fill="#edb13b"/>
<rect x="714.38" y="672.49" width="19.82" height="17.63" fill="#edb13b"/>
<rect x="734.19" y="672.49" width="19.82" height="17.63" fill="#edba3a"/>
<rect x="754.01" y="672.49" width="19.82" height="17.63" fill="#edb73a"/>
<rect x="773.83" y="672.49" width="19.82" height="17.63" fill="#eea43c"/>
<rect x="793.64" y="672.49" width="19.82" height="17.63" fill="#eea43c"/>
<rect x="813.46" y="672.49" width="19.82" height="17.63" fill="#ee9d3e"/>
<rect x="833.28" y="672.49" width="19.82" height="17.63" fill="#eea43c"/>
<rect x="853.10" y="672.49" width="19.82" height="17.63" fill="#edbd3a"/>
<rect x="872.91" y="672.49" width="19.82" height="17.63" fill="#edba3a"/>
<rect x="892.73" y="672.49" width="19.82" height="17.63" fill="#edb13b"/>
<rect x="912.55" y="672.49" width="19.82" height="17.63" fill="#edb43a"/>
<rect x="932.36" y="672.49" width="19.82" height="17.63" fill="#ed9042"/>
<rect x="952.18" y="672.49" width="19.82" height="17.63" fill="#edba3a"/>
<rect x="972.00" y="672.49" width="19.82" height="17.63" fill="#edb73a"/>
<rect x="991.81" y="672.49" width="19.82" height="17.63" fill="#edb73a"/>
<rect x="1011.63" y="672.49" width="19.82" height="17.63" fill="#edaa3c"/>
<rect x="1031.45" y="672.49" width="19.82" height="17.63" fill="#edaa3c"/>
<rect x="1051.26" y="672.49" width="19.82" height="17.63" fill="#ed8448"/>
<rect x="1071.08" y="672.49" width="19.82" height="17.63" fill="#edb13b"/>
<rect x="1090.90" y="672.49" width="19.82" height="17.63" fill="#edb43a"/>
<rect x="1110.72" y="672.49" width="19.82" height="17.63" fill="#edba3a"/>
<rect x="1130.53" y="672.49" width="19.82" height="17.63" fill="#edba3a"/>
<rect x="1150.35" y="672.49" width="19.82" height="17.63" fill="#edba3a"/>
<rect x="1170.17" y="672.49" width="19.82" height="17.63" fill="#edba3a"/>
<rect x="1189.98" y="672.49" width="19.82" height="17.63" fill="#e2566a"/>
<rect x="1209.80" y="672.49" width="19.82" height="17.63" fill="#eea43c"/>
<rect x="159.50" y="690.12" width="19.82" height="17.63" fill="#eccb3b"/>
<rect x="179.32" y="690.12" width="19.82" height="17.63" fill="#e7ec3f"/>
<rect x="199.13" y="690.12" width="19.82" height="17.63" fill="#e8e83e"/>
<rect x="218.95" y="690.12" width="19.82" height="17.63" fill="#edaa3c"/>
<rect x="238.77" y="690.12" width="19.82" height="17.63" fill="#ecc13a"/>
<rect x="258.59" y="690.12" width="19.82" height="17.63" fill="#ec7d4b"/>
<rect x="278.40" y="690.12" width="19.82" height="17.63" fill="#edb73a"/>
<rect x="298.22" y="690.12" width="19.82" height="17.63" fill="#edb43a"/>
<rect x="318.04" y="690.12" width="19.82" height="17.63" fill="#edb43a"/>
<rect x="337.85" y="690.12" width="19.82" height="17.63" fill="#ea7252"/>
<rect x="357.67" y="690.12" width="19.82" height="17.63" fill="#ec8049"/>
<rect x="377.49" y="690.12" width="19.82" height="17.63" fill="#e96a57"/>
<rect x="397.30" y="690.12" width="19.82" height="17.63" fill="#ed8448"/>
<rect x="417.12" y="690.12" width="19.82" height="17.63" fill="#e7635d"/>
<rect x="436.94" y="690.12" width="19.82" height="17.63" fill="#e96a57"/>
<rect x="456.75" y="690.12" width="19.82" height="17.63" fill="#e96a57"/>
<rect x="476.57" y="690.12" width="19.82" height="17.63" fill="#e45c64"/>
<rect x="496.39" y="690.12" width="19.82" height="17.63" fill="#ed9042"/>
<rect x="516.21" y="690.12" width="19.82" height="17.63" fill="#ec7d4b"/>
<rect x="536.02" y="690.12" width="19.82" height="17.63" fill="#ed9042"/>
<rect x="555.84" y="690.12" width="19.82" height="17.63" fill="#ee9441"/>
<rect x="575.66" y="690.12" width="19.82" height="17.63" fill="#ed9042"/>
<rect x="595.47" y="690.12" width="19.82" height="17.63" fill="#eb764f"/>
<rect x="615.29" y="690.12" width="19.82" height="17.63" fill="#ed8448"/>
<rect x="635.11" y="690.12" width="19.82" height="17.63" fill="#ec7a4c"/>
<rect x="654.92" y="690.12" width="19.82" height="17.63" fill="#ed8d44"/>
<rect x="674.74" y="690.12" width="19.82" height="17.63" fill="#ed8448"/>
<rect x="694.56" y="690.12" width="19.82" height="17.63" fill="#edad3b"/>
<rect x="714.38" y="690.12" width="19.82" height="17.63" fill="#edb13b"/>
<rect x="734.19" y="690.12" width="19.82" height="17.63" fill="#edb73a"/>
<rect x="754.01" y="690.12" width="19.82" height="17.63" fill="#edb73a"/>
<rect x="773.83" y="690.12" width="19.82" height="17.63" fill="#ec7a4c"/>
<rect x="793.64" y="690.12" width="19.82" height="17.63" fill="#ec7a4c"/>
<rect x="813.46" y="690.12" width="19.82" height="17.63" fill="#ee9a3e"/>
<rect x="833.28" y="690.12" width="19.82" height="17.63" fill="#ed9042"/>
<rect x="853.10" y="690.12" width="19.82" height="17.63" fill="#eea43c"/>
<rect x="872.91" y="690.12" width="19.82" height="17.63" fill="#ee9d3e"/>
<rect x="892.73" y="690.12" width="19.82" height="17.63" fill="#ee9d3e"/>
<rect x="912.55" y="690.12" width="19.82" height="17.63" fill="#ee9d3e"/>
<rect x="932.36" y="690.12" width="19.82" height="17.63" fill="#ed8d44"/>
<rect x="952.18" y="690.12" width="19.82" height="17.63" fill="#eadc3c"/>
<rect x="972.00" y="690.12" width="19.82" height="17.63" fill="#ead93c"/>
<rect x="991.81" y="690.12" width="19.82" height="17.63" fill="#ead93c"/>
<rect x="1011.63" y="690.12" width="19.82" height="17.63" fill="#ed9042"/>
<rect x="1031.45" y="690.12" width="19.82" height="17.63" fill="#ee9441"/>
<rect x="1051.26" y="690.12" width="19.82" height="17.63" fill="#ed8746"/>
<rect x="1071.08" y="690.12" width="19.82" height="17.63" fill="#ee9d3e"/>
<rect x="1090.90" y="690.12" width="19.82" height="17.63" fill="#ed8448"/>
<rect x="1110.72" y="690.12" width="19.82" height="17.63" fill="#ed9042"/>
<rect x="1130.53" y="690.12" width="19.82" height="17.63" fill="#edba3a"/>
<rect x="1150.35" y="690.12" width="19.82" height="17.63" fill="#edba3a"/>
<rect x="1170.17" y="690.12" width="19.82" height="17.63" fill="#edbd3a"/>
<rect x="1189.98" y="690.12" width="19.82" height="17.63" fill="#e96a57"/>
<rect x="1209.80" y="690.12" width="19.82" height="17.63" fill="#ee9d3e"/>
<rect x="159.50" y="707.75" width="19.82" height="17.63" fill="#ee973f"/>
<rect x="179.32" y="707.75" width="19.82" height="17.63" fill="#edb13b"/>
<rect x="199.13" y="707.75" width="19.82" height="17.63" fill="#edad3b"/>
<rect x="218.95" y="707.75" width="19.82" height="17.63" fill="#eea73c"/>
<rect x="238.77" y="707.75" width="19.82" height="17.63" fill="#edb13b"/>
<rect x="258.59" y="707.75" width="19.82" height="17.63" fill="#ee9d3e"/>
<rect x="278.40" y="707.75" width="19.82" height="17.63" fill="#edb13b"/>
<rect x="298.22" y="707.75" width="19.82" height="17.63" fill="#edb13b"/>
<rect x="318.04" y="707.75" width="19.82" height="17.63" fill="#edb13b"/>
<rect x="337.85" y="707.75" width="19.82" height="17.63" fill="#edaa3c"/>
<rect x="357.67" y="707.75" width="19.82" height="17.63" fill="#edb43a"/>
<rect x="377.49" y="707.75" width="19.82" height="17.63" fill="#de5270"/>
<rect x="397.30" y="707.75" width="19.82" height="17.63" fill="#edb43a"/>
<rect x="417.12" y="707.75" width="19.82" height="17.63" fill="#edb13b"/>
<rect x="436.94" y="707.75" width="19.82" height="17.63" fill="#edb43a"/>
<rect x="456.75" y="707.75" width="19.82" height="17.63" fill="#eea73c"/>
<rect x="476.57" y="707.75" width="19.82" height="17.63" fill="#ee9d3e"/>
<rect x="496.39" y="707.75" width="19.82" height="17.63" fill="#edb13b"/>
<rect x="516.21" y="707.75" width="19.82" height="17.63" fill="#ec8049"/>
<rect x="536.02" y="707.75" width="19.82" height="17.63" fill="#edb13b"/>
<rect x="555.84" y="707.75" width="19.82" height="17.63" fill="#edb43a"/>
<rect x="575.66" y="707.75" width="19.82" height="17.63" fill="#edb43a"/>
<rect x="595.47" y="707.75" width="19.82" height="17.63" fill="#ec7a4c"/>
<rect x="615.29" y="707.75" width="19.82" height="17.63" fill="#b738b8"/>
<rect x="635.11" y="707.75" width="19.82" height="17.63" fill="#eea73c"/>
<rect x="654.92" y="707.75" width="19.82" height="17.63" fill="#edb43a"/>
<rect x="674.74" y="707.75" width="19.82" height="17.63" fill="#edad3b"/>
<rect x="694.56" y="707.75" width="19.82" height="17.63" fill="#edad3b"/>
<rect x="714.38" y="707.75" width="19.82" height="17.63" fill="#edb43a"/>
<rect x="734.19" y="707.75" width="19.82" height="17.63" fill="#ecc83b"/>
<rect x="754.01" y="707.75" width="19.82" height="17.63" fill="#ecc13a"/>
<rect x="773.83" y="707.75" width="19.82" height="17.63" fill="#edad3b"/>
<rect x="793.64" y="707.75" width="19.82" height="17.63" fill="#edad3b"/>
<rect x="813.46" y="707.75" width="19.82" height="17.63" fill="#edba3a"/>
<rect x="833.28" y="707.75" width="19.82" height="17.63" fill="#ee9a3e"/>
<rect x="853.10" y="707.75" width="19.82" height="17.63" fill="#edbd3a"/>
<rect x="872.91" y="707.75" width="19.82" height="17.63" fill="#edba3a"/>
<rect x="892.73" y="707.75" width="19.82" height="17.63" fill="#edb13b"/>
<rect x="912.55" y="707.75" width="19.82" height="17.63" fill="#edb13b"/>
<rect x="932.36" y="707.75" width="19.82" height="17.63" fill="#ed9042"/>
<rect x="952.18" y="707.75" width="19.82" height="17.63" fill="#edba3a"/>
<rect x="972.00" y="707.75" width="19.82" height="17.63" fill="#edb73a"/>
<rect x="991.81" y="707.75" width="19.82" height="17.63" fill="#edba3a"/>
<rect x="1011.63" y="707.75" width="19.82" height="17.63" fill="#edad3b"/>
<rect x="1031.45" y="707.75" width="19.82" height="17.63" fill="#edad3b"/>
<rect x="1051.26" y="707.75" width="19.82" height="17.63" fill="#ed8a45"/>
<rect x="1071.08" y="707.75" width="19.82" height="17.63" fill="#edba3a"/>
<rect x="1090.90" y="707.75" width="19.82" height="17.63" fill="#ecc13a"/>
<rect x="1110.72" y="707.75" width="19.82" height="17.63" fill="#ebd23b"/>
<rect x="1130.53" y="707.75" width="19.82" height="17.63" fill="#ebce3b"/>
<rect x="1150.35" y="707.75" width="19.82" height="17.63" fill="#ebce3b"/>
<rect x="1170.17" y="707.75" width="19.82" height="17.63" fill="#edba3a"/>
<rect x="1189.98" y="707.75" width="19.82" height="17.63" fill="#e7635d"/>
<rect x="1209.80" y="707.75" width="19.82" height="17.63" fill="#eea43c"/>
<rect x="159.50" y="725.38" width="19.82" height="17.63" fill="#eea03d"/>
<rect x="179.32" y="725.38" width="19.82" height="17.63" fill="#edb43a"/>
<rect x="199.13" y="725.38" width="19.82" height="17.63" fill="#edb43a"/>
<rect x="218.95" y="725.38" width="19.82" height="17.63" fill="#eea43c"/>
<rect x="238.77" y="725.38" width="19.82" height="17.63" fill="#edb13b"/>
<rect x="258.59" y="725.38" width="19.82" height="17.63" fill="#ee9a3e"/>
<rect x="278.40" y="725.38" width="19.82" height="17.63" fill="#edb13b"/>
<rect x="298.22" y="725.38" width="19.82" height="17.63" fill="#edb43a"/>
<rect x="318.04" y="725.38" width="19.82" height="17.63" fill="#edb43a"/>
<rect x="337.85" y="725.38" width="19.82" height="17.63" fill="#edad3b"/>
<rect x="357.67" y="725.38" width="19.82" height="17.63" fill="#edb43a"/>
<rect x="377.49" y="725.38" width="19.82" height="17.63" fill="#d94d76"/>
<rect x="397.30" y="725.38" width="19.82" height="17.63" fill="#edb43a"/>
<rect x="417.12" y="725.38" width="19.82" height="17.63" fill="#edb13b"/>
<rect x="436.94" y="725.38" width="19.82" height="17.63" fill="#edb43a"/>
<rect x="456.75" y="725.38" width="19.82" height="17.63" fill="#eea43c"/>
<rect x="476.57" y="725.38" width="19.82" height="17.63" fill="#ee9d3e"/>
<rect x="496.39" y="725.38" width="19.82" height="17.63" fill="#edb43a"/>
<rect x="516.21" y="725.38" width="19.82" height="17.63" fill="#ec8049"/>
<rect x="536.02" y="725.38" width="19.82" height="17.63" fill="#edad3b"/>
<rect x="555.84" y="725.38" width="19.82" height="17.63" fill="#edb43a"/>
<rect x="575.66" y="725.38" width="19.82" height="17.63" fill="#edb13b"/>
<rect x="595.47" y="725.38" width="19.82" height="17.63" fill="#eb764f"/>
<rect x="615.29" y="725.38" width="19.82" height="17.63" fill="#c23ca0"/>
<rect x="635.11" y="725.38" width="19.82" height="17.63" fill="#eea03d"/>
<rect x="654.92" y="725.38" width="19.82" height="17.63" fill="#edb13b"/>
<rect x="674.74" y="725.38" width="19.82" height="17.63" fill="#eea73c"/>
<rect x="694.56" y="725.38" width="19.82" height="17.63" fill="#edaa3c"/>
<rect x="714.38" y="725.38" width="19.82" height="17.63" fill="#edb13b"/>
<rect x="734.19" y="725.38" width="19.82" height="17.63" fill="#edba3a"/>
<rect x="754.01" y="725.38" width="19.82" height="17.63" fill="#edba3a"/>
<rect x="773.83" y="725.38" width="19.82" height="17.63" fill="#eea73c"/>
<rect x="793.64" y="725.38" width="19.82" height="17.63" fill="#eea73c"/>
<rect x="813.46" y="725.38" width="19.82" height="17.63" fill="#edba3a"/>
<rect x="833.28" y="725.38" width="19.82" height="17.63" fill="#ee9d3e"/>
<rect x="853.10" y="725.38" width="19.82" height="17.63" fill="#ecc13a"/>
<rect x="872.91" y="725.38" width="19.82" height="17.63" fill="#edba3a"/>
<rect x="892.73" y="725.38" width="19.82" height="17.63" fill="#edb43a"/>
<rect x="912.55" y="725.38" width="19.82" height="17.63" fill="#edb43a"/>
<rect x="932.36" y="725.38" width="19.82" height="17.63" fill="#ed9042"/>
<rect x="952.18" y="725.38" width="19.82" height="17.63" fill="#ecc83b"/>
<rect x="972.00" y="725.38" width="19.82" height="17.63" fill="#ecc43b"/>
<rect x="991.81" y="725.38" width="19.82" height="17.63" fill="#ecc43b"/>
<rect x="1011.63" y="725.38" width="19.82" height="17.63" fill="#eea43c"/>
<rect x="1031.45" y="725.38" width="19.82" height="17.63" fill="#eea43c"/>
<rect x="1051.26" y="725.38" width="19.82" height="17.63" fill="#e96a57"/>
<rect x="1071.08" y="725.38" width="19.82" height="17.63" fill="#edad3b"/>
<rect x="1090.90" y="725.38" width="19.82" height="17.63" fill="#edba3a"/>
<rect x="1110.72" y="725.38" width="19.82" height="17.63" fill="#ebd23b"/>
<rect x="1130.53" y="725.38" width="19.82" height="17.63" fill="#eccb3b"/>
<rect x="1150.35" y="725.38" width="19.82" height="17.63" fill="#eccb3b"/>
<rect x="1170.17" y="725.38" width="19.82" height="17.63" fill="#edb73a"/>
<rect x="1189.98" y="725.38" width="19.82" height="17.63" fill="#e0546d"/>
<rect x="1209.80" y="725.38" width="19.82" height="17.63" fill="#eea43c"/>
<rect x="159.50" y="743.01" width="19.82" height="17.63" fill="#eea03d"/>
<rect x="179.32" y="743.01" width="19.82" height="17.63" fill="#edb43a"/>
<rect x="199.13" y="743.01" width="19.82" height="17.63" fill="#edb43a"/>
<rect x="218.95" y="743.01" width="19.82" height="17.63" fill="#eea73c"/>
<rect x="238.77" y="743.01" width="19.82" height="17.63" fill="#edb43a"/>
<rect x="258.59" y="743.01" width="19.82" height="17.63" fill="#eea73c"/>
<rect x="278.40" y="743.01" width="19.82" height="17.63" fill="#edb73a"/>
<rect x="298.22" y="743.01" width="19.82" height="17.63" fill="#edb43a"/>
<rect x="318.04" y="743.01" width="19.82" height="17.63" fill="#edb43a"/>
<rect x="337.85" y="743.01" width="19.82" height="17.63" fill="#edad3b"/>
<rect x="357.67" y="743.01" width="19.82" height="17.63" fill="#edb43a"/>
<rect x="377.49" y="743.01" width="19.82" height="17.63" fill="#cc4088"/>
<rect x="397.30" y="743.01" width="19.82" height="17.63" fill="#edb43a"/>
<rect x="417.12" y="743.01" width="19.82" height="17.63" fill="#edb13b"/>
<rect x="436.94" y="743.01" width="19.82" height="17.63" fill="#edba3a"/>
<rect x="456.75" y="743.01" width="19.82" height="17.63" fill="#eea43c"/>
<rect x="476.57" y="743.01" width="19.82" height="17.63" fill="#eea03d"/>
<rect x="496.39" y="743.01" width="19.82" height="17.63" fill="#edb43a"/>
<rect x="516.21" y="743.01" width="19.82" height="17.63" fill="#ec8049"/>
<rect x="536.02" y="743.01" width="19.82" height="17.63" fill="#edad3b"/>
<rect x="555.84" y="743.01" width="19.82" height="17.63" fill="#edb43a"/>
<rect x="575.66" y="743.01" width="19.82" height="17.63" fill="#edb43a"/>
<rect x="595.47" y="743.01" width="19.82" height="17.63" fill="#eb764f"/>
<rect x="615.29" y="743.01" width="19.82" height="17.63" fill="#ae35c5"/>
<rect x="635.11" y="743.01" width="19.82" height="17.63" fill="#eea43c"/>
<rect x="654.92" y="743.01" width="19.82" height="17.63" fill="#edb43a"/>
<rect x="674.74" y="743.01" width="19.82" height="17.63" fill="#edad3b"/>
<rect x="694.56" y="743.01" width="19.82" height="17.63" fill="#edba3a"/>
<rect x="714.38" y="743.01" width="19.82" height="17.63" fill="#edba3a"/>
<rect x="734.19" y="743.01" width="19.82" height="17.63" fill="#ebce3b"/>
<rect x="754.01" y="743.01" width="19.82" height="17.63" fill="#ecc83b"/>
<rect x="773.83" y="743.01" width="19.82" height="17.63" fill="#eea03d"/>
<rect x="793.64" y="743.01" width="19.82" height="17.63" fill="#eea03d"/>
<rect x="813.46" y="743.01" width="19.82" height="17.63" fill="#edb73a"/>
<rect x="833.28" y="743.01" width="19.82" height="17.63" fill="#ee9d3e"/>
<rect x="853.10" y="743.01" width="19.82" height="17.63" fill="#edbd3a"/>
<rect x="872.91" y="743.01" width="19.82" height="17.63" fill="#edba3a"/>
<rect x="892.73" y="743.01" width="19.82" height="17.63" fill="#edb43a"/>
<rect x="912.55" y="743.01" width="19.82" height="17.63" fill="#edb43a"/>
<rect x="932.36" y="743.01" width="19.82" height="17.63" fill="#ed8746"/>
<rect x="952.18" y="743.01" width="19.82" height="17.63" fill="#edba3a"/>
<rect x="972.00" y="743.01" width="19.82" height="17.63" fill="#edb73a"/>
<rect x="991.81" y="743.01" width="19.82" height="17.63" fill="#edb73a"/>
<rect x="1011.63" y="743.01" width="19.82" height="17.63" fill="#eea43c"/>
<rect x="1031.45" y="743.01" width="19.82" height="17.63" fill="#eea43c"/>
<rect x="1051.26" y="743.01" width="19.82" height="17.63" fill="#ec8049"/>
<rect x="1071.08" y="743.01" width="19.82" height="17.63" fill="#edad3b"/>
<rect x="1090.90" y="743.01" width="19.82" height="17.63" fill="#edb73a"/>
<rect x="1110.72" y="743.01" width="19.82" height="17.63" fill="#ecc13a"/>
<rect x="1130.53" y="743.01" width="19.82" height="17.63" fill="#edbd3a"/>
<rect x="1150.35" y="743.01" width="19.82" height="17.63" fill="#edbd3a"/>
<rect x="1170.17" y="743.01" width="19.82" height="17.63" fill="#edb73a"/>
<rect x="1189.98" y="743.01" width="19.82" height="17.63" fill="#e35967"/>
<rect x="1209.80" y="743.01" width="19.82" height="17.63" fill="#eea43c"/>
<rect x="159.50" y="760.64" width="19.82" height="17.63" fill="#eea43c"/>
<rect x="179.32" y="760.64" width="19.82" height="17.63" fill="#edb43a"/>
<rect x="199.13" y="760.64" width="19.82" height="17.63" fill="#edb43a"/>
<rect x="218.95" y="760.64" width="19.82" height="17.63" fill="#eea73c"/>
<rect x="238.77" y="760.64" width="19.82" height="17.63" fill="#edb43a"/>
<rect x="258.59" y="760.64" width="19.82" height="17.63" fill="#eea03d"/>
<rect x="278.40" y="760.64" width="19.82" height="17.63" fill="#edb43a"/>
<rect x="298.22" y="760.64" width="19.82" height="17.63" fill="#edb43a"/>
<rect x="318.04" y="760.64" width="19.82" height="17.63" fill="#edb43a"/>
<rect x="337.85" y="760.64" width="19.82" height="17.63" fill="#edad3b"/>
<rect x="357.67" y="760.64" width="19.82" height="17.63" fill="#edb43a"/>
<rect x="377.49" y="760.64" width="19.82" height="17.63" fill="#d74b79"/>
<rect x="397.30" y="760.64" width="19.82" height="17.63" fill="#edb43a"/>
<rect x="417.12" y="760.64" width="19.82" height="17.63" fill="#edb13b"/>
<rect x="436.94" y="760.64" width="19.82" height="17.63" fill="#edb43a"/>
<rect x="456.75" y="760.64" width="19.82" height="17.63" fill="#eea43c"/>
<rect x="476.57" y="760.64" width="19.82" height="17.63" fill="#eea03d"/>
<rect x="496.39" y="760.64" width="19.82" height="17.63" fill="#edb13b"/>
<rect x="516.21" y="760.64" width="19.82" height="17.63" fill="#ed8448"/>
<rect x="536.02" y="760.64" width="19.82" height="17.63" fill="#edad3b"/>
<rect x="555.84" y="760.64" width="19.82" height="17.63" fill="#edb43a"/>
<rect x="575.66" y="760.64" width="19.82" height="17.63" fill="#edb13b"/>
<rect x="595.47" y="760.64" width="19.82" height="17.63" fill="#ec7a4c"/>
<rect x="615.29" y="760.64" width="19.82" height="17.63" fill="#bf3ba6"/>
<rect x="635.11" y="760.64" width="19.82" height="17.63" fill="#eea43c"/>
<rect x="654.92" y="760.64" width="19.82" height="17.63" fill="#edb43a"/>
<rect x="674.74" y="760.64" width="19.82" height="17.63" fill="#edad3b"/>
<rect x="694.56" y="760.64" width="19.82" height="17.63" fill="#edb43a"/>
<rect x="714.38" y="760.64" width="19.82" height="17.63" fill="#edb43a"/>
<rect x="734.19" y="760.64" width="19.82" height="17.63" fill="#edbd3a"/>
<rect x="754.01" y="760.64" width="19.82" height="17.63" fill="#edbd3a"/>
<rect x="773.83" y="760.64" width="19.82" height="17.63" fill="#eea73c"/>
<rect x="793.64" y="760.64" width="19.82" height="17.63" fill="#eea73c"/>
<rect x="813.46" y="760.64" width="19.82" height="17.63" fill="#edba3a"/>
<rect x="833.28" y="760.64" width="19.82" height="17.63" fill="#eea43c"/>
<rect x="853.10" y="760.64" width="19.82" height="17.63" fill="#ecc13a"/>
<rect x="872.91" y="760.64" width="19.82" height="17.63" fill="#edbd3a"/>
<rect x="892.73" y="760.64" width="19.82" height="17.63" fill="#edb73a"/>
<rect x="912.55" y="760.64" width="19.82" height="17.63" fill="#edb73a"/>
<rect x="932.36" y="760.64" width="19.82" height="17.63" fill="#ed9042"/>
<rect x="952.18" y="760.64" width="19.82" height="17.63" fill="#edbd3a"/>
<rect x="972.00" y="760.64" width="19.82" height="17.63" fill="#edba3a"/>
<rect x="991.81" y="760.64" width="19.82" height="17.63" fill="#edba3a"/>
<rect x="1011.63" y="760.64" width="19.82" height="17.63" fill="#eea73c"/>
<rect x="1031.45" y="760.64" width="19.82" height="17.63" fill="#eea73c"/>
<rect x="1051.26" y="760.64" width="19.82" height="17.63" fill="#eb764f"/>
<rect x="1071.08" y="760.64" width="19.82" height="17.63" fill="#edad3b"/>
<rect x="1090.90" y="760.64" width="19.82" height="17.63" fill="#edb43a"/>
<rect x="1110.72" y="760.64" width="19.82" height="17.63" fill="#edbd3a"/>
<rect x="1130.53" y="760.64" width="19.82" height="17.63" fill="#edb73a"/>
<rect x="1150.35" y="760.64" width="19.82" height="17.63" fill="#edb73a"/>
<rect x="1170.17" y="760.64" width="19.82" height="17.63" fill="#edb73a"/>
<rect x="1189.98" y="760.64" width="19.82" height="17.63" fill="#db4f73"/>
<rect x="1209.80" y="760.64" width="19.82" height="17.63" fill="#eea43c"/>
<rect x="159.50" y="778.27" width="19.82" height="17.63" fill="#e8e83e"/>
<rect x="179.32" y="778.27" width="19.82" height="17.63" fill="#e6f040"/>
<rect x="199.13" y="778.27" width="19.82" height="17.63" fill="#e7ec3f"/>
<rect x="218.95" y="778.27" width="19.82" height="17.63" fill="#eea73c"/>
<rect x="238.77" y="778.27" width="19.82" height="17.63" fill="#edba3a"/>
<rect x="258.59" y="778.27" width="19.82" height="17.63" fill="#eb764f"/>
<rect x="278.40" y="778.27" width="19.82" height="17.63" fill="#eea03d"/>
<rect x="298.22" y="778.27" width="19.82" height="17.63" fill="#ee9d3e"/>
<rect x="318.04" y="778.27" width="19.82" height="17.63" fill="#eea03d"/>
<rect x="337.85" y="778.27" width="19.82" height="17.63" fill="#e96a57"/>
<rect x="357.67" y="778.27" width="19.82" height="17.63" fill="#eb764f"/>
<rect x="377.49" y="778.27" width="19.82" height="17.63" fill="#e2566a"/>
<rect x="397.30" y="778.27" width="19.82" height="17.63" fill="#eb764f"/>
<rect x="417.12" y="778.27" width="19.82" height="17.63" fill="#e45c64"/>
<rect x="436.94" y="778.27" width="19.82" height="17.63" fill="#ea7252"/>
<rect x="456.75" y="778.27" width="19.82" height="17.63" fill="#e35967"/>
<rect x="476.57" y="778.27" width="19.82" height="17.63" fill="#e0546d"/>
<rect x="496.39" y="778.27" width="19.82" height="17.63" fill="#ea7252"/>
<rect x="516.21" y="778.27" width="19.82" height="17.63" fill="#e66060"/>
<rect x="536.02" y="778.27" width="19.82" height="17.63" fill="#eb764f"/>
<rect x="555.84" y="778.27" width="19.82" height="17.63" fill="#ec7d4b"/>
<rect x="575.66" y="778.27" width="19.82" height="17.63" fill="#ec7a4c"/>
<rect x="595.47" y="778.27" width="19.82" height="17.63" fill="#ea7252"/>
<rect x="615.29" y="778.27" width="19.82" height="17.63" fill="#e7635d"/>
<rect x="635.11" y="778.27" width="19.82" height="17.63" fill="#e2566a"/>
<rect x="654.92" y="778.27" width="19.82" height="17.63" fill="#ea7252"/>
<rect x="674.74" y="778.27" width="19.82" height="17.63" fill="#e45c64"/>
<rect x="694.56" y="778.27" width="19.82" height="17.63" fill="#ed8d44"/>
<rect x="714.38" y="778.27" width="19.82" height="17.63" fill="#ee9441"/>
<rect x="734.19" y="778.27" width="19.82" height="17.63" fill="#eea03d"/>
<rect x="754.01" y="778.27" width="19.82" height="17.63" fill="#eea03d"/>
<rect x="773.83" y="778.27" width="19.82" height="17.63" fill="#ec7a4c"/>
<rect x="793.64" y="778.27" width="19.82" height="17.63" fill="#ec7a4c"/>
<rect x="813.46" y="778.27" width="19.82" height="17.63" fill="#ee9d3e"/>
<rect x="833.28" y="778.27" width="19.82" height="17.63" fill="#ee973f"/>
<rect x="853.10" y="778.27" width="19.82" height="17.63" fill="#eea43c"/>
<rect x="872.91" y="778.27" width="19.82" height="17.63" fill="#eea43c"/>
<rect x="892.73" y="778.27" width="19.82" height="17.63" fill="#ed8d44"/>
<rect x="912.55" y="778.27" width="19.82" height="17.63" fill="#ed8d44"/>
<rect x="932.36" y="778.27" width="19.82" height="17.63" fill="#ea6e54"/>
<rect x="952.18" y="778.27" width="19.82" height="17.63" fill="#ebd23b"/>
<rect x="972.00" y="778.27" width="19.82" height="17.63" fill="#ebd23b"/>
<rect x="991.81" y="778.27" width="19.82" height="17.63" fill="#ebd53c"/>
<rect x="1011.63" y="778.27" width="19.82" height="17.63" fill="#ee9a3e"/>
<rect x="1031.45" y="778.27" width="19.82" height="17.63" fill="#ee9a3e"/>
<rect x="1051.26" y="778.27" width="19.82" height="17.63" fill="#ee973f"/>
<rect x="1071.08" y="778.27" width="19.82" height="17.63" fill="#eea03d"/>
<rect x="1090.90" y="778.27" width="19.82" height="17.63" fill="#ed8448"/>
<rect x="1110.72" y="778.27" width="19.82" height="17.63" fill="#ed8d44"/>
<rect x="1130.53" y="778.27" width="19.82" height="17.63" fill="#ecc83b"/>
<rect x="1150.35" y="778.27" width="19.82" height="17.63" fill="#ecc83b"/>
<rect x="1170.17" y="778.27" width="19.82" height="17.63" fill="#ead93c"/>
<rect x="1189.98" y="778.27" width="19.82" height="17.63" fill="#ed8448"/>
<rect x="1209.80" y="778.27" width="19.82" height="17.63" fill="#eea43c"/>
<rect x="159.50" y="795.90" width="19.82" height="17.63" fill="#eccb3b"/>
<rect x="179.32" y="795.90" width="19.82" height="17.63" fill="#e8e43e"/>
<rect x="199.13" y="795.90" width="19.82" height="17.63" fill="#e9e03d"/>
<rect x="218.95" y="795.90" width="19.82" height="17.63" fill="#edaa3c"/>
<rect x="238.77" y="795.90" width="19.82" height="17.63" fill="#edbd3a"/>
<rect x="258.59" y="795.90" width="19.82" height="17.63" fill="#ec8049"/>
<rect x="278.40" y="795.90" width="19.82" height="17.63" fill="#edba3a"/>
<rect x="298.22" y="795.90" width="19.82" height="17.63" fill="#edb43a"/>
<rect x="318.04" y="795.90" width="19.82" height="17.63" fill="#edb43a"/>
<rect x="337.85" y="795.90" width="19.82" height="17.63" fill="#ed8a45"/>
<rect x="357.67" y="795.90" width="19.82" height="17.63" fill="#ed9042"/>
<rect x="377.49" y="795.90" width="19.82" height="17.63" fill="#ec8049"/>
<rect x="397.30" y="795.90" width="19.82" height="17.63" fill="#ed9042"/>
<rect x="417.12" y="795.90" width="19.82" height="17.63" fill="#ec7a4c"/>
<rect x="436.94" y="795.90" width="19.82" height="17.63" fill="#ec8049"/>
<rect x="456.75" y="795.90" width="19.82" height="17.63" fill="#ec7a4c"/>
<rect x="476.57" y="795.90" width="19.82" height="17.63" fill="#ea7252"/>
<rect x="496.39" y="795.90" width="19.82" height="17.63" fill="#ee9d3e"/>
<rect x="516.21" y="795.90" width="19.82" height="17.63" fill="#ee9441"/>
<rect x="536.02" y="795.90" width="19.82" height="17.63" fill="#ee9d3e"/>
<rect x="555.84" y="795.90" width="19.82" height="17.63" fill="#eea03d"/>
<rect x="575.66" y="795.90" width="19.82" height="17.63" fill="#ee9d3e"/>
<rect x="595.47" y="795.90" width="19.82" height="17.63" fill="#ed8746"/>
<rect x="615.29" y="795.90" width="19.82" height="17.63" fill="#ee9a3e"/>
<rect x="635.11" y="795.90" width="19.82" height="17.63" fill="#ed8a45"/>
<rect x="654.92" y="795.90" width="19.82" height="17.63" fill="#ee9441"/>
<rect x="674.74" y="795.90" width="19.82" height="17.63" fill="#ed8746"/>
<rect x="694.56" y="795.90" width="19.82" height="17.63" fill="#ecc13a"/>
<rect x="714.38" y="795.90" width="19.82" height="17.63" fill="#edb43a"/>
<rect x="734.19" y="795.90" width="19.82" height="17.63" fill="#edba3a"/>
<rect x="754.01" y="795.90" width="19.82" height="17.63" fill="#edb73a"/>
<rect x="773.83" y="795.90" width="19.82" height="17.63" fill="#ec7d4b"/>
<rect x="793.64" y="795.90" width="19.82" height="17.63" fill="#ec7d4b"/>
<rect x="813.46" y="795.90" width="19.82" height="17.63" fill="#ee973f"/>
<rect x="833.28" y="795.90" width="19.82" height="17.63" fill="#ed8746"/>
<rect x="853.10" y="795.90" width="19.82" height="17.63" fill="#eea03d"/>
<rect x="872.91" y="795.90" width="19.82" height="17.63" fill="#ee9a3e"/>
<rect x="892.73" y="795.90" width="19.82" height="17.63" fill="#eea03d"/>
<rect x="912.55" y="795.90" width="19.82" height="17.63" fill="#eea03d"/>
<rect x="932.36" y="795.90" width="19.82" height="17.63" fill="#ee9a3e"/>
<rect x="952.18" y="795.90" width="19.82" height="17.63" fill="#e9e03d"/>
<rect x="972.00" y="795.90" width="19.82" height="17.63" fill="#e9e03d"/>
<rect x="991.81" y="795.90" width="19.82" height="17.63" fill="#eadc3c"/>
<rect x="1011.63" y="795.90" width="19.82" height="17.63" fill="#ee973f"/>
<rect x="1031.45" y="795.90" width="19.82" height="17.63" fill="#ee973f"/>
<rect x="1051.26" y="795.90" width="19.82" height="17.63" fill="#ed8746"/>
<rect x="1071.08" y="795.90" width="19.82" height="17.63" fill="#eea73c"/>
<rect x="1090.90" y="795.90" width="19.82" height="17.63" fill="#ee973f"/>
<rect x="1110.72" y="795.90" width="19.82" height="17.63" fill="#ee9d3e"/>
<rect x="1130.53" y="795.90" width="19.82" height="17.63" fill="#ecc13a"/>
<rect x="1150.35" y="795.90" width="19.82" height="17.63" fill="#ecc13a"/>
<rect x="1170.17" y="795.90" width="19.82" height="17.63" fill="#ecc13a"/>
<rect x="1189.98" y="795.90" width="19.82" height="17.63" fill="#e7635d"/>
<rect x="1209.80" y="795.90" width="19.82" height="17.63" fill="#ee9441"/>
<rect x="159.50" y="813.53" width="19.82" height="17.63" fill="#ead93c"/>
<rect x="179.32" y="813.53" width="19.82" height="17.63" fill="#e6f040"/>
<rect x="199.13" y="813.53" width="19.82" height="17.63" fill="#e7ec3f"/>
<rect x="218.95" y="813.53" width="19.82" height="17.63" fill="#eea43c"/>
<rect x="238.77" y="813.53" width="19.82" height="17.63" fill="#edb43a"/>
<rect x="258.59" y="813.53" width="19.82" height="17.63" fill="#ec8049"/>
<rect x="278.40" y="813.53" width="19.82" height="17.63" fill="#edb43a"/>
<rect x="298.22" y="813.53" width="19.82" height="17.63" fill="#edb13b"/>
<rect x="318.04" y="813.53" width="19.82" height="17.63" fill="#edb13b"/>
<rect x="337.85" y="813.53" width="19.82" height="17.63" fill="#ea7252"/>
<rect x="357.67" y="813.53" width="19.82" height="17.63" fill="#ec7d4b"/>
<rect x="377.49" y="813.53" width="19.82" height="17.63" fill="#e7635d"/>
<rect x="397.30" y="813.53" width="19.82" height="17.63" fill="#ec7d4b"/>
<rect x="417.12" y="813.53" width="19.82" height="17.63" fill="#e7635d"/>
<rect x="436.94" y="813.53" width="19.82" height="17.63" fill="#e7635d"/>
<rect x="456.75" y="813.53" width="19.82" height="17.63" fill="#e7635d"/>
<rect x="476.57" y="813.53" width="19.82" height="17.63" fill="#e96a57"/>
<rect x="496.39" y="813.53" width="19.82" height="17.63" fill="#ec8049"/>
<rect x="516.21" y="813.53" width="19.82" height="17.63" fill="#eb764f"/>
<rect x="536.02" y="813.53" width="19.82" height="17.63" fill="#ed9042"/>
<rect x="555.84" y="813.53" width="19.82" height="17.63" fill="#ed9042"/>
<rect x="575.66" y="813.53" width="19.82" height="17.63" fill="#ed8d44"/>
<rect x="595.47" y="813.53" width="19.82" height="17.63" fill="#ea7252"/>
<rect x="615.29" y="813.53" width="19.82" height="17.63" fill="#eb764f"/>
<rect x="635.11" y="813.53" width="19.82" height="17.63" fill="#e8665a"/>
<rect x="654.92" y="813.53" width="19.82" height="17.63" fill="#ed8746"/>
<rect x="674.74" y="813.53" width="19.82" height="17.63" fill="#ec7a4c"/>
<rect x="694.56" y="813.53" width="19.82" height="17.63" fill="#eea73c"/>
<rect x="714.38" y="813.53" width="19.82" height="17.63" fill="#edad3b"/>
<rect x="734.19" y="813.53" width="19.82" height="17.63" fill="#edb43a"/>
<rect x="754.01" y="813.53" width="19.82" height="17.63" fill="#edb13b"/>
<rect x="773.83" y="813.53" width="19.82" height="17.63" fill="#ea7252"/>
<rect x="793.64" y="813.53" width="19.82" height="17.63" fill="#ea7252"/>
<rect x="813.46" y="813.53" width="19.82" height="17.63" fill="#ee973f"/>
<rect x="833.28" y="813.53" width="19.82" height="17.63" fill="#ed8d44"/>
<rect x="853.10" y="813.53" width="19.82" height="17.63" fill="#eea43c"/>
<rect x="872.91" y="813.53" width="19.82" height="17.63" fill="#eea03d"/>
<rect x="892.73" y="813.53" width="19.82" height="17.63" fill="#ee973f"/>
<rect x="912.55" y="813.53" width="19.82" height="17.63" fill="#ee973f"/>
<rect x="932.36" y="813.53" width="19.82" height="17.63" fill="#ea7252"/>
<rect x="952.18" y="813.53" width="19.82" height="17.63" fill="#e9e03d"/>
<rect x="972.00" y="813.53" width="19.82" height="17.63" fill="#e9e03d"/>
<rect x="991.81" y="813.53" width="19.82" height="17.63" fill="#e9e03d"/>
<rect x="1011.63" y="813.53" width="19.82" height="17.63" fill="#ee9441"/>
<rect x="1031.45" y="813.53" width="19.82" height="17.63" fill="#ee9a3e"/>
<rect x="1051.26" y="813.53" width="19.82" height="17.63" fill="#ee9a3e"/>
<rect x="1071.08" y="813.53" width="19.82" height="17.63" fill="#eea73c"/>
<rect x="1090.90" y="813.53" width="19.82" height="17.63" fill="#eb764f"/>
<rect x="1110.72" y="813.53" width="19.82" height="17.63" fill="#ed8448"/>
<rect x="1130.53" y="813.53" width="19.82" height="17.63" fill="#edba3a"/>
<rect x="1150.35" y="813.53" width="19.82" height="17.63" fill="#edba3a"/>
<rect x="1170.17" y="813.53" width="19.82" height="17.63" fill="#edbd3a"/>
<rect x="1189.98" y="813.53" width="19.82" height="17.63" fill="#e7635d"/>
<rect x="1209.80" y="813.53" width="19.82" height="17.63" fill="#ee973f"/>
<rect x="159.50" y="831.16" width="19.82" height="17.63" fill="#eea43c"/>
<rect x="179.32" y="831.16" width="19.82" height="17.63" fill="#edb43a"/>
<rect x="199.13" y="831.16" width="19.82" height="17.63" fill="#edb43a"/>
<rect x="218.95" y="831.16" width="19.82" height="17.63" fill="#eea73c"/>
<rect x="238.77" y="831.16" width="19.82" height="17.63" fill="#edb43a"/>
<rect x="258.59" y="831.16" width="19.82" height="17.63" fill="#edad3b"/>
<rect x="278.40" y="831.16" width="19.82" height="17.63" fill="#edba3a"/>
<rect x="298.22" y="831.16" width="19.82" height="17.63" fill="#edb73a"/>
<rect x="318.04" y="831.16" width="19.82" height="17.63" fill="#edb43a"/>
<rect x="337.85" y="831.16" width="19.82" height="17.63" fill="#edad3b"/>
<rect x="357.67" y="831.16" width="19.82" height="17.63" fill="#edb43a"/>
<rect x="377.49" y="831.16" width="19.82" height="17.63" fill="#bf3ba6"/>
<rect x="397.30" y="831.16" width="19.82" height="17.63" fill="#edb43a"/>
<rect x="417.12" y="831.16" width="19.82" height="17.63" fill="#edb43a"/>
<rect x="436.94" y="831.16" width="19.82" height="17.63" fill="#edba3a"/>
<rect x="456.75" y="831.16" width="19.82" height="17.63" fill="#edad3b"/>
<rect x="476.57" y="831.16" width="19.82" height="17.63" fill="#eea03d"/>
<rect x="496.39" y="831.16" width="19.82" height="17.63" fill="#edb43a"/>
<rect x="516.21" y="831.16" width="19.82" height="17.63" fill="#ed8448"/>
<rect x="536.02" y="831.16" width="19.82" height="17.63" fill="#edb73a"/>
<rect x="555.84" y="831.16" width="19.82" height="17.63" fill="#ecc13a"/>
<rect x="575.66" y="831.16" width="19.82" height="17.63" fill="#edba3a"/>
<rect x="595.47" y="831.16" width="19.82" height="17.63" fill="#ec7a4c"/>
<rect x="615.29" y="831.16" width="19.82" height="17.63" fill="#9229ce"/>
<rect x="635.11" y="831.16" width="19.82" height="17.63" fill="#eea43c"/>
<rect x="654.92" y="831.16" width="19.82" height="17.63" fill="#edb43a"/>
<rect x="674.74" y="831.16" width="19.82" height="17.63" fill="#edad3b"/>
<rect x="694.56" y="831.16" width="19.82" height="17.63" fill="#edbd3a"/>
<rect x="714.38" y="831.16" width="19.82" height="17.63" fill="#edba3a"/>
<rect x="734.19" y="831.16" width="19.82" height="17.63" fill="#eccb3b"/>
<rect x="754.01" y="831.16" width="19.82" height="17.63" fill="#ecc13a"/>
<rect x="773.83" y="831.16" width="19.82" height="17.63" fill="#eea43c"/>
<rect x="793.64" y="831.16" width="19.82" height="17.63" fill="#eea43c"/>
<rect x="813.46" y="831.16" width="19.82" height="17.63" fill="#edad3b"/>
<rect x="833.28" y="831.16" width="19.82" height="17.63" fill="#ed8746"/>
<rect x="853.10" y="831.16" width="19.82" height="17.63" fill="#edb73a"/>
<rect x="872.91" y="831.16" width="19.82" height="17.63" fill="#edb13b"/>
<rect x="892.73" y="831.16" width="19.82" height="17.63" fill="#edad3b"/>
<rect x="912.55" y="831.16" width="19.82" height="17.63" fill="#edad3b"/>
<rect x="932.36" y="831.16" width="19.82" height="17.63" fill="#ed9042"/>
<rect x="952.18" y="831.16" width="19.82" height="17.63" fill="#edba3a"/>
<rect x="972.00" y="831.16" width="19.82" height="17.63" fill="#edb73a"/>
<rect x="991.81" y="831.16" width="19.82" height="17.63" fill="#edb73a"/>
<rect x="1011.63" y="831.16" width="19.82" height="17.63" fill="#ee973f"/>
<rect x="1031.45" y="831.16" width="19.82" height="17.63" fill="#ee973f"/>
<rect x="1051.26" y="831.16" width="19.82" height="17.63" fill="#e96a57"/>
<rect x="1071.08" y="831.16" width="19.82" height="17.63" fill="#eea43c"/>
<rect x="1090.90" y="831.16" width="19.82" height="17.63" fill="#edb73a"/>
<rect x="1110.72" y="831.16" width="19.82" height="17.63" fill="#ecc13a"/>
<rect x="1130.53" y="831.16" width="19.82" height="17.63" fill="#edbd3a"/>
<rect x="1150.35" y="831.16" width="19.82" height="17.63" fill="#edbd3a"/>
<rect x="1170.17" y="831.16" width="19.82" height="17.63" fill="#edba3a"/>
<rect x="1189.98" y="831.16" width="19.82" height="17.63" fill="#e45c64"/>
<rect x="1209.80" y="831.16" width="19.82" height="17.63" fill="#edad3b"/>
<rect x="159.50" y="848.79" width="19.82" height="17.63" fill="#eea03d"/>
<rect x="179.32" y="848.79" width="19.82" height="17.63" fill="#edb73a"/>
<rect x="199.13" y="848.79" width="19.82" height="17.63" fill="#edb73a"/>
<rect x="218.95" y="848.79" width="19.82" height="17.63" fill="#eea43c"/>
<rect x="238.77" y="848.79" width="19.82" height="17.63" fill="#edb43a"/>
<rect x="258.59" y="848.79" width="19.82" height="17.63" fill="#eea03d"/>
<rect x="278.40" y="848.79" width="19.82" height="17.63" fill="#edb43a"/>
<rect x="298.22" y="848.79" width="19.82" height="17.63" fill="#edb43a"/>
<rect x="318.04" y="848.79" width="19.82" height="17.63" fill="#edb43a"/>
<rect x="337.85" y="848.79" width="19.82" height="17.63" fill="#edad3b"/>
<rect x="357.67" y="848.79" width="19.82" height="17.63" fill="#edb43a"/>
<rect x="377.49" y="848.79" width="19.82" height="17.63" fill="#d5497c"/>
<rect x="397.30" y="848.79" width="19.82" height="17.63" fill="#edb43a"/>
<rect x="417.12" y="848.79" width="19.82" height="17.63" fill="#edb13b"/>
<rect x="436.94" y="848.79" width="19.82" height="17.63" fill="#edb43a"/>
<rect x="456.75" y="848.79" width="19.82" height="17.63" fill="#eea73c"/>
<rect x="476.57" y="848.79" width="19.82" height="17.63" fill="#eea03d"/>
<rect x="496.39" y="848.79" width="19.82" height="17.63" fill="#edb43a"/>
<rect x="516.21" y="848.79" width="19.82" height="17.63" fill="#ec7d4b"/>
<rect x="536.02" y="848.79" width="19.82" height="17.63" fill="#edad3b"/>
<rect x="555.84" y="848.79" width="19.82" height="17.63" fill="#edb43a"/>
<rect x="575.66" y="848.79" width="19.82" height="17.63" fill="#edb13b"/>
<rect x="595.47" y="848.79" width="19.82" height="17.63" fill="#eb764f"/>
<rect x="615.29" y="848.79" width="19.82" height="17.63" fill="#b236c4"/>
<rect x="635.11" y="848.79" width="19.82" height="17.63" fill="#eea73c"/>
<rect x="654.92" y="848.79" width="19.82" height="17.63" fill="#edb43a"/>
<rect x="674.74" y="848.79" width="19.82" height="17.63" fill="#edb13b"/>
<rect x="694.56" y="848.79" width="19.82" height="17.63" fill="#edba3a"/>
<rect x="714.38" y="848.79" width="19.82" height="17.63" fill="#edb43a"/>
<rect x="734.19" y="848.79" width="19.82" height="17.63" fill="#edba3a"/>
<rect x="754.01" y="848.79" width="19.82" height="17.63" fill="#edba3a"/>
<rect x="773.83" y="848.79" width="19.82" height="17.63" fill="#eea03d"/>
<rect x="793.64" y="848.79" width="19.82" height="17.63" fill="#eea03d"/>
<rect x="813.46" y="848.79" width="19.82" height="17.63" fill="#edb43a"/>
<rect x="833.28" y="848.79" width="19.82" height="17.63" fill="#eea73c"/>
<rect x="853.10" y="848.79" width="19.82" height="17.63" fill="#ecc43b"/>
<rect x="872.91" y="848.79" width="19.82" height="17.63" fill="#edbd3a"/>
<rect x="892.73" y="848.79" width="19.82" height="17.63" fill="#edb43a"/>
<rect x="912.55" y="848.79" width="19.82" height="17.63" fill="#edb43a"/>
<rect x="932.36" y="848.79" width="19.82" height="17.63" fill="#ed8a45"/>
<rect x="952.18" y="848.79" width="19.82" height="17.63" fill="#edbd3a"/>
<rect x="972.00" y="848.79" width="19.82" height="17.63" fill="#edba3a"/>
<rect x="991.81" y="848.79" width="19.82" height="17.63" fill="#edba3a"/>
<rect x="1011.63" y="848.79" width="19.82" height="17.63" fill="#eea73c"/>
<rect x="1031.45" y="848.79" width="19.82" height="17.63" fill="#eea73c"/>
<rect x="1051.26" y="848.79" width="19.82" height="17.63" fill="#ec7a4c"/>
<rect x="1071.08" y="848.79" width="19.82" height="17.63" fill="#edad3b"/>
<rect x="1090.90" y="848.79" width="19.82" height="17.63" fill="#edb43a"/>
<rect x="1110.72" y="848.79" width="19.82" height="17.63" fill="#edba3a"/>
<rect x="1130.53" y="848.79" width="19.82" height="17.63" fill="#edba3a"/>
<rect x="1150.35" y="848.79" width="19.82" height="17.63" fill="#edba3a"/>
<rect x="1170.17" y="848.79" width="19.82" height="17.63" fill="#edba3a"/>
<rect x="1189.98" y="848.79" width="19.82" height="17.63" fill="#e2566a"/>
<rect x="1209.80" y="848.79" width="19.82" height="17.63" fill="#eea43c"/>
</g>
<rect x="158.00" y="89.20" width="1073.52" height="778.32" fill="none" stroke="#4a4a4a" stroke-width="1.3"/>
<g stroke="#333" stroke-width="1.4">
<line x1="153.2" y1="99.52" x2="157.4" y2="99.52"/>
<line x1="153.2" y1="117.15" x2="157.4" y2="117.15"/>
<line x1="153.2" y1="134.78" x2="157.4" y2="134.78"/>
<line x1="153.2" y1="152.41" x2="157.4" y2="152.41"/>
<line x1="153.2" y1="170.03" x2="157.4" y2="170.03"/>
<line x1="153.2" y1="187.66" x2="157.4" y2="187.66"/>
<line x1="153.2" y1="205.30" x2="157.4" y2="205.30"/>
<line x1="153.2" y1="222.93" x2="157.4" y2="222.93"/>
<line x1="153.2" y1="240.56" x2="157.4" y2="240.56"/>
<line x1="153.2" y1="258.19" x2="157.4" y2="258.19"/>
<line x1="153.2" y1="275.81" x2="157.4" y2="275.81"/>
<line x1="153.2" y1="293.44" x2="157.4" y2="293.44"/>
<line x1="153.2" y1="311.07" x2="157.4" y2="311.07"/>
<line x1="153.2" y1="328.70" x2="157.4" y2="328.70"/>
<line x1="153.2" y1="346.33" x2="157.4" y2="346.33"/>
<line x1="153.2" y1="363.96" x2="157.4" y2="363.96"/>
<line x1="153.2" y1="381.59" x2="157.4" y2="381.59"/>
<line x1="153.2" y1="399.22" x2="157.4" y2="399.22"/>
<line x1="153.2" y1="416.85" x2="157.4" y2="416.85"/>
<line x1="153.2" y1="434.48" x2="157.4" y2="434.48"/>
<line x1="153.2" y1="452.11" x2="157.4" y2="452.11"/>
<line x1="153.2" y1="469.74" x2="157.4" y2="469.74"/>
<line x1="153.2" y1="487.37" x2="157.4" y2="487.37"/>
<line x1="153.2" y1="505.00" x2="157.4" y2="505.00"/>
<line x1="153.2" y1="522.63" x2="157.4" y2="522.63"/>
<line x1="153.2" y1="540.26" x2="157.4" y2="540.26"/>
<line x1="153.2" y1="557.89" x2="157.4" y2="557.89"/>
<line x1="153.2" y1="575.52" x2="157.4" y2="575.52"/>
<line x1="153.2" y1="593.15" x2="157.4" y2="593.15"/>
<line x1="153.2" y1="610.78" x2="157.4" y2="610.78"/>
<line x1="153.2" y1="628.41" x2="157.4" y2="628.41"/>
<line x1="153.2" y1="646.04" x2="157.4" y2="646.04"/>
<line x1="153.2" y1="663.68" x2="157.4" y2="663.68"/>
<line x1="153.2" y1="681.31" x2="157.4" y2="681.31"/>
<line x1="153.2" y1="698.94" x2="157.4" y2="698.94"/>
<line x1="153.2" y1="716.57" x2="157.4" y2="716.57"/>
<line x1="153.2" y1="734.20" x2="157.4" y2="734.20"/>
<line x1="153.2" y1="751.83" x2="157.4" y2="751.83"/>
<line x1="153.2" y1="769.46" x2="157.4" y2="769.46"/>
<line x1="153.2" y1="787.09" x2="157.4" y2="787.09"/>
<line x1="153.2" y1="804.72" x2="157.4" y2="804.72"/>
<line x1="153.2" y1="822.35" x2="157.4" y2="822.35"/>
<line x1="153.2" y1="839.98" x2="157.4" y2="839.98"/>
<line x1="153.2" y1="857.61" x2="157.4" y2="857.61"/>
</g>
<g font-size="19.8" text-anchor="end">
<text transform="translate(148.8,104.2) scale(1.04,1)">3202</text>
<text transform="translate(148.8,122.3) scale(1.04,1)">2971</text>
<text transform="translate(148.8,140.3) scale(1.04,1)">2786</text>
<text transform="translate(148.8,158.9) scale(1.04,1)">2784</text>
<text transform="translate(148.8,176.4) scale(1.04,1)">2782</text>
<text transform="translate(148.8,193.6) scale(1.04,1)">2779</text>
<text transform="translate(148.8,211.0) scale(1.04,1)">2778</text>
<text transform="translate(148.8,228.2) scale(1.04,1)">2777</text>
<text transform="translate(148.8,246.5) scale(1.04,1)">2776</text>
<text transform="translate(148.8,263.7) scale(1.04,1)">2754</text>
<text transform="translate(148.8,280.4) scale(1.04,1)">2743</text>
<text transform="translate(148.8,296.2) scale(1.04,1)">2742</text>
<text transform="translate(148.8,313.7) scale(1.04,1)">2731</text>
<text transform="translate(148.8,329.4) scale(1.04,1)">2728</text>
<text transform="translate(148.8,344.7) scale(1.04,1)">2725</text>
<text transform="translate(148.8,360.0) scale(1.04,1)">2710</text>
<text transform="translate(148.8,375.6) scale(1.04,1)">2708</text>
<text transform="translate(148.8,390.6) scale(1.04,1)">2707</text>
<text transform="translate(148.8,406.1) scale(1.04,1)">2702</text>
<text transform="translate(148.8,421.9) scale(1.04,1)">2701</text>
<text transform="translate(148.8,440.5) scale(1.04,1)">2694</text>
<text transform="translate(148.8,459.3) scale(1.04,1)">2691</text>
<text transform="translate(148.8,478.2) scale(1.04,1)">2688</text>
<text transform="translate(148.8,496.0) scale(1.04,1)">2684</text>
<text transform="translate(148.8,514.8) scale(1.04,1)">2683</text>
<text transform="translate(148.8,533.7) scale(1.04,1)">2682</text>
<text transform="translate(148.8,553.1) scale(1.04,1)">2681</text>
<text transform="translate(148.8,572.4) scale(1.04,1)">2680</text>
<text transform="translate(148.8,591.7) scale(1.04,1)">2678</text>
<text transform="translate(148.8,609.2) scale(1.04,1)">2677</text>
<text transform="translate(148.8,625.3) scale(1.04,1)">2676</text>
<text transform="translate(148.8,642.5) scale(1.04,1)">2675</text>
<text transform="translate(148.8,659.1) scale(1.04,1)">2674</text>
<text transform="translate(148.8,677.2) scale(1.04,1)">2673</text>
<text transform="translate(148.8,694.4) scale(1.04,1)">2672</text>
<text transform="translate(148.8,713.8) scale(1.04,1)">2671</text>
<text transform="translate(148.8,731.1) scale(1.04,1)">2670</text>
<text transform="translate(148.8,748.8) scale(1.04,1)">2669</text>
<text transform="translate(148.8,767.2) scale(1.04,1)">2668</text>
<text transform="translate(148.8,786.6) scale(1.04,1)">2513</text>
<text transform="translate(148.8,805.3) scale(1.04,1)">2510</text>
<text transform="translate(148.8,823.7) scale(1.04,1)">2508</text>
<text transform="translate(148.8,842.8) scale(1.04,1)">2505</text>
<text transform="translate(148.8,861.9) scale(1.04,1)">2457</text>
</g>
<g stroke="#333" stroke-width="1.4">
<line x1="169.41" y1="867.3" x2="169.41" y2="873.4"/>
<line x1="189.23" y1="867.3" x2="189.23" y2="873.4"/>
<line x1="209.04" y1="867.3" x2="209.04" y2="873.4"/>
<line x1="228.86" y1="867.3" x2="228.86" y2="873.4"/>
<line x1="248.68" y1="867.3" x2="248.68" y2="873.4"/>
<line x1="268.49" y1="867.3" x2="268.49" y2="873.4"/>
<line x1="288.31" y1="867.3" x2="288.31" y2="873.4"/>
<line x1="308.13" y1="867.3" x2="308.13" y2="873.4"/>
<line x1="327.94" y1="867.3" x2="327.94" y2="873.4"/>
<line x1="347.76" y1="867.3" x2="347.76" y2="873.4"/>
<line x1="367.58" y1="867.3" x2="367.58" y2="873.4"/>
<line x1="387.40" y1="867.3" x2="387.40" y2="873.4"/>
<line x1="407.21" y1="867.3" x2="407.21" y2="873.4"/>
<line x1="427.03" y1="867.3" x2="427.03" y2="873.4"/>
<line x1="446.85" y1="867.3" x2="446.85" y2="873.4"/>
<line x1="466.66" y1="867.3" x2="466.66" y2="873.4"/>
<line x1="486.48" y1="867.3" x2="486.48" y2="873.4"/>
<line x1="506.30" y1="867.3" x2="506.30" y2="873.4"/>
<line x1="526.11" y1="867.3" x2="526.11" y2="873.4"/>
<line x1="545.93" y1="867.3" x2="545.93" y2="873.4"/>
<line x1="565.75" y1="867.3" x2="565.75" y2="873.4"/>
<line x1="585.57" y1="867.3" x2="585.57" y2="873.4"/>
<line x1="605.38" y1="867.3" x2="605.38" y2="873.4"/>
<line x1="625.20" y1="867.3" x2="625.20" y2="873.4"/>
<line x1="645.02" y1="867.3" x2="645.02" y2="873.4"/>
<line x1="664.83" y1="867.3" x2="664.83" y2="873.4"/>
<line x1="684.65" y1="867.3" x2="684.65" y2="873.4"/>
<line x1="704.47" y1="867.3" x2="704.47" y2="873.4"/>
<line x1="724.28" y1="867.3" x2="724.28" y2="873.4"/>
<line x1="744.10" y1="867.3" x2="744.10" y2="873.4"/>
<line x1="763.92" y1="867.3" x2="763.92" y2="873.4"/>
<line x1="783.74" y1="867.3" x2="783.74" y2="873.4"/>
<line x1="803.55" y1="867.3" x2="803.55" y2="873.4"/>
<line x1="823.37" y1="867.3" x2="823.37" y2="873.4"/>
<line x1="843.19" y1="867.3" x2="843.19" y2="873.4"/>
<line x1="863.00" y1="867.3" x2="863.00" y2="873.4"/>
<line x1="882.82" y1="867.3" x2="882.82" y2="873.4"/>
<line x1="902.64" y1="867.3" x2="902.64" y2="873.4"/>
<line x1="922.45" y1="867.3" x2="922.45" y2="873.4"/>
<line x1="942.27" y1="867.3" x2="942.27" y2="873.4"/>
<line x1="962.09" y1="867.3" x2="962.09" y2="873.4"/>
<line x1="981.91" y1="867.3" x2="981.91" y2="873.4"/>
<line x1="1001.72" y1="867.3" x2="1001.72" y2="873.4"/>
<line x1="1021.54" y1="867.3" x2="1021.54" y2="873.4"/>
<line x1="1041.36" y1="867.3" x2="1041.36" y2="873.4"/>
<line x1="1061.17" y1="867.3" x2="1061.17" y2="873.4"/>
<line x1="1080.99" y1="867.3" x2="1080.99" y2="873.4"/>
<line x1="1100.81" y1="867.3" x2="1100.81" y2="873.4"/>
<line x1="1120.62" y1="867.3" x2="1120.62" y2="873.4"/>
<line x1="1140.44" y1="867.3" x2="1140.44" y2="873.4"/>
<line x1="1160.26" y1="867.3" x2="1160.26" y2="873.4"/>
<line x1="1180.08" y1="867.3" x2="1180.08" y2="873.4"/>
<line x1="1199.89" y1="867.3" x2="1199.89" y2="873.4"/>
<line x1="1219.71" y1="867.3" x2="1219.71" y2="873.4"/>
</g>
<g font-size="19.8" text-anchor="end">
<text transform="translate(177.1,879.6) rotate(-90) scale(1.04,1)">1L</text>
<text transform="translate(200.0,879.6) rotate(-90) scale(1.04,1)">1R</text>
<text transform="translate(219.4,879.6) rotate(-90) scale(1.04,1)">2L</text>
<text transform="translate(242.7,879.6) rotate(-90) scale(1.04,1)">2R</text>
<text transform="translate(261.7,879.6) rotate(-90) scale(1.04,1)">3L</text>
<text transform="translate(281.8,879.6) rotate(-90) scale(1.04,1)">3R</text>
<text transform="translate(301.2,879.6) rotate(-90) scale(1.04,1)">4L</text>
<text transform="translate(320.8,879.6) rotate(-90) scale(1.04,1)">4R</text>
<text transform="translate(340.2,879.6) rotate(-90) scale(1.04,1)">5L</text>
<text transform="translate(360.2,879.6) rotate(-90) scale(1.04,1)">5R</text>
<text transform="translate(378.5,879.6) rotate(-90) scale(1.04,1)">6L</text>
<text transform="translate(398.4,879.6) rotate(-90) scale(1.04,1)">6R</text>
<text transform="translate(417.1,879.6) rotate(-90) scale(1.04,1)">7L</text>
<text transform="translate(437.4,879.6) rotate(-90) scale(1.04,1)">7R</text>
<text transform="translate(456.4,879.6) rotate(-90) scale(1.04,1)">8L</text>
<text transform="translate(475.8,879.6) rotate(-90) scale(1.04,1)">8R</text>
<text transform="translate(495.2,879.6) rotate(-90) scale(1.04,1)">9L</text>
<text transform="translate(514.9,879.6) rotate(-90) scale(1.04,1)">9R</text>
<text transform="translate(535.5,879.6) rotate(-90) scale(1.04,1)">10L</text>
<text transform="translate(557.7,879.6) rotate(-90) scale(1.04,1)">10R</text>
<text transform="translate(576.4,879.6) rotate(-90) scale(1.04,1)">11L</text>
<text transform="translate(595.8,879.6) rotate(-90) scale(1.04,1)">11R</text>
<text transform="translate(615.9,879.6) rotate(-90) scale(1.04,1)">12L</text>
<text transform="translate(635.4,879.6) rotate(-90) scale(1.04,1)">12R</text>
<text transform="translate(654.8,879.6) rotate(-90) scale(1.04,1)">13L</text>
<text transform="translate(674.5,879.6) rotate(-90) scale(1.04,1)">13R</text>
<text transform="translate(693.6,879.6) rotate(-90) scale(1.04,1)">14L</text>
<text transform="translate(713.5,879.6) rotate(-90) scale(1.04,1)">14R</text>
<text transform="translate(733.3,879.6) rotate(-90) scale(1.04,1)">15L</text>
<text transform="translate(752.7,879.6) rotate(-90) scale(1.04,1)">15R</text>
<text transform="translate(772.2,879.6) rotate(-90) scale(1.04,1)">16L</text>
<text transform="translate(792.3,879.6) rotate(-90) scale(1.04,1)">16R</text>
<text transform="translate(811.7,879.6) rotate(-90) scale(1.04,1)">17L</text>
<text transform="translate(831.1,879.6) rotate(-90) scale(1.04,1)">17R</text>
<text transform="translate(849.9,879.6) rotate(-90) scale(1.04,1)">18L</text>
<text transform="translate(870.0,879.6) rotate(-90) scale(1.04,1)">18R</text>
<text transform="translate(889.0,879.6) rotate(-90) scale(1.04,1)">19L</text>
<text transform="translate(908.8,879.6) rotate(-90) scale(1.04,1)">19R</text>
<text transform="translate(928.7,879.6) rotate(-90) scale(1.04,1)">20L</text>
<text transform="translate(948.4,879.6) rotate(-90) scale(1.04,1)">20R</text>
<text transform="translate(967.0,879.6) rotate(-90) scale(1.04,1)">21L</text>
<text transform="translate(987.0,879.6) rotate(-90) scale(1.04,1)">21R</text>
<text transform="translate(1006.9,879.6) rotate(-90) scale(1.04,1)">22L</text>
<text transform="translate(1029.1,879.6) rotate(-90) scale(1.04,1)">22R</text>
<text transform="translate(1048.8,879.6) rotate(-90) scale(1.04,1)">23L</text>
<text transform="translate(1068.2,879.6) rotate(-90) scale(1.04,1)">23R</text>
<text transform="translate(1087.4,879.6) rotate(-90) scale(1.04,1)">24L</text>
<text transform="translate(1106.8,879.6) rotate(-90) scale(1.04,1)">24R</text>
<text transform="translate(1126.2,879.6) rotate(-90) scale(1.04,1)">25L</text>
<text transform="translate(1145.6,879.6) rotate(-90) scale(1.04,1)">25R</text>
<text transform="translate(1165.5,879.6) rotate(-90) scale(1.04,1)">26L</text>
<text transform="translate(1184.5,879.6) rotate(-90) scale(1.04,1)">26R</text>
<text transform="translate(1204.6,879.6) rotate(-90) scale(1.04,1)">27L</text>
<text transform="translate(1227.1,879.6) rotate(-90) scale(1.04,1)">27R</text>
</g>
<text font-size="41" text-anchor="middle" x="700.6" y="961.5">Primer</text>
<text font-size="41.6" text-anchor="middle" transform="translate(73.8,483.9) rotate(-90)">Sample</text>
<text font-size="57" font-weight="bold" transform="translate(1.5,43.6) scale(0.9,1)" fill="#1a1a1a">a</text>
<text font-size="55.5" font-weight="bold" transform="translate(1404.6,43.6) scale(1.06,1)" fill="#1a1a1a">b</text>
<defs><linearGradient id="lg" x1="0" y1="1" x2="0" y2="0">
<stop offset="0.0000" stop-color="#3a2e9a"/>
<stop offset="0.0250" stop-color="#3f2c9f"/>
<stop offset="0.0500" stop-color="#442aa6"/>
<stop offset="0.0750" stop-color="#4927ac"/>
<stop offset="0.1000" stop-color="#4e25b2"/>
<stop offset="0.1250" stop-color="#5623b9"/>
<stop offset="0.1500" stop-color="#5d21c0"/>
<stop offset="0.1750" stop-color="#641fc7"/>
<stop offset="0.2000" stop-color="#6c1fcc"/>
<stop offset="0.2250" stop-color="#7621cd"/>
<stop offset="0.2500" stop-color="#7f24ce"/>
<stop offset="0.2750" stop-color="#8926cf"/>
<stop offset="0.3000" stop-color="#922ace"/>
<stop offset="0.3250" stop-color="#9b2dcb"/>
<stop offset="0.3500" stop-color="#a531c8"/>
<stop offset="0.3750" stop-color="#ae35c5"/>
<stop offset="0.4000" stop-color="#b638ba"/>
<stop offset="0.4250" stop-color="#bd3aab"/>
<stop offset="0.4500" stop-color="#c43d9b"/>
<stop offset="0.4750" stop-color="#cb3f8b"/>
<stop offset="0.5000" stop-color="#d14582"/>
<stop offset="0.5250" stop-color="#d64a7a"/>
<stop offset="0.5500" stop-color="#dc5072"/>
<stop offset="0.5750" stop-color="#e2566a"/>
<stop offset="0.6000" stop-color="#e55e62"/>
<stop offset="0.6250" stop-color="#e86759"/>
<stop offset="0.6500" stop-color="#ea7152"/>
<stop offset="0.6750" stop-color="#ec7b4b"/>
<stop offset="0.7000" stop-color="#ed8448"/>
<stop offset="0.7250" stop-color="#ed8c44"/>
<stop offset="0.7500" stop-color="#ee9540"/>
<stop offset="0.7750" stop-color="#ee9d3e"/>
<stop offset="0.8000" stop-color="#eea63c"/>
<stop offset="0.8250" stop-color="#edae3b"/>
<stop offset="0.8500" stop-color="#edb63a"/>
<stop offset="0.8750" stop-color="#edbf3a"/>
<stop offset="0.9000" stop-color="#ecc83b"/>
<stop offset="0.9250" stop-color="#ebd13b"/>
<stop offset="0.9500" stop-color="#eada3c"/>
<stop offset="0.9750" stop-color="#e8e43e"/>
<stop offset="1.0000" stop-color="#e6ee40"/>
</linearGradient></defs>
<rect x="1244.9" y="124.8" width="27.7" height="151.0" fill="url(#lg)"/>
<g stroke="#2a2020" stroke-width="1.3">
<line x1="1267.4" y1="131.3" x2="1272.6" y2="131.3"/>
<line x1="1267.4" y1="159.9" x2="1272.6" y2="159.9"/>
<line x1="1267.4" y1="188.9" x2="1272.6" y2="188.9"/>
<line x1="1267.4" y1="217.6" x2="1272.6" y2="217.6"/>
<line x1="1267.4" y1="246.8" x2="1272.6" y2="246.8"/>
<line x1="1267.4" y1="272.3" x2="1272.6" y2="272.3"/>
</g>
<text font-size="30.6" x="1243.8" y="110.5" textLength="75.5" lengthAdjust="spacingAndGlyphs">log10</text>
<g font-size="32.4">
<text x="1281.3" y="143.5">5</text>
<text x="1281.3" y="169.6">4</text>
<text x="1281.3" y="197.3">3</text>
<text x="1281.3" y="223.7">2</text>
<text x="1281.3" y="250.5">1</text>
<text x="1281.3" y="276.4">0</text>
</g>
<path d="M1571.2 92 V865.3 H2162" fill="none" stroke="#262626" stroke-width="1.8"/>
<g stroke="#262626" stroke-width="1.7">
<line x1="1564.3" y1="182.5" x2="1571.2" y2="182.5"/>
<line x1="1564.3" y1="352.0" x2="1571.2" y2="352.0"/>
<line x1="1564.3" y1="521.4" x2="1571.2" y2="521.4"/>
<line x1="1564.3" y1="690.8" x2="1571.2" y2="690.8"/>
<line x1="1564.3" y1="860.3" x2="1571.2" y2="860.3"/>
<line x1="1593.2" y1="865.3" x2="1593.2" y2="872.6"/>
<line x1="1721.5" y1="865.3" x2="1721.5" y2="872.6"/>
<line x1="1849.8" y1="865.3" x2="1849.8" y2="872.6"/>
<line x1="1978.1" y1="865.3" x2="1978.1" y2="872.6"/>
<line x1="2106.4" y1="865.3" x2="2106.4" y2="872.6"/>
</g>
<g font-size="33.8" text-anchor="end">
<text transform="translate(1560.3,195.0) scale(0.92,1)">0.035</text>
<text transform="translate(1560.3,363.9) scale(0.92,1)">0.030</text>
<text transform="translate(1560.3,532.8) scale(0.92,1)">0.025</text>
<text transform="translate(1560.3,701.6) scale(0.92,1)">0.020</text>
<text transform="translate(1560.3,870.5) scale(0.92,1)">0.015</text>
</g>
<g font-size="33.8" text-anchor="middle">
<text transform="translate(1592.0,903.0) scale(0.925,1)">1980</text>
<text transform="translate(1720.3,903.0) scale(0.925,1)">1990</text>
<text transform="translate(1848.6,903.0) scale(0.925,1)">2000</text>
<text transform="translate(1976.9,903.0) scale(0.925,1)">2010</text>
<text transform="translate(2105.2,903.0) scale(0.925,1)">2020</text>
</g>
<text font-size="41.5" text-anchor="middle" x="1880.3" y="961.2">Time in years</text>
<text font-size="42.5" text-anchor="middle" transform="translate(1458.8,479) rotate(-90)">Root−to−tip divergence</text>
<g fill="#e2e2e2" fill-opacity="0.6" stroke="#101010" stroke-opacity="0.88" stroke-width="1">
<circle cx="2126.7" cy="179.1" r="5.4"/>
<circle cx="2107.5" cy="221.3" r="5.4"/>
<circle cx="2085.9" cy="314.6" r="5.4"/>
<circle cx="2084.9" cy="311.3" r="5.4"/>
<circle cx="2070.5" cy="312.2" r="5.4"/>
<circle cx="2106.0" cy="259.3" r="5.4"/>
<circle cx="2084.8" cy="317.1" r="5.4"/>
<circle cx="2065.9" cy="263.4" r="5.4"/>
<circle cx="2119.1" cy="222.1" r="5.4"/>
<circle cx="2081.2" cy="272.0" r="5.4"/>
<circle cx="2123.1" cy="170.3" r="5.4"/>
<circle cx="2094.3" cy="265.0" r="5.4"/>
<circle cx="2097.0" cy="242.4" r="5.4"/>
<circle cx="2121.0" cy="192.0" r="5.4"/>
<circle cx="2097.0" cy="197.0" r="5.4"/>
<circle cx="2083.1" cy="282.8" r="5.4"/>
<circle cx="2122.5" cy="181.5" r="5.4"/>
<circle cx="2090.5" cy="236.4" r="5.4"/>
<circle cx="2096.9" cy="207.8" r="5.4"/>
<circle cx="2099.1" cy="234.1" r="5.4"/>
<circle cx="2070.2" cy="292.2" r="5.4"/>
<circle cx="2095.6" cy="260.3" r="5.4"/>
<circle cx="2116.0" cy="227.2" r="5.4"/>
<circle cx="2120.1" cy="234.2" r="5.4"/>
<circle cx="2071.4" cy="221.8" r="5.4"/>
<circle cx="2128.2" cy="228.8" r="5.4"/>
<circle cx="2095.4" cy="258.3" r="5.4"/>
<circle cx="2066.8" cy="255.7" r="5.4"/>
<circle cx="2084.2" cy="301.5" r="5.4"/>
<circle cx="2119.1" cy="180.1" r="5.4"/>
<circle cx="2095.6" cy="255.3" r="5.4"/>
<circle cx="2085.6" cy="228.9" r="5.4"/>
<circle cx="2093.7" cy="268.5" r="5.4"/>
<circle cx="2085.6" cy="278.8" r="5.4"/>
<circle cx="2090.5" cy="291.4" r="5.4"/>
<circle cx="2069.6" cy="275.3" r="5.4"/>
<circle cx="2107.8" cy="252.8" r="5.4"/>
<circle cx="2084.7" cy="314.2" r="5.4"/>
<circle cx="2076.2" cy="303.8" r="5.4"/>
<circle cx="2094.2" cy="265.0" r="5.4"/>
<circle cx="2101.0" cy="196.5" r="5.4"/>
<circle cx="2070.8" cy="283.6" r="5.4"/>
<circle cx="2083.7" cy="234.4" r="5.4"/>
<circle cx="2085.3" cy="310.6" r="5.4"/>
<circle cx="2076.5" cy="253.8" r="5.4"/>
<circle cx="2070.9" cy="220.4" r="5.4"/>
<circle cx="2094.9" cy="261.7" r="5.4"/>
<circle cx="2069.9" cy="266.8" r="5.4"/>
<circle cx="2053.0" cy="336.8" r="5.4"/>
<circle cx="2071.9" cy="216.8" r="5.4"/>
<circle cx="2084.0" cy="233.7" r="5.4"/>
<circle cx="2096.8" cy="217.1" r="5.4"/>
<circle cx="2110.5" cy="194.6" r="5.4"/>
<circle cx="2072.0" cy="238.1" r="5.4"/>
<circle cx="2085.5" cy="199.7" r="5.4"/>
<circle cx="2103.1" cy="220.7" r="5.4"/>
<circle cx="2121.9" cy="227.9" r="5.4"/>
<circle cx="2071.2" cy="302.1" r="5.4"/>
<circle cx="2070.6" cy="270.7" r="5.4"/>
<circle cx="2085.2" cy="259.1" r="5.4"/>
<circle cx="2077.4" cy="243.5" r="5.4"/>
<circle cx="2090.8" cy="273.4" r="5.4"/>
<circle cx="2116.8" cy="177.8" r="5.4"/>
<circle cx="2109.2" cy="200.9" r="5.4"/>
<circle cx="2111.9" cy="189.0" r="5.4"/>
<circle cx="2068.9" cy="270.9" r="5.4"/>
<circle cx="2071.5" cy="309.4" r="5.4"/>
<circle cx="2091.5" cy="255.3" r="5.4"/>
<circle cx="2110.4" cy="220.5" r="5.4"/>
<circle cx="2093.5" cy="218.4" r="5.4"/>
<circle cx="2124.0" cy="211.0" r="5.4"/>
<circle cx="2095.8" cy="261.6" r="5.4"/>
<circle cx="2123.4" cy="187.9" r="5.4"/>
<circle cx="2121.5" cy="161.5" r="5.4"/>
<circle cx="2071.0" cy="326.8" r="5.4"/>
<circle cx="2067.9" cy="230.4" r="5.4"/>
<circle cx="2076.4" cy="305.5" r="5.4"/>
<circle cx="2082.9" cy="258.6" r="5.4"/>
<circle cx="2069.1" cy="225.2" r="5.4"/>
<circle cx="2082.8" cy="297.2" r="5.4"/>
<circle cx="2085.5" cy="294.8" r="5.4"/>
<circle cx="2082.2" cy="308.8" r="5.4"/>
<circle cx="2091.6" cy="279.7" r="5.4"/>
<circle cx="2069.9" cy="220.4" r="5.4"/>
<circle cx="2111.2" cy="193.0" r="5.4"/>
<circle cx="2081.1" cy="287.1" r="5.4"/>
<circle cx="2083.2" cy="249.1" r="5.4"/>
<circle cx="2072.4" cy="221.5" r="5.4"/>
<circle cx="2084.6" cy="314.0" r="5.4"/>
<circle cx="2089.0" cy="299.3" r="5.4"/>
<circle cx="2071.6" cy="282.5" r="5.4"/>
<circle cx="2071.0" cy="230.3" r="5.4"/>
<circle cx="2070.8" cy="317.4" r="5.4"/>
<circle cx="2085.7" cy="278.5" r="5.4"/>
<circle cx="2070.7" cy="288.5" r="5.4"/>
<circle cx="2067.5" cy="272.3" r="5.4"/>
<circle cx="2076.6" cy="278.8" r="5.4"/>
<circle cx="2091.2" cy="273.1" r="5.4"/>
<circle cx="2086.0" cy="224.7" r="5.4"/>
<circle cx="2085.0" cy="291.2" r="5.4"/>
<circle cx="2071.4" cy="296.1" r="5.4"/>
<circle cx="2085.1" cy="247.9" r="5.4"/>
<circle cx="2073.6" cy="274.7" r="5.4"/>
<circle cx="2083.9" cy="292.8" r="5.4"/>
<circle cx="2067.4" cy="256.8" r="5.4"/>
<circle cx="2069.6" cy="304.1" r="5.4"/>
<circle cx="2081.5" cy="317.6" r="5.4"/>
<circle cx="2087.0" cy="198.9" r="5.4"/>
<circle cx="2085.7" cy="235.4" r="5.4"/>
<circle cx="2081.3" cy="300.7" r="5.4"/>
<circle cx="2106.1" cy="207.8" r="5.4"/>
<circle cx="2097.0" cy="207.1" r="5.4"/>
<circle cx="2078.1" cy="316.7" r="5.4"/>
<circle cx="2119.8" cy="233.9" r="5.4"/>
<circle cx="2070.9" cy="266.8" r="5.4"/>
<circle cx="2097.0" cy="275.7" r="5.4"/>
<circle cx="2122.5" cy="191.4" r="5.4"/>
<circle cx="2091.4" cy="270.6" r="5.4"/>
<circle cx="2083.3" cy="249.4" r="5.4"/>
<circle cx="2083.3" cy="316.3" r="5.4"/>
<circle cx="2093.0" cy="284.0" r="5.4"/>
<circle cx="2071.5" cy="298.3" r="5.4"/>
<circle cx="2083.7" cy="289.9" r="5.4"/>
<circle cx="2085.0" cy="305.5" r="5.4"/>
<circle cx="2095.8" cy="244.2" r="5.4"/>
<circle cx="2085.9" cy="313.0" r="5.4"/>
<circle cx="2084.3" cy="214.5" r="5.4"/>
<circle cx="2125.9" cy="229.6" r="5.4"/>
<circle cx="2086.0" cy="261.3" r="5.4"/>
<circle cx="2089.5" cy="261.7" r="5.4"/>
<circle cx="2093.1" cy="286.4" r="5.4"/>
<circle cx="2098.1" cy="238.8" r="5.4"/>
<circle cx="2107.4" cy="229.3" r="5.4"/>
<circle cx="2071.9" cy="278.3" r="5.4"/>
<circle cx="2130.5" cy="218.7" r="5.4"/>
<circle cx="2087.7" cy="275.0" r="5.4"/>
<circle cx="2084.8" cy="286.8" r="5.4"/>
<circle cx="2105.9" cy="252.9" r="5.4"/>
<circle cx="2097.8" cy="239.0" r="5.4"/>
<circle cx="2071.6" cy="289.1" r="5.4"/>
<circle cx="2095.1" cy="250.2" r="5.4"/>
<circle cx="2083.1" cy="207.6" r="5.4"/>
<circle cx="2069.0" cy="299.8" r="5.4"/>
<circle cx="2085.4" cy="314.1" r="5.4"/>
<circle cx="2098.4" cy="258.5" r="5.4"/>
<circle cx="2097.0" cy="254.4" r="5.4"/>
<circle cx="2119.6" cy="193.6" r="5.4"/>
<circle cx="2081.4" cy="278.8" r="5.4"/>
<circle cx="2123.5" cy="178.8" r="5.4"/>
<circle cx="2072.9" cy="308.5" r="5.4"/>
<circle cx="2065.9" cy="329.6" r="5.4"/>
<circle cx="2132.2" cy="203.8" r="5.4"/>
<circle cx="2083.8" cy="262.1" r="5.4"/>
<circle cx="2097.6" cy="238.9" r="5.4"/>
<circle cx="2085.1" cy="222.0" r="5.4"/>
<circle cx="2084.8" cy="282.2" r="5.4"/>
<circle cx="2083.9" cy="315.1" r="5.4"/>
<circle cx="2084.1" cy="304.9" r="5.4"/>
<circle cx="2068.7" cy="300.2" r="5.4"/>
<circle cx="2067.1" cy="302.8" r="5.4"/>
<circle cx="2092.0" cy="291.6" r="5.4"/>
<circle cx="2069.0" cy="226.8" r="5.4"/>
<circle cx="2072.7" cy="272.2" r="5.4"/>
<circle cx="2070.3" cy="262.9" r="5.4"/>
<circle cx="2110.8" cy="183.3" r="5.4"/>
<circle cx="2069.7" cy="247.9" r="5.4"/>
<circle cx="2081.9" cy="320.6" r="5.4"/>
<circle cx="2122.2" cy="193.7" r="5.4"/>
<circle cx="2084.9" cy="217.0" r="5.4"/>
<circle cx="2070.1" cy="268.8" r="5.4"/>
<circle cx="2085.4" cy="310.2" r="5.4"/>
<circle cx="2099.7" cy="243.6" r="5.4"/>
<circle cx="2077.3" cy="264.5" r="5.4"/>
<circle cx="2119.5" cy="216.7" r="5.4"/>
<circle cx="2096.5" cy="249.7" r="5.4"/>
<circle cx="2079.7" cy="299.7" r="5.4"/>
<circle cx="2080.7" cy="302.6" r="5.4"/>
<circle cx="2085.9" cy="266.8" r="5.4"/>
<circle cx="2071.5" cy="283.0" r="5.4"/>
<circle cx="2131.6" cy="201.9" r="5.4"/>
<circle cx="2092.2" cy="243.2" r="5.4"/>
<circle cx="2072.3" cy="263.9" r="5.4"/>
<circle cx="2119.8" cy="200.5" r="5.4"/>
<circle cx="2081.2" cy="299.7" r="5.4"/>
<circle cx="2095.6" cy="245.8" r="5.4"/>
<circle cx="2118.9" cy="209.3" r="5.4"/>
<circle cx="2085.6" cy="192.6" r="5.4"/>
<circle cx="2091.6" cy="247.6" r="5.4"/>
<circle cx="2121.2" cy="213.4" r="5.4"/>
<circle cx="2083.2" cy="268.2" r="5.4"/>
<circle cx="2082.6" cy="279.4" r="5.4"/>
<circle cx="2084.8" cy="287.5" r="5.4"/>
<circle cx="2117.5" cy="173.4" r="5.4"/>
<circle cx="2108.7" cy="206.4" r="5.4"/>
<circle cx="2077.3" cy="292.5" r="5.4"/>
<circle cx="2077.7" cy="317.4" r="5.4"/>
<circle cx="2097.2" cy="266.9" r="5.4"/>
<circle cx="2086.2" cy="259.1" r="5.4"/>
<circle cx="2085.7" cy="311.2" r="5.4"/>
<circle cx="2099.0" cy="247.4" r="5.4"/>
<circle cx="2110.0" cy="171.6" r="5.4"/>
<circle cx="2070.7" cy="314.8" r="5.4"/>
<circle cx="2072.0" cy="272.2" r="5.4"/>
<circle cx="2107.3" cy="256.4" r="5.4"/>
<circle cx="2126.2" cy="175.4" r="5.4"/>
<circle cx="2084.8" cy="257.7" r="5.4"/>
<circle cx="2069.7" cy="241.2" r="5.4"/>
<circle cx="2073.0" cy="308.4" r="5.4"/>
<circle cx="2100.0" cy="196.0" r="5.4"/>
<circle cx="2098.1" cy="249.6" r="5.4"/>
<circle cx="2091.8" cy="273.8" r="5.4"/>
<circle cx="2121.3" cy="176.1" r="5.4"/>
<circle cx="2068.8" cy="304.7" r="5.4"/>
<circle cx="2087.0" cy="226.2" r="5.4"/>
<circle cx="2071.5" cy="263.9" r="5.4"/>
<circle cx="2066.9" cy="258.2" r="5.4"/>
<circle cx="2091.5" cy="274.7" r="5.4"/>
<circle cx="2071.7" cy="295.8" r="5.4"/>
<circle cx="2123.6" cy="182.3" r="5.4"/>
<circle cx="2094.4" cy="240.6" r="5.4"/>
<circle cx="2092.1" cy="286.6" r="5.4"/>
<circle cx="2095.6" cy="278.6" r="5.4"/>
<circle cx="2095.4" cy="212.5" r="5.4"/>
<circle cx="2053.0" cy="328.9" r="5.4"/>
<circle cx="2086.4" cy="266.5" r="5.4"/>
<circle cx="2078.4" cy="256.5" r="5.4"/>
<circle cx="2066.0" cy="244.7" r="5.4"/>
<circle cx="2097.0" cy="239.6" r="5.4"/>
<circle cx="2096.7" cy="239.9" r="5.4"/>
<circle cx="2083.8" cy="291.8" r="5.4"/>
<circle cx="2152.0" cy="99.6" r="5.4"/>
<circle cx="2083.7" cy="266.2" r="5.4"/>
<circle cx="2126.8" cy="225.3" r="5.4"/>
<circle cx="2084.9" cy="284.0" r="5.4"/>
<circle cx="2082.9" cy="198.6" r="5.4"/>
<circle cx="2106.8" cy="230.7" r="5.4"/>
<circle cx="2119.2" cy="215.7" r="5.4"/>
<circle cx="2117.9" cy="233.4" r="5.4"/>
<circle cx="2126.6" cy="181.5" r="5.4"/>
<circle cx="2118.9" cy="213.3" r="5.4"/>
<circle cx="2090.8" cy="264.2" r="5.4"/>
<circle cx="2097.9" cy="267.4" r="5.4"/>
<circle cx="2126.0" cy="165.0" r="5.4"/>
<circle cx="2073.5" cy="268.0" r="5.4"/>
<circle cx="2122.9" cy="181.0" r="5.4"/>
<circle cx="2092.9" cy="228.3" r="5.4"/>
<circle cx="2072.1" cy="313.3" r="5.4"/>
<circle cx="2070.7" cy="276.9" r="5.4"/>
<circle cx="2071.9" cy="289.3" r="5.4"/>
<circle cx="2090.7" cy="289.0" r="5.4"/>
<circle cx="2084.8" cy="280.3" r="5.4"/>
<circle cx="2107.8" cy="232.6" r="5.4"/>
<circle cx="2109.9" cy="204.1" r="5.4"/>
<circle cx="2126.6" cy="220.1" r="5.4"/>
<circle cx="2070.3" cy="219.8" r="5.4"/>
<circle cx="2125.0" cy="183.0" r="5.4"/>
<circle cx="2097.3" cy="283.6" r="5.4"/>
<circle cx="2084.2" cy="260.6" r="5.4"/>
<circle cx="2070.7" cy="290.5" r="5.4"/>
<circle cx="2108.6" cy="199.9" r="5.4"/>
<circle cx="2068.5" cy="216.4" r="5.4"/>
<circle cx="2119.3" cy="172.7" r="5.4"/>
<circle cx="2098.8" cy="256.5" r="5.4"/>
<circle cx="2126.8" cy="215.3" r="5.4"/>
<circle cx="2091.7" cy="310.6" r="5.4"/>
<circle cx="2121.2" cy="168.3" r="5.4"/>
<circle cx="2084.4" cy="253.4" r="5.4"/>
<circle cx="2073.1" cy="296.6" r="5.4"/>
<circle cx="2071.2" cy="267.7" r="5.4"/>
<circle cx="2071.1" cy="236.5" r="5.4"/>
<circle cx="2068.9" cy="311.3" r="5.4"/>
<circle cx="2092.9" cy="254.7" r="5.4"/>
<circle cx="2082.5" cy="251.9" r="5.4"/>
<circle cx="2086.6" cy="212.8" r="5.4"/>
<circle cx="2104.5" cy="234.1" r="5.4"/>
<circle cx="2097.1" cy="244.9" r="5.4"/>
<circle cx="2093.0" cy="297.8" r="5.4"/>
<circle cx="2118.5" cy="187.7" r="5.4"/>
<circle cx="2090.8" cy="277.4" r="5.4"/>
<circle cx="2067.5" cy="276.3" r="5.4"/>
<circle cx="2085.5" cy="257.4" r="5.4"/>
<circle cx="2080.8" cy="315.5" r="5.4"/>
<circle cx="2082.9" cy="320.2" r="5.4"/>
<circle cx="2103.1" cy="221.5" r="5.4"/>
<circle cx="2083.7" cy="246.1" r="5.4"/>
<circle cx="2071.7" cy="266.4" r="5.4"/>
<circle cx="2124.3" cy="227.5" r="5.4"/>
<circle cx="2070.0" cy="295.2" r="5.4"/>
<circle cx="2095.9" cy="264.6" r="5.4"/>
<circle cx="2083.7" cy="277.3" r="5.4"/>
<circle cx="2086.7" cy="278.1" r="5.4"/>
<circle cx="2103.1" cy="261.9" r="5.4"/>
<circle cx="2110.1" cy="191.9" r="5.4"/>
<circle cx="2068.8" cy="277.2" r="5.4"/>
<circle cx="2124.3" cy="167.4" r="5.4"/>
<circle cx="2097.2" cy="244.4" r="5.4"/>
<circle cx="2091.3" cy="245.0" r="5.4"/>
<circle cx="2070.9" cy="223.8" r="5.4"/>
<circle cx="2130.0" cy="169.4" r="5.4"/>
<circle cx="2076.5" cy="317.0" r="5.4"/>
<circle cx="2086.0" cy="284.3" r="5.4"/>
<circle cx="2100.7" cy="267.0" r="5.4"/>
<circle cx="2071.0" cy="306.7" r="5.4"/>
<circle cx="2097.7" cy="226.4" r="5.4"/>
<circle cx="2097.6" cy="248.7" r="5.4"/>
<circle cx="2067.1" cy="307.2" r="5.4"/>
<circle cx="2087.2" cy="213.1" r="5.4"/>
<circle cx="2078.8" cy="256.7" r="5.4"/>
<circle cx="2069.1" cy="279.2" r="5.4"/>
<circle cx="2071.0" cy="287.3" r="5.4"/>
<circle cx="2098.6" cy="202.8" r="5.4"/>
<circle cx="2083.9" cy="254.9" r="5.4"/>
<circle cx="2069.9" cy="250.4" r="5.4"/>
<circle cx="2082.7" cy="192.4" r="5.4"/>
<circle cx="2094.1" cy="223.4" r="5.4"/>
<circle cx="2097.4" cy="206.6" r="5.4"/>
<circle cx="2070.8" cy="231.5" r="5.4"/>
<circle cx="2078.9" cy="312.8" r="5.4"/>
<circle cx="2121.3" cy="229.3" r="5.4"/>
<circle cx="2109.7" cy="210.3" r="5.4"/>
<circle cx="2085.6" cy="218.3" r="5.4"/>
<circle cx="2097.3" cy="229.8" r="5.4"/>
<circle cx="2111.0" cy="190.1" r="5.4"/>
<circle cx="2107.9" cy="180.8" r="5.4"/>
<circle cx="2096.6" cy="228.9" r="5.4"/>
<circle cx="2081.2" cy="257.2" r="5.4"/>
<circle cx="2088.4" cy="282.2" r="5.4"/>
<circle cx="2060.6" cy="321.4" r="5.4"/>
<circle cx="2072.5" cy="254.4" r="5.4"/>
<circle cx="2091.8" cy="290.5" r="5.4"/>
<circle cx="2075.0" cy="242.1" r="5.4"/>
<circle cx="2070.4" cy="245.3" r="5.4"/>
<circle cx="2127.0" cy="208.5" r="5.4"/>
<circle cx="2086.4" cy="209.2" r="5.4"/>
<circle cx="2118.5" cy="231.3" r="5.4"/>
<circle cx="2069.2" cy="274.3" r="5.4"/>
<circle cx="2085.9" cy="191.9" r="5.4"/>
<circle cx="2084.9" cy="284.9" r="5.4"/>
<circle cx="2098.4" cy="242.9" r="5.4"/>
<circle cx="2093.8" cy="290.3" r="5.4"/>
<circle cx="2072.2" cy="263.8" r="5.4"/>
<circle cx="2129.7" cy="172.2" r="5.4"/>
<circle cx="2089.3" cy="239.2" r="5.4"/>
<circle cx="2082.1" cy="292.9" r="5.4"/>
<circle cx="2081.2" cy="224.8" r="5.4"/>
<circle cx="2068.9" cy="316.9" r="5.4"/>
<circle cx="2098.3" cy="264.7" r="5.4"/>
<circle cx="2072.2" cy="288.6" r="5.4"/>
<circle cx="2071.3" cy="258.1" r="5.4"/>
<circle cx="2082.4" cy="254.1" r="5.4"/>
<circle cx="2149.8" cy="136.3" r="5.4"/>
<circle cx="2087.4" cy="219.4" r="5.4"/>
<circle cx="2083.8" cy="315.8" r="5.4"/>
<circle cx="2078.2" cy="248.4" r="5.4"/>
<circle cx="2077.6" cy="247.2" r="5.4"/>
<circle cx="2072.8" cy="339.0" r="5.4"/>
<circle cx="2099.9" cy="256.1" r="5.4"/>
<circle cx="2129.8" cy="196.6" r="5.4"/>
<circle cx="2074.1" cy="393.1" r="5.4"/>
<circle cx="2070.3" cy="287.4" r="5.4"/>
<circle cx="2069.3" cy="214.4" r="5.4"/>
<circle cx="2081.7" cy="204.2" r="5.4"/>
<circle cx="2084.7" cy="273.6" r="5.4"/>
<circle cx="2129.1" cy="168.1" r="5.4"/>
<circle cx="2084.2" cy="207.6" r="5.4"/>
<circle cx="2078.5" cy="279.2" r="5.4"/>
<circle cx="2070.3" cy="259.6" r="5.4"/>
<circle cx="2069.6" cy="300.2" r="5.4"/>
<circle cx="2085.4" cy="250.0" r="5.4"/>
<circle cx="2092.0" cy="281.3" r="5.4"/>
<circle cx="2084.0" cy="249.0" r="5.4"/>
<circle cx="2125.1" cy="189.2" r="5.4"/>
<circle cx="2124.1" cy="190.7" r="5.4"/>
<circle cx="2074.1" cy="362.0" r="5.4"/>
<circle cx="2084.4" cy="321.7" r="5.4"/>
<circle cx="2084.9" cy="263.1" r="5.4"/>
<circle cx="2082.8" cy="322.6" r="5.4"/>
<circle cx="2081.8" cy="312.3" r="5.4"/>
<circle cx="2085.3" cy="277.5" r="5.4"/>
<circle cx="2096.8" cy="234.9" r="5.4"/>
<circle cx="2086.0" cy="311.9" r="5.4"/>
<circle cx="2069.9" cy="294.3" r="5.4"/>
<circle cx="2117.5" cy="220.9" r="5.4"/>
<circle cx="2095.6" cy="237.6" r="5.4"/>
<circle cx="2087.2" cy="283.9" r="5.4"/>
<circle cx="2071.1" cy="280.4" r="5.4"/>
<circle cx="2093.9" cy="291.8" r="5.4"/>
<circle cx="2109.6" cy="234.6" r="5.4"/>
<circle cx="2082.3" cy="259.5" r="5.4"/>
<circle cx="2083.4" cy="256.2" r="5.4"/>
<circle cx="2100.2" cy="272.6" r="5.4"/>
<circle cx="2095.6" cy="195.3" r="5.4"/>
<circle cx="2079.0" cy="302.9" r="5.4"/>
<circle cx="2096.0" cy="281.1" r="5.4"/>
<circle cx="2130.5" cy="219.4" r="5.4"/>
<circle cx="2106.8" cy="258.3" r="5.4"/>
<circle cx="2117.5" cy="210.5" r="5.4"/>
<circle cx="2094.4" cy="254.4" r="5.4"/>
<circle cx="2091.6" cy="267.4" r="5.4"/>
<circle cx="2094.1" cy="274.1" r="5.4"/>
<circle cx="2098.4" cy="267.3" r="5.4"/>
<circle cx="2113.3" cy="193.1" r="5.4"/>
<circle cx="2080.9" cy="254.8" r="5.4"/>
<circle cx="2070.3" cy="236.2" r="5.4"/>
<circle cx="2082.1" cy="276.3" r="5.4"/>
<circle cx="2108.9" cy="201.9" r="5.4"/>
<circle cx="2125.7" cy="169.8" r="5.4"/>
<circle cx="2125.9" cy="199.3" r="5.4"/>
<circle cx="2122.9" cy="159.2" r="5.4"/>
<circle cx="2109.6" cy="189.2" r="5.4"/>
<circle cx="2119.0" cy="165.0" r="5.4"/>
<circle cx="2070.2" cy="214.0" r="5.4"/>
<circle cx="2099.2" cy="249.6" r="5.4"/>
<circle cx="2085.6" cy="268.6" r="5.4"/>
<circle cx="2118.5" cy="197.1" r="5.4"/>
<circle cx="2089.0" cy="288.0" r="5.4"/>
<circle cx="2086.1" cy="274.5" r="5.4"/>
<circle cx="2096.5" cy="272.7" r="5.4"/>
<circle cx="2105.9" cy="238.6" r="5.4"/>
<circle cx="2096.3" cy="252.2" r="5.4"/>
<circle cx="2084.3" cy="293.5" r="5.4"/>
<circle cx="2085.4" cy="301.5" r="5.4"/>
<circle cx="2086.8" cy="243.0" r="5.4"/>
<circle cx="2091.2" cy="307.0" r="5.4"/>
<circle cx="2071.1" cy="247.3" r="5.4"/>
<circle cx="2116.3" cy="174.5" r="5.4"/>
<circle cx="2097.6" cy="221.5" r="5.4"/>
<circle cx="2072.2" cy="273.3" r="5.4"/>
<circle cx="2085.4" cy="311.0" r="5.4"/>
<circle cx="2093.1" cy="302.0" r="5.4"/>
<circle cx="2091.7" cy="270.4" r="5.4"/>
<circle cx="2084.1" cy="282.8" r="5.4"/>
<circle cx="2085.0" cy="196.8" r="5.4"/>
<circle cx="2085.0" cy="207.4" r="5.4"/>
<circle cx="2119.1" cy="202.3" r="5.4"/>
<circle cx="2069.8" cy="259.2" r="5.4"/>
<circle cx="2069.4" cy="303.2" r="5.4"/>
<circle cx="2113.7" cy="225.1" r="5.4"/>
<circle cx="2125.6" cy="185.5" r="5.4"/>
<circle cx="2084.1" cy="283.8" r="5.4"/>
<circle cx="2081.2" cy="253.4" r="5.4"/>
<circle cx="2071.3" cy="297.0" r="5.4"/>
<circle cx="2127.9" cy="167.7" r="5.4"/>
<circle cx="2115.4" cy="187.9" r="5.4"/>
<circle cx="2068.0" cy="287.0" r="5.4"/>
<circle cx="2076.4" cy="302.4" r="5.4"/>
<circle cx="2096.1" cy="235.4" r="5.4"/>
<circle cx="2084.3" cy="222.2" r="5.4"/>
<circle cx="2123.8" cy="180.7" r="5.4"/>
<circle cx="2084.5" cy="189.0" r="5.4"/>
<circle cx="2068.9" cy="275.4" r="5.4"/>
<circle cx="2099.2" cy="263.9" r="5.4"/>
<circle cx="2074.9" cy="265.4" r="5.4"/>
<circle cx="2110.1" cy="197.9" r="5.4"/>
<circle cx="2083.3" cy="265.1" r="5.4"/>
<circle cx="2109.2" cy="238.1" r="5.4"/>
<circle cx="2067.8" cy="257.0" r="5.4"/>
<circle cx="2082.0" cy="258.8" r="5.4"/>
<circle cx="2110.5" cy="235.8" r="5.4"/>
<circle cx="2097.8" cy="255.2" r="5.4"/>
<circle cx="2078.6" cy="253.3" r="5.4"/>
<circle cx="2066.0" cy="284.5" r="5.4"/>
<circle cx="2070.4" cy="316.7" r="5.4"/>
<circle cx="2124.7" cy="181.2" r="5.4"/>
<circle cx="2084.9" cy="283.7" r="5.4"/>
<circle cx="2068.1" cy="317.4" r="5.4"/>
<circle cx="2095.9" cy="196.1" r="5.4"/>
<circle cx="2082.9" cy="264.1" r="5.4"/>
<circle cx="2068.8" cy="220.3" r="5.4"/>
<circle cx="2094.1" cy="282.2" r="5.4"/>
<circle cx="2124.4" cy="172.5" r="5.4"/>
<circle cx="2121.7" cy="176.4" r="5.4"/>
<circle cx="2085.4" cy="300.8" r="5.4"/>
<circle cx="2082.5" cy="295.7" r="5.4"/>
<circle cx="2105.0" cy="232.7" r="5.4"/>
<circle cx="2070.0" cy="284.3" r="5.4"/>
<circle cx="2085.5" cy="248.1" r="5.4"/>
<circle cx="2126.7" cy="135.5" r="5.4"/>
<circle cx="2084.3" cy="259.9" r="5.4"/>
<circle cx="2068.9" cy="266.7" r="5.4"/>
<circle cx="2099.0" cy="246.1" r="5.4"/>
<circle cx="2072.0" cy="244.1" r="5.4"/>
<circle cx="2073.0" cy="265.7" r="5.4"/>
<circle cx="2070.1" cy="262.6" r="5.4"/>
<circle cx="2125.7" cy="224.3" r="5.4"/>
<circle cx="2086.1" cy="321.4" r="5.4"/>
<circle cx="2085.7" cy="269.6" r="5.4"/>
<circle cx="2104.5" cy="211.8" r="5.4"/>
<circle cx="2070.3" cy="319.9" r="5.4"/>
<circle cx="2122.6" cy="175.7" r="5.4"/>
<circle cx="2097.0" cy="259.1" r="5.4"/>
<circle cx="2085.9" cy="305.6" r="5.4"/>
<circle cx="2071.1" cy="239.2" r="5.4"/>
<circle cx="2132.6" cy="168.0" r="5.4"/>
<circle cx="2106.4" cy="212.6" r="5.4"/>
<circle cx="2097.2" cy="251.0" r="5.4"/>
<circle cx="2084.6" cy="274.1" r="5.4"/>
<circle cx="2098.7" cy="228.2" r="5.4"/>
<circle cx="2071.4" cy="255.4" r="5.4"/>
<circle cx="2126.2" cy="244.8" r="5.4"/>
<circle cx="2131.3" cy="191.0" r="5.4"/>
<circle cx="2118.3" cy="197.6" r="5.4"/>
<circle cx="2085.5" cy="222.2" r="5.4"/>
<circle cx="2069.7" cy="292.2" r="5.4"/>
<circle cx="2097.9" cy="212.9" r="5.4"/>
<circle cx="2097.5" cy="212.3" r="5.4"/>
<circle cx="2107.1" cy="221.5" r="5.4"/>
<circle cx="2084.7" cy="278.2" r="5.4"/>
<circle cx="2097.7" cy="268.0" r="5.4"/>
<circle cx="2085.3" cy="204.0" r="5.4"/>
<circle cx="2085.9" cy="260.2" r="5.4"/>
<circle cx="2128.3" cy="216.3" r="5.4"/>
<circle cx="2073.4" cy="230.3" r="5.4"/>
<circle cx="2107.6" cy="209.9" r="5.4"/>
<circle cx="2098.3" cy="213.3" r="5.4"/>
<circle cx="2125.0" cy="193.5" r="5.4"/>
<circle cx="2070.9" cy="289.5" r="5.4"/>
<circle cx="2102.3" cy="245.1" r="5.4"/>
<circle cx="2068.7" cy="302.9" r="5.4"/>
<circle cx="2127.9" cy="186.3" r="5.4"/>
<circle cx="2119.3" cy="205.4" r="5.4"/>
<circle cx="2111.4" cy="230.5" r="5.4"/>
<circle cx="2097.0" cy="279.0" r="5.4"/>
<circle cx="2086.3" cy="311.9" r="5.4"/>
<circle cx="2085.6" cy="258.0" r="5.4"/>
<circle cx="2084.3" cy="213.9" r="5.4"/>
<circle cx="2086.7" cy="282.7" r="5.4"/>
<circle cx="2111.3" cy="205.4" r="5.4"/>
<circle cx="2079.2" cy="237.4" r="5.4"/>
<circle cx="2070.9" cy="289.8" r="5.4"/>
<circle cx="2067.9" cy="220.6" r="5.4"/>
<circle cx="2091.5" cy="263.7" r="5.4"/>
<circle cx="2099.3" cy="216.3" r="5.4"/>
<circle cx="2096.8" cy="195.1" r="5.4"/>
<circle cx="2098.5" cy="253.5" r="5.4"/>
<circle cx="2090.5" cy="289.9" r="5.4"/>
<circle cx="2123.8" cy="171.5" r="5.4"/>
<circle cx="2097.3" cy="265.1" r="5.4"/>
<circle cx="2090.3" cy="257.6" r="5.4"/>
<circle cx="2125.1" cy="184.5" r="5.4"/>
<circle cx="2071.5" cy="308.4" r="5.4"/>
<circle cx="2067.2" cy="258.9" r="5.4"/>
<circle cx="2069.8" cy="251.5" r="5.4"/>
<circle cx="2071.5" cy="308.1" r="5.4"/>
<circle cx="2084.9" cy="316.2" r="5.4"/>
<circle cx="2071.4" cy="256.2" r="5.4"/>
<circle cx="2069.4" cy="278.2" r="5.4"/>
<circle cx="2071.2" cy="275.9" r="5.4"/>
<circle cx="2082.9" cy="208.4" r="5.4"/>
<circle cx="2122.0" cy="179.5" r="5.4"/>
<circle cx="2080.2" cy="225.6" r="5.4"/>
<circle cx="2085.0" cy="298.1" r="5.4"/>
<circle cx="2086.6" cy="260.6" r="5.4"/>
<circle cx="2092.3" cy="289.2" r="5.4"/>
<circle cx="2069.5" cy="316.0" r="5.4"/>
<circle cx="2086.4" cy="295.0" r="5.4"/>
<circle cx="2086.0" cy="297.4" r="5.4"/>
<circle cx="2076.9" cy="316.2" r="5.4"/>
<circle cx="2071.2" cy="291.3" r="5.4"/>
<circle cx="2097.4" cy="215.3" r="5.4"/>
<circle cx="2118.4" cy="185.8" r="5.4"/>
<circle cx="2094.8" cy="241.6" r="5.4"/>
<circle cx="2069.5" cy="297.3" r="5.4"/>
<circle cx="2072.0" cy="266.8" r="5.4"/>
<circle cx="2067.5" cy="227.4" r="5.4"/>
<circle cx="2095.8" cy="281.1" r="5.4"/>
<circle cx="2084.0" cy="287.4" r="5.4"/>
<circle cx="2086.5" cy="303.3" r="5.4"/>
<circle cx="2097.2" cy="254.1" r="5.4"/>
<circle cx="2128.3" cy="169.8" r="5.4"/>
<circle cx="2097.0" cy="238.0" r="5.4"/>
<circle cx="2119.0" cy="205.6" r="5.4"/>
<circle cx="2070.9" cy="304.6" r="5.4"/>
<circle cx="2088.8" cy="289.4" r="5.4"/>
<circle cx="2119.5" cy="212.7" r="5.4"/>
<circle cx="2083.0" cy="322.0" r="5.4"/>
<circle cx="2092.0" cy="309.1" r="5.4"/>
<circle cx="2096.8" cy="216.9" r="5.4"/>
<circle cx="2105.5" cy="255.6" r="5.4"/>
<circle cx="2084.6" cy="247.0" r="5.4"/>
<circle cx="2072.7" cy="254.2" r="5.4"/>
<circle cx="2098.2" cy="254.5" r="5.4"/>
<circle cx="2074.4" cy="296.4" r="5.4"/>
<circle cx="2098.2" cy="258.0" r="5.4"/>
<circle cx="2109.2" cy="230.6" r="5.4"/>
<circle cx="2104.6" cy="222.2" r="5.4"/>
<circle cx="2095.9" cy="279.2" r="5.4"/>
<circle cx="2069.6" cy="261.1" r="5.4"/>
<circle cx="2090.2" cy="266.0" r="5.4"/>
<circle cx="2105.7" cy="223.0" r="5.4"/>
</g>
<g fill="#4f88c8" stroke="#1a222e" stroke-width="1.15">
<circle cx="1599.5" cy="811.4" r="6.7"/>
<circle cx="1613.2" cy="829.0" r="6.7"/>
<circle cx="1651.4" cy="815.3" r="6.7"/>
<circle cx="1651.4" cy="665.5" r="6.7"/>
<circle cx="1690.4" cy="716.2" r="6.7"/>
<circle cx="1780.2" cy="702.5" r="6.7"/>
<circle cx="1754.8" cy="541.0" r="6.7"/>
<circle cx="1857.9" cy="527.8" r="6.7"/>
<circle cx="1857.9" cy="557.6" r="6.7"/>
<circle cx="1870.7" cy="551.4" r="6.7"/>
<circle cx="1935.4" cy="378.0" r="6.7"/>
<circle cx="1948.5" cy="381.8" r="6.7"/>
<circle cx="1956.2" cy="438.8" r="6.7"/>
<circle cx="1974.0" cy="439.0" r="6.7"/>
<circle cx="1922.5" cy="447.3" r="6.7"/>
<circle cx="1987.1" cy="477.2" r="6.7"/>
<circle cx="1883.6" cy="489.4" r="6.7"/>
<circle cx="1909.6" cy="503.4" r="6.7"/>
<circle cx="2072.1" cy="317.4" r="6.7"/>
<circle cx="2071.0" cy="293.0" r="6.7"/>
</g>
<line x1="1600.4" y1="860.1" x2="2152.1" y2="186.5" stroke="#000" stroke-width="2.3"/>
<g fill="#e0392a" stroke="#2a1010" stroke-width="1">
<circle cx="2083.2" cy="253.0" r="7.3"/>
<circle cx="2083.8" cy="257.0" r="7.3"/>
<circle cx="2082.7" cy="261.0" r="7.3"/>
<circle cx="2083.7" cy="266.0" r="7.3"/>
<circle cx="2083.1" cy="270.0" r="7.3"/>
<circle cx="2083.1" cy="274.0" r="7.3"/>
<circle cx="2084.1" cy="279.0" r="7.3"/>
<circle cx="2083.3" cy="283.0" r="7.3"/>
<circle cx="2083.2" cy="286.0" r="7.3"/>
<circle cx="2083.6" cy="289.0" r="7.3"/>
<circle cx="2083.8" cy="292.0" r="7.3"/>
<circle cx="2083.2" cy="295.3" r="7.3"/>
</g>
<circle cx="1607.2" cy="112.5" r="9.3" fill="#de3a28" stroke="#1a1a1a" stroke-width="1.2"/>
<text font-size="27.6" x="1632.5" y="121.9">This study (n=88)</text>
<circle cx="1607.2" cy="152.9" r="9.3" fill="#4d86c6" stroke="#1a1a1a" stroke-width="1.2"/>
<text font-size="27.6" x="1632.5" y="162.3" textLength="246.5">Used for YFV500/V1</text>
<circle cx="1607.2" cy="192.6" r="9.3" fill="#cbcbcb" stroke="#1a1a1a" stroke-width="1.2"/>
<text font-size="27.6" x="1632.5" y="202.0">Other sequences</text>
</svg></body></html>
